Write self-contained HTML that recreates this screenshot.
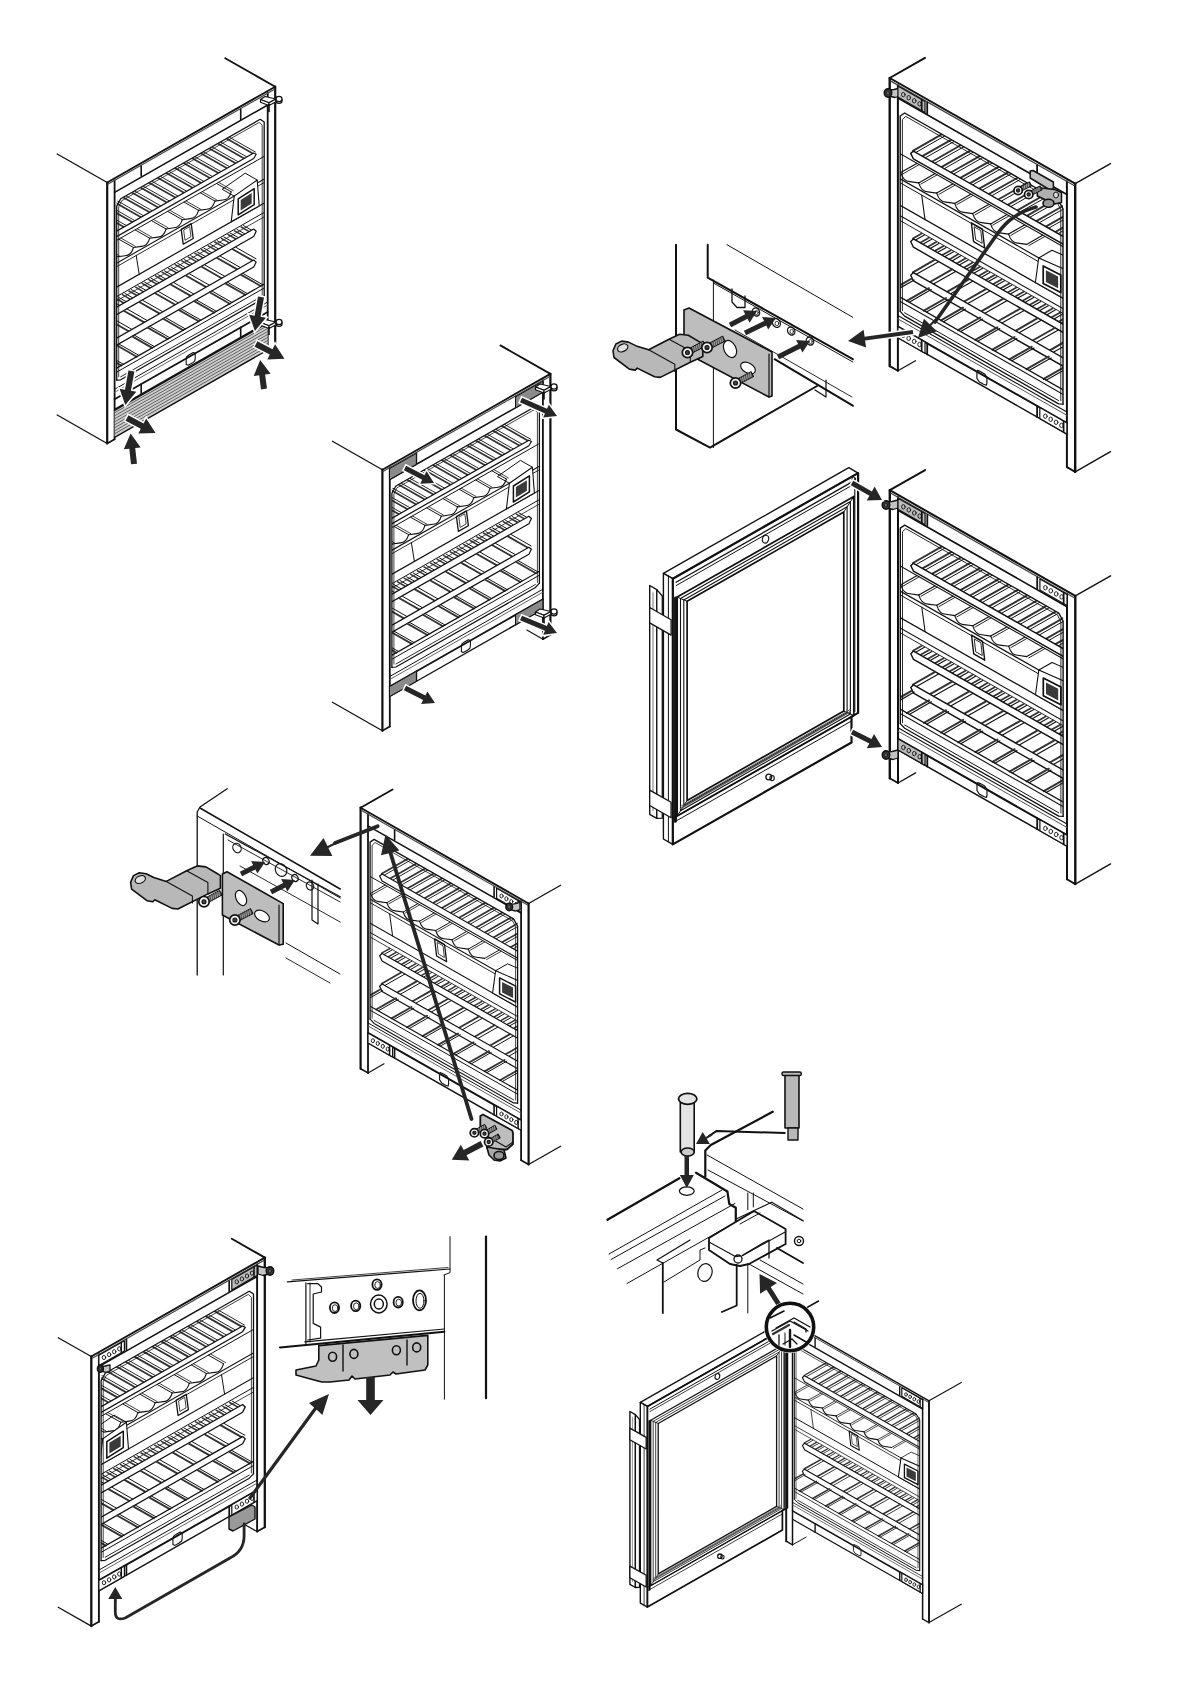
<!DOCTYPE html>
<html><head><meta charset="utf-8"><style>
html,body{margin:0;padding:0;background:#fff;}
svg{display:block;}
</style></head><body>
<svg width="1191" height="1684" viewBox="0 0 1191 1684" stroke-linecap="round" stroke-linejoin="round">
<rect width="1191" height="1684" fill="#fff"/>
<path d="M107.2,182.5 L57.2,154" stroke="#111" stroke-width="1.3" fill="none"/>
<path d="M107.2,443.5 L57.2,415" stroke="#111" stroke-width="1.3" fill="none"/>
<path d="M275.2,86.7 L225.2,58.2" stroke="#111" stroke-width="1.8" fill="none"/>
<path d="M107.2,182.5 L107.2,443.5" stroke="#111" stroke-width="2.2" fill="none"/>
<path d="M114.6,180.3 L114.6,439.3" stroke="#111" stroke-width="1.8" fill="none"/>
<path d="M107.2,443.5 L114.6,439.3" stroke="#111" stroke-width="1.6" fill="none"/>
<path d="M275.2,86.7 L275.2,347.7" stroke="#111" stroke-width="2.2" fill="none"/>
<path d="M267.7,93 L267.7,352" stroke="#111" stroke-width="1.8" fill="none"/>
<path d="M275.2,347.7 L267.7,352" stroke="#111" stroke-width="1.6" fill="none"/>
<path d="M107.2,182.5 L275.2,86.7" stroke="#111" stroke-width="1.8" fill="none"/>
<path d="M108.2,184.1 L274.2,89.5" stroke="#444" stroke-width="1.2" fill="none"/>
<path d="M114.6,192.3 L267.7,105" stroke="#111" stroke-width="1.5" fill="none"/>
<path d="M141.2,166.1 L141.2,176.1" stroke="#111" stroke-width="1.6" fill="none"/>
<path d="M240.7,109.4 L240.7,119.4" stroke="#111" stroke-width="1.6" fill="none"/>
<path d="M114.6,389.3 L267.7,302" stroke="#111" stroke-width="1" fill="none"/>
<path d="M114.6,392.3 L267.7,305" stroke="#555" stroke-width="0.9" fill="none"/>
<path d="M114.6,399.3 L267.7,312" stroke="#111" stroke-width="1.8" fill="none"/>
<path d="M141.2,384.1 L141.2,394.1" stroke="#111" stroke-width="1.6" fill="none"/>
<path d="M240.7,327.4 L240.7,337.4" stroke="#111" stroke-width="1.6" fill="none"/>
<path d="M114.6,409.3 L267.7,322" stroke="#111" stroke-width="1.4" fill="none"/>
<path d="M186.2,359.5 L186.7,356.7 L189.2,354.8 L193.2,352.5 L195.2,353.3 L195.2,358.3 L194.7,361.1 L192.2,363.1 L188.2,365.3 L186.2,364.5 L186.2,359.5" stroke="#111" stroke-width="1.1" fill="none"/>
<clipPath id="c1"><path d="M116.7,201.1 L264.2,117 L264.2,298 L116.7,382.1 Z"/></clipPath><g clip-path="url(#c1)">
<path d="M115.2,231.9 L87.2,216" stroke="#333" stroke-width="1.7" fill="none"/>
<path d="M117.8,230.5 L89.8,214.5" stroke="#111" stroke-width="0.9" fill="none"/>
<path d="M123.8,227 L95.8,211.1" stroke="#333" stroke-width="1.7" fill="none"/>
<path d="M126.4,225.6 L98.4,209.6" stroke="#111" stroke-width="0.9" fill="none"/>
<path d="M132.4,222.1 L104.4,206.2" stroke="#333" stroke-width="1.7" fill="none"/>
<path d="M135,220.7 L107,204.7" stroke="#111" stroke-width="0.9" fill="none"/>
<path d="M141,217.2 L113,201.3" stroke="#333" stroke-width="1.7" fill="none"/>
<path d="M143.6,215.8 L115.6,199.8" stroke="#111" stroke-width="0.9" fill="none"/>
<path d="M149.6,212.3 L121.6,196.4" stroke="#333" stroke-width="1.7" fill="none"/>
<path d="M152.2,210.8 L124.2,194.9" stroke="#111" stroke-width="0.9" fill="none"/>
<path d="M158.2,207.4 L130.2,191.5" stroke="#333" stroke-width="1.7" fill="none"/>
<path d="M160.8,205.9 L132.8,190" stroke="#111" stroke-width="0.9" fill="none"/>
<path d="M166.8,202.5 L138.8,186.6" stroke="#333" stroke-width="1.7" fill="none"/>
<path d="M169.4,201 L141.4,185.1" stroke="#111" stroke-width="0.9" fill="none"/>
<path d="M175.4,197.6 L147.4,181.7" stroke="#333" stroke-width="1.7" fill="none"/>
<path d="M178,196.1 L150,180.2" stroke="#111" stroke-width="0.9" fill="none"/>
<path d="M184,192.7 L156,176.8" stroke="#333" stroke-width="1.7" fill="none"/>
<path d="M186.6,191.2 L158.6,175.3" stroke="#111" stroke-width="0.9" fill="none"/>
<path d="M192.6,187.8 L164.6,171.9" stroke="#333" stroke-width="1.7" fill="none"/>
<path d="M195.2,186.3 L167.2,170.4" stroke="#111" stroke-width="0.9" fill="none"/>
<path d="M201.2,182.9 L173.2,167" stroke="#333" stroke-width="1.7" fill="none"/>
<path d="M203.8,181.4 L175.8,165.5" stroke="#111" stroke-width="0.9" fill="none"/>
<path d="M209.8,178 L181.8,162.1" stroke="#333" stroke-width="1.7" fill="none"/>
<path d="M212.4,176.5 L184.4,160.6" stroke="#111" stroke-width="0.9" fill="none"/>
<path d="M218.4,173.1 L190.4,157.2" stroke="#333" stroke-width="1.7" fill="none"/>
<path d="M221,171.6 L193,155.7" stroke="#111" stroke-width="0.9" fill="none"/>
<path d="M227,168.2 L199,152.3" stroke="#333" stroke-width="1.7" fill="none"/>
<path d="M229.6,166.7 L201.6,150.8" stroke="#111" stroke-width="0.9" fill="none"/>
<path d="M235.6,163.3 L207.6,147.4" stroke="#333" stroke-width="1.7" fill="none"/>
<path d="M238.2,161.8 L210.2,145.9" stroke="#111" stroke-width="0.9" fill="none"/>
<path d="M244.2,158.4 L216.2,142.5" stroke="#333" stroke-width="1.7" fill="none"/>
<path d="M246.8,156.9 L218.8,141" stroke="#111" stroke-width="0.9" fill="none"/>
<path d="M252.8,153.5 L224.8,137.5" stroke="#333" stroke-width="1.7" fill="none"/>
<path d="M255.4,152 L227.4,136.1" stroke="#111" stroke-width="0.9" fill="none"/>
<path d="M102.2,239.3 L253.7,153 L256.2,154.3 L253.7,158.5 L102.2,244.8" stroke="#111" stroke-width="1.2" fill="#fff"/>
<path d="M102.2,248.3 L280.2,146.9 L280.2,195.9 L102.2,297.4 Z" fill="#fff" stroke="none" stroke-width="0"/>
<path d="M102.2,248.6 L280.2,147.2" stroke="#111" stroke-width="1" fill="none"/>
<path d="M117.2,256.8 L102.7,248.5" stroke="#111" stroke-width="1" fill="none"/>
<path d="M119.2,255.7 L104.7,247.4" stroke="#111" stroke-width="0.8" fill="none"/>
<path d="M133.5,247.5 L119,239.3" stroke="#111" stroke-width="1" fill="none"/>
<path d="M135.5,246.4 L121,238.1" stroke="#111" stroke-width="0.8" fill="none"/>
<path d="M149.8,238.2 L135.3,230" stroke="#111" stroke-width="1" fill="none"/>
<path d="M151.8,237.1 L137.3,228.8" stroke="#111" stroke-width="0.8" fill="none"/>
<path d="M166.1,229 L151.6,220.7" stroke="#111" stroke-width="1" fill="none"/>
<path d="M168.1,227.8 L153.6,219.5" stroke="#111" stroke-width="0.8" fill="none"/>
<path d="M182.3,219.7 L167.8,211.4" stroke="#111" stroke-width="1" fill="none"/>
<path d="M184.3,218.5 L169.8,210.3" stroke="#111" stroke-width="0.8" fill="none"/>
<path d="M198.6,210.4 L184.1,202.1" stroke="#111" stroke-width="1" fill="none"/>
<path d="M200.6,209.2 L186.1,201" stroke="#111" stroke-width="0.8" fill="none"/>
<path d="M214.9,201.1 L200.4,192.8" stroke="#111" stroke-width="1" fill="none"/>
<path d="M216.9,200 L202.4,191.7" stroke="#111" stroke-width="0.8" fill="none"/>
<path d="M231.2,191.8 L216.7,183.6" stroke="#111" stroke-width="1" fill="none"/>
<path d="M233.2,190.7 L218.7,182.4" stroke="#111" stroke-width="0.8" fill="none"/>
<path d="M117.2,256.8 L125.2,255.7 Q131,255.7 133.5,247.5" stroke="#111" stroke-width="1.1" fill="none"/>
<path d="M133.5,247.5 L141.5,246.4 Q147.3,246.4 149.8,238.2" stroke="#111" stroke-width="1.1" fill="none"/>
<path d="M149.8,238.2 L157.8,237.1 Q163.6,237.1 166.1,229" stroke="#111" stroke-width="1.1" fill="none"/>
<path d="M166.1,229 L174,227.8 Q179.9,227.8 182.3,219.7" stroke="#111" stroke-width="1.1" fill="none"/>
<path d="M182.3,219.7 L190.3,218.6 Q196.2,218.6 198.6,210.4" stroke="#111" stroke-width="1.1" fill="none"/>
<path d="M198.6,210.4 L206.6,209.3 Q212.5,209.3 214.9,201.1" stroke="#111" stroke-width="1.1" fill="none"/>
<path d="M214.9,201.1 L222.9,200 Q228.8,200 231.2,191.8" stroke="#111" stroke-width="1.1" fill="none"/>
<path d="M102.2,271.4 L280.2,169.9" stroke="#111" stroke-width="1.1" fill="none"/>
<path d="M102.2,274.9 L280.2,173.4" stroke="#111" stroke-width="0.9" fill="none"/>
<path d="M102.2,295.4 L280.2,193.9" stroke="#111" stroke-width="1.2" fill="none"/>
<path d="M231.2,221.8 L234.2,196.1 L257.2,180 L259.2,205.9 Z" fill="#fff" stroke="#111" stroke-width="1.1"/>
<path d="M234.2,196.1 L222.2,189.3 L245.2,173.2 L257.2,180" stroke="#111" stroke-width="1" fill="none"/>
<path d="M238.2,214.8 L238.2,198.8 L254.2,188.7 L254.2,204.7 Z" stroke="#111" stroke-width="1.5" fill="none"/>
<path d="M240.7,210.4 L240.7,199.9 L251.7,193.1 L251.7,203.6 Z" fill="#3a3a3a" stroke="none" stroke-width="0"/>
<path d="M181.2,229.3 L183.2,244.2 L193.2,238.5 L191.2,223.6 Z" stroke="#111" stroke-width="1.3" fill="none"/>
<path d="M183.7,230.4 L185,240.2 L191,236.7 L189.7,227 Z" stroke="#111" stroke-width="0.8" fill="none"/>
<path d="M136.2,255.5 L139.2,274.3" stroke="#111" stroke-width="1" fill="none"/>
<path d="M102.2,304.8 L280.2,203.3" stroke="#111" stroke-width="1" fill="none"/>
<path d="M102.2,309.1 L280.2,207.7" stroke="#111" stroke-width="0.8" fill="none"/>
<path d="M117.2,306.8 L109.2,302.2" stroke="#333" stroke-width="1.5" fill="none"/>
<path d="M119.6,305.4 L111.6,300.9" stroke="#111" stroke-width="1" fill="none"/>
<path d="M123.8,303 L115.8,298.5" stroke="#333" stroke-width="1.5" fill="none"/>
<path d="M126.2,301.7 L118.2,297.1" stroke="#111" stroke-width="1" fill="none"/>
<path d="M130.4,299.3 L122.4,294.7" stroke="#333" stroke-width="1.5" fill="none"/>
<path d="M132.8,297.9 L124.8,293.3" stroke="#111" stroke-width="1" fill="none"/>
<path d="M137,295.5 L129,291" stroke="#333" stroke-width="1.5" fill="none"/>
<path d="M139.4,294.1 L131.4,289.6" stroke="#111" stroke-width="1" fill="none"/>
<path d="M143.6,291.8 L135.6,287.2" stroke="#333" stroke-width="1.5" fill="none"/>
<path d="M146,290.4 L138,285.8" stroke="#111" stroke-width="1" fill="none"/>
<path d="M150.2,288 L142.2,283.4" stroke="#333" stroke-width="1.5" fill="none"/>
<path d="M152.6,286.6 L144.6,282.1" stroke="#111" stroke-width="1" fill="none"/>
<path d="M156.8,284.2 L148.8,279.7" stroke="#333" stroke-width="1.5" fill="none"/>
<path d="M159.2,282.9 L151.2,278.3" stroke="#111" stroke-width="1" fill="none"/>
<path d="M163.4,280.5 L155.4,275.9" stroke="#333" stroke-width="1.5" fill="none"/>
<path d="M165.8,279.1 L157.8,274.5" stroke="#111" stroke-width="1" fill="none"/>
<path d="M170,276.7 L162,272.1" stroke="#333" stroke-width="1.5" fill="none"/>
<path d="M172.4,275.3 L164.4,270.8" stroke="#111" stroke-width="1" fill="none"/>
<path d="M176.6,272.9 L168.6,268.4" stroke="#333" stroke-width="1.5" fill="none"/>
<path d="M179,271.6 L171,267" stroke="#111" stroke-width="1" fill="none"/>
<path d="M183.2,269.2 L175.2,264.6" stroke="#333" stroke-width="1.5" fill="none"/>
<path d="M185.6,267.8 L177.6,263.3" stroke="#111" stroke-width="1" fill="none"/>
<path d="M189.8,265.4 L181.8,260.9" stroke="#333" stroke-width="1.5" fill="none"/>
<path d="M192.2,264.1 L184.2,259.5" stroke="#111" stroke-width="1" fill="none"/>
<path d="M196.4,261.7 L188.4,257.1" stroke="#333" stroke-width="1.5" fill="none"/>
<path d="M198.8,260.3 L190.8,255.7" stroke="#111" stroke-width="1" fill="none"/>
<path d="M203,257.9 L195,253.3" stroke="#333" stroke-width="1.5" fill="none"/>
<path d="M205.4,256.5 L197.4,252" stroke="#111" stroke-width="1" fill="none"/>
<path d="M209.6,254.1 L201.6,249.6" stroke="#333" stroke-width="1.5" fill="none"/>
<path d="M212,252.8 L204,248.2" stroke="#111" stroke-width="1" fill="none"/>
<path d="M216.2,250.4 L208.2,245.8" stroke="#333" stroke-width="1.5" fill="none"/>
<path d="M218.6,249 L210.6,244.4" stroke="#111" stroke-width="1" fill="none"/>
<path d="M222.8,246.6 L214.8,242" stroke="#333" stroke-width="1.5" fill="none"/>
<path d="M225.2,245.2 L217.2,240.7" stroke="#111" stroke-width="1" fill="none"/>
<path d="M229.4,242.8 L221.4,238.3" stroke="#333" stroke-width="1.5" fill="none"/>
<path d="M231.8,241.5 L223.8,236.9" stroke="#111" stroke-width="1" fill="none"/>
<path d="M236,239.1 L228,234.5" stroke="#333" stroke-width="1.5" fill="none"/>
<path d="M238.4,237.7 L230.4,233.2" stroke="#111" stroke-width="1" fill="none"/>
<path d="M242.6,235.3 L234.6,230.8" stroke="#333" stroke-width="1.5" fill="none"/>
<path d="M245,234 L237,229.4" stroke="#111" stroke-width="1" fill="none"/>
<path d="M249.2,231.6 L241.2,227" stroke="#333" stroke-width="1.5" fill="none"/>
<path d="M251.6,230.2 L243.6,225.6" stroke="#111" stroke-width="1" fill="none"/>
<path d="M102.2,315.4 L253.7,229 L256.2,231.3 L253.7,236.5 L102.2,322.9" stroke="#111" stroke-width="1.2" fill="#fff"/>
<path d="M113.2,340.1 L93.2,328.7" stroke="#333" stroke-width="1.8" fill="none"/>
<path d="M116.4,338.3 L96.4,326.9" stroke="#111" stroke-width="1" fill="none"/>
<path d="M128.7,331.2 L108.7,319.8" stroke="#333" stroke-width="1.8" fill="none"/>
<path d="M131.9,329.4 L111.9,318" stroke="#111" stroke-width="1" fill="none"/>
<path d="M144.2,322.4 L124.2,311" stroke="#333" stroke-width="1.8" fill="none"/>
<path d="M147.4,320.6 L127.4,309.2" stroke="#111" stroke-width="1" fill="none"/>
<path d="M159.7,313.6 L139.7,302.2" stroke="#333" stroke-width="1.8" fill="none"/>
<path d="M162.9,311.8 L142.9,300.4" stroke="#111" stroke-width="1" fill="none"/>
<path d="M175.2,304.7 L155.2,293.3" stroke="#333" stroke-width="1.8" fill="none"/>
<path d="M178.4,302.9 L158.4,291.5" stroke="#111" stroke-width="1" fill="none"/>
<path d="M190.7,295.9 L170.7,284.5" stroke="#333" stroke-width="1.8" fill="none"/>
<path d="M193.9,294.1 L173.9,282.7" stroke="#111" stroke-width="1" fill="none"/>
<path d="M206.2,287.1 L186.2,275.7" stroke="#333" stroke-width="1.8" fill="none"/>
<path d="M209.4,285.2 L189.4,273.8" stroke="#111" stroke-width="1" fill="none"/>
<path d="M221.7,278.2 L201.7,266.8" stroke="#333" stroke-width="1.8" fill="none"/>
<path d="M224.9,276.4 L204.9,265" stroke="#111" stroke-width="1" fill="none"/>
<path d="M237.2,269.4 L217.2,258" stroke="#333" stroke-width="1.8" fill="none"/>
<path d="M240.4,267.6 L220.4,256.2" stroke="#111" stroke-width="1" fill="none"/>
<path d="M252.7,260.6 L232.7,249.2" stroke="#333" stroke-width="1.8" fill="none"/>
<path d="M255.9,258.7 L235.9,247.3" stroke="#111" stroke-width="1" fill="none"/>
<path d="M102.2,346.4 L253.7,260 L256.2,262.1 L253.7,267 L102.2,353.4" stroke="#111" stroke-width="1.2" fill="#fff"/>
<path d="M121.2,365.5 L101.2,354.1" stroke="#333" stroke-width="1.8" fill="none"/>
<path d="M123.4,364.3 L103.4,352.9" stroke="#111" stroke-width="1" fill="none"/>
<path d="M136.7,356.7 L116.7,345.3" stroke="#333" stroke-width="1.8" fill="none"/>
<path d="M138.9,355.4 L118.9,344" stroke="#111" stroke-width="1" fill="none"/>
<path d="M152.2,347.9 L132.2,336.4" stroke="#333" stroke-width="1.8" fill="none"/>
<path d="M154.4,346.6 L134.4,335.2" stroke="#111" stroke-width="1" fill="none"/>
<path d="M167.7,339 L147.7,327.6" stroke="#333" stroke-width="1.8" fill="none"/>
<path d="M169.9,337.8 L149.9,326.4" stroke="#111" stroke-width="1" fill="none"/>
<path d="M183.2,330.2 L163.2,318.8" stroke="#333" stroke-width="1.8" fill="none"/>
<path d="M185.4,328.9 L165.4,317.5" stroke="#111" stroke-width="1" fill="none"/>
<path d="M198.7,321.3 L178.7,309.9" stroke="#333" stroke-width="1.8" fill="none"/>
<path d="M200.9,320.1 L180.9,308.7" stroke="#111" stroke-width="1" fill="none"/>
<path d="M214.2,312.5 L194.2,301.1" stroke="#333" stroke-width="1.8" fill="none"/>
<path d="M216.4,311.3 L196.4,299.9" stroke="#111" stroke-width="1" fill="none"/>
<path d="M229.7,303.7 L209.7,292.3" stroke="#333" stroke-width="1.8" fill="none"/>
<path d="M231.9,302.4 L211.9,291" stroke="#111" stroke-width="1" fill="none"/>
<path d="M245.2,294.8 L225.2,283.4" stroke="#333" stroke-width="1.8" fill="none"/>
<path d="M247.4,293.6 L227.4,282.2" stroke="#111" stroke-width="1" fill="none"/>
<path d="M260.7,286 L240.7,274.6" stroke="#333" stroke-width="1.8" fill="none"/>
<path d="M262.9,284.8 L242.9,273.4" stroke="#111" stroke-width="1" fill="none"/>
<path d="M102.2,376.4 L280.2,274.9" stroke="#111" stroke-width="1.2" fill="none"/>
<path d="M102.2,380.4 L280.2,278.9" stroke="#111" stroke-width="1" fill="none"/>
</g>
<path d="M116.7,380.1 L116.7,206.1 L120.7,198.8 L260.2,119.3 L264.2,122 L264.2,296" stroke="#111" stroke-width="1.3" fill="none"/>
<path d="M118.7,376.9 L118.7,206.9 L121.7,200.7 L259.2,122.4 L262.2,125.2 L262.2,295.1" stroke="#111" stroke-width="0.8" fill="none"/>
<path d="M116.7,380.1 L120.7,379.8 L260.2,300.3 L264.2,296" stroke="#111" stroke-width="1.2" fill="none"/>
<path d="M120.7,376.8 L260.2,297.3" stroke="#111" stroke-width="0.9" fill="none"/>
<path d="M114.6,410.3 L267.7,323 L267.7,350 L114.6,437.3 Z" fill="#cfcfcf" stroke="none" stroke-width="0"/>
<path d="M114.6,412.8 L267.7,325.5" stroke="#444" stroke-width="0.8" fill="none"/>
<path d="M114.6,415.8 L267.7,328.5" stroke="#444" stroke-width="0.8" fill="none"/>
<path d="M114.6,418.8 L267.7,331.5" stroke="#444" stroke-width="0.8" fill="none"/>
<path d="M114.6,421.8 L267.7,334.5" stroke="#444" stroke-width="0.8" fill="none"/>
<path d="M114.6,424.8 L267.7,337.5" stroke="#444" stroke-width="0.8" fill="none"/>
<path d="M114.6,427.8 L267.7,340.5" stroke="#444" stroke-width="0.8" fill="none"/>
<path d="M114.6,430.8 L267.7,343.5" stroke="#444" stroke-width="0.8" fill="none"/>
<path d="M114.6,433.8 L267.7,346.5" stroke="#444" stroke-width="0.8" fill="none"/>
<path d="M114.6,410.3 L267.7,323" stroke="#111" stroke-width="1.4" fill="none"/>
<path d="M114.6,437.3 L267.7,350" stroke="#111" stroke-width="1.4" fill="none"/>
<path d="M260.5,99.5 L265,96.5 L276,99 L269,102.8 Z" fill="#fff" stroke="#111" stroke-width="1.2"/>
<path d="M260.5,99.5 L269,102.8 L269,105.5 L260.5,102.3 Z" fill="#fff" stroke="#111" stroke-width="1.2"/>
<path d="M269,102.8 L276,99 L276,101.7 L269,105.5 Z" fill="#fff" stroke="#111" stroke-width="1.2"/>
<ellipse cx="279" cy="100.8" rx="3" ry="2.6" fill="#fff" stroke="#111" stroke-width="1.3" transform="rotate(0 279 100.8)"/>
<ellipse cx="279" cy="99" rx="3" ry="2.6" fill="#fff" stroke="#111" stroke-width="1.3" transform="rotate(0 279 99)"/>
<path d="M269,105.5 L269,111.5" stroke="#111" stroke-width="1.6" fill="none"/>
<path d="M260.5,322.5 L265,319.5 L276,322 L269,325.8 Z" fill="#fff" stroke="#111" stroke-width="1.2"/>
<path d="M260.5,322.5 L269,325.8 L269,328.5 L260.5,325.3 Z" fill="#fff" stroke="#111" stroke-width="1.2"/>
<path d="M269,325.8 L276,322 L276,324.7 L269,328.5 Z" fill="#fff" stroke="#111" stroke-width="1.2"/>
<ellipse cx="279" cy="323.8" rx="3" ry="2.6" fill="#fff" stroke="#111" stroke-width="1.3" transform="rotate(0 279 323.8)"/>
<ellipse cx="279" cy="322" rx="3" ry="2.6" fill="#fff" stroke="#111" stroke-width="1.3" transform="rotate(0 279 322)"/>
<path d="M269,328.5 L269,334.5" stroke="#111" stroke-width="1.6" fill="none"/>
<path d="M258,296.5 L254.6,315.7 L249.2,314.7 L254.9,331 L265.9,317.7 L260.5,316.8 L264,297.5 Z" fill="#fff" stroke="#fff" stroke-width="3" stroke-linejoin="miter"/>
<path d="M258,296.5 L254.6,315.7 L249.2,314.7 L254.9,331 L265.9,317.7 L260.5,316.8 L264,297.5 Z" fill="#262626" stroke="none" stroke-width="0"/>
<path d="M128.4,370.5 L125,389.7 L119.6,388.7 L125.3,405 L136.3,391.7 L130.9,390.8 L134.4,371.5 Z" fill="#fff" stroke="#fff" stroke-width="3" stroke-linejoin="miter"/>
<path d="M128.4,370.5 L125,389.7 L119.6,388.7 L125.3,405 L136.3,391.7 L130.9,390.8 L134.4,371.5 Z" fill="#262626" stroke="none" stroke-width="0"/>
<path d="M254.6,346.7 L269.8,354.5 L267.3,359.4 L284.5,358.7 L275.1,344.3 L272.5,349.2 L257.4,341.3 Z" fill="#fff" stroke="#fff" stroke-width="3" stroke-linejoin="miter"/>
<path d="M254.6,346.7 L269.8,354.5 L267.3,359.4 L284.5,358.7 L275.1,344.3 L272.5,349.2 L257.4,341.3 Z" fill="#262626" stroke="none" stroke-width="0"/>
<path d="M125.6,420.7 L140.8,428.7 L138.3,433.5 L155.5,433 L146.2,418.5 L143.6,423.4 L128.4,415.3 Z" fill="#fff" stroke="#fff" stroke-width="3" stroke-linejoin="miter"/>
<path d="M125.6,420.7 L140.8,428.7 L138.3,433.5 L155.5,433 L146.2,418.5 L143.6,423.4 L128.4,415.3 Z" fill="#262626" stroke="none" stroke-width="0"/>
<path d="M267,388.6 L265.1,374.5 L270.6,373.8 L260.2,360 L253.7,376 L259.2,375.3 L261,389.4 Z" fill="#fff" stroke="#fff" stroke-width="3" stroke-linejoin="miter"/>
<path d="M267,388.6 L265.1,374.5 L270.6,373.8 L260.2,360 L253.7,376 L259.2,375.3 L261,389.4 Z" fill="#262626" stroke="none" stroke-width="0"/>
<path d="M137,463.7 L135.2,448.1 L140.7,447.5 L130.6,433.5 L123.8,449.3 L129.3,448.7 L131,464.3 Z" fill="#fff" stroke="#fff" stroke-width="3" stroke-linejoin="miter"/>
<path d="M137,463.7 L135.2,448.1 L140.7,447.5 L130.6,433.5 L123.8,449.3 L129.3,448.7 L131,464.3 Z" fill="#262626" stroke="none" stroke-width="0"/>
<path d="M382.4,469.7 L332.4,441.2" stroke="#111" stroke-width="1.3" fill="none"/>
<path d="M382.4,730.7 L332.4,702.2" stroke="#111" stroke-width="1.3" fill="none"/>
<path d="M550.4,373.9 L500.4,345.4" stroke="#111" stroke-width="1.8" fill="none"/>
<path d="M382.4,469.7 L382.4,730.7" stroke="#111" stroke-width="2.2" fill="none"/>
<path d="M389.8,467.5 L389.8,726.5" stroke="#111" stroke-width="1.8" fill="none"/>
<path d="M382.4,730.7 L389.8,726.5" stroke="#111" stroke-width="1.6" fill="none"/>
<path d="M550.4,373.9 L550.4,634.9" stroke="#111" stroke-width="2.2" fill="none"/>
<path d="M542.9,380.2 L542.9,639.2" stroke="#111" stroke-width="1.8" fill="none"/>
<path d="M550.4,634.9 L542.9,639.2" stroke="#111" stroke-width="1.6" fill="none"/>
<path d="M382.4,469.7 L550.4,373.9" stroke="#111" stroke-width="1.8" fill="none"/>
<path d="M383.4,471.3 L549.4,376.7" stroke="#444" stroke-width="1.2" fill="none"/>
<path d="M389.8,479.5 L542.9,392.2" stroke="#111" stroke-width="1.5" fill="none"/>
<path d="M416.4,453.3 L416.4,463.3" stroke="#111" stroke-width="1.6" fill="none"/>
<path d="M515.9,396.6 L515.9,406.6" stroke="#111" stroke-width="1.6" fill="none"/>
<path d="M389.8,676.5 L542.9,589.2" stroke="#111" stroke-width="1" fill="none"/>
<path d="M389.8,679.5 L542.9,592.2" stroke="#555" stroke-width="0.9" fill="none"/>
<path d="M389.8,686.5 L542.9,599.2" stroke="#111" stroke-width="1.8" fill="none"/>
<path d="M416.4,671.3 L416.4,681.3" stroke="#111" stroke-width="1.6" fill="none"/>
<path d="M515.9,614.6 L515.9,624.6" stroke="#111" stroke-width="1.6" fill="none"/>
<path d="M389.8,696.5 L542.9,609.2" stroke="#111" stroke-width="1.4" fill="none"/>
<path d="M542.9,639.2 L526.9,630.1" stroke="#111" stroke-width="1.2" fill="none"/>
<path d="M461.4,646.7 L461.9,643.9 L464.4,642 L468.4,639.7 L470.4,640.5 L470.4,645.5 L469.9,648.3 L467.4,650.2 L463.4,652.5 L461.4,651.7 L461.4,646.7" stroke="#111" stroke-width="1.1" fill="none"/>
<clipPath id="c2"><path d="M391.9,488.3 L539.4,404.2 L539.4,585.2 L391.9,669.3 Z"/></clipPath><g clip-path="url(#c2)">
<path d="M390.4,519.1 L362.4,503.2" stroke="#333" stroke-width="1.7" fill="none"/>
<path d="M393,517.7 L365,501.7" stroke="#111" stroke-width="0.9" fill="none"/>
<path d="M399,514.2 L371,498.3" stroke="#333" stroke-width="1.7" fill="none"/>
<path d="M401.6,512.8 L373.6,496.8" stroke="#111" stroke-width="0.9" fill="none"/>
<path d="M407.6,509.3 L379.6,493.4" stroke="#333" stroke-width="1.7" fill="none"/>
<path d="M410.2,507.9 L382.2,491.9" stroke="#111" stroke-width="0.9" fill="none"/>
<path d="M416.2,504.4 L388.2,488.5" stroke="#333" stroke-width="1.7" fill="none"/>
<path d="M418.8,503 L390.8,487" stroke="#111" stroke-width="0.9" fill="none"/>
<path d="M424.8,499.5 L396.8,483.6" stroke="#333" stroke-width="1.7" fill="none"/>
<path d="M427.4,498.1 L399.4,482.1" stroke="#111" stroke-width="0.9" fill="none"/>
<path d="M433.4,494.6 L405.4,478.7" stroke="#333" stroke-width="1.7" fill="none"/>
<path d="M436,493.1 L408,477.2" stroke="#111" stroke-width="0.9" fill="none"/>
<path d="M442,489.7 L414,473.8" stroke="#333" stroke-width="1.7" fill="none"/>
<path d="M444.6,488.2 L416.6,472.3" stroke="#111" stroke-width="0.9" fill="none"/>
<path d="M450.6,484.8 L422.6,468.9" stroke="#333" stroke-width="1.7" fill="none"/>
<path d="M453.2,483.3 L425.2,467.4" stroke="#111" stroke-width="0.9" fill="none"/>
<path d="M459.2,479.9 L431.2,464" stroke="#333" stroke-width="1.7" fill="none"/>
<path d="M461.8,478.4 L433.8,462.5" stroke="#111" stroke-width="0.9" fill="none"/>
<path d="M467.8,475 L439.8,459.1" stroke="#333" stroke-width="1.7" fill="none"/>
<path d="M470.4,473.5 L442.4,457.6" stroke="#111" stroke-width="0.9" fill="none"/>
<path d="M476.4,470.1 L448.4,454.2" stroke="#333" stroke-width="1.7" fill="none"/>
<path d="M479,468.6 L451,452.7" stroke="#111" stroke-width="0.9" fill="none"/>
<path d="M485,465.2 L457,449.3" stroke="#333" stroke-width="1.7" fill="none"/>
<path d="M487.6,463.7 L459.6,447.8" stroke="#111" stroke-width="0.9" fill="none"/>
<path d="M493.6,460.3 L465.6,444.4" stroke="#333" stroke-width="1.7" fill="none"/>
<path d="M496.2,458.8 L468.2,442.9" stroke="#111" stroke-width="0.9" fill="none"/>
<path d="M502.2,455.4 L474.2,439.5" stroke="#333" stroke-width="1.7" fill="none"/>
<path d="M504.8,453.9 L476.8,438" stroke="#111" stroke-width="0.9" fill="none"/>
<path d="M510.8,450.5 L482.8,434.6" stroke="#333" stroke-width="1.7" fill="none"/>
<path d="M513.4,449 L485.4,433.1" stroke="#111" stroke-width="0.9" fill="none"/>
<path d="M519.4,445.6 L491.4,429.7" stroke="#333" stroke-width="1.7" fill="none"/>
<path d="M522,444.1 L494,428.2" stroke="#111" stroke-width="0.9" fill="none"/>
<path d="M528,440.7 L500,424.7" stroke="#333" stroke-width="1.7" fill="none"/>
<path d="M530.6,439.2 L502.6,423.3" stroke="#111" stroke-width="0.9" fill="none"/>
<path d="M377.4,526.5 L528.9,440.2 L531.4,441.5 L528.9,445.7 L377.4,532" stroke="#111" stroke-width="1.2" fill="#fff"/>
<path d="M377.4,535.5 L555.4,434.1 L555.4,483.1 L377.4,584.5 Z" fill="#fff" stroke="none" stroke-width="0"/>
<path d="M377.4,535.9 L555.4,434.4" stroke="#111" stroke-width="1" fill="none"/>
<path d="M392.4,544 L377.9,535.7" stroke="#111" stroke-width="1" fill="none"/>
<path d="M394.4,542.9 L379.9,534.6" stroke="#111" stroke-width="0.8" fill="none"/>
<path d="M408.7,534.7 L394.2,526.5" stroke="#111" stroke-width="1" fill="none"/>
<path d="M410.7,533.6 L396.2,525.3" stroke="#111" stroke-width="0.8" fill="none"/>
<path d="M425,525.4 L410.5,517.2" stroke="#111" stroke-width="1" fill="none"/>
<path d="M427,524.3 L412.5,516" stroke="#111" stroke-width="0.8" fill="none"/>
<path d="M441.3,516.2 L426.8,507.9" stroke="#111" stroke-width="1" fill="none"/>
<path d="M443.3,515 L428.8,506.7" stroke="#111" stroke-width="0.8" fill="none"/>
<path d="M457.5,506.9 L443,498.6" stroke="#111" stroke-width="1" fill="none"/>
<path d="M459.5,505.7 L445,497.5" stroke="#111" stroke-width="0.8" fill="none"/>
<path d="M473.8,497.6 L459.3,489.3" stroke="#111" stroke-width="1" fill="none"/>
<path d="M475.8,496.4 L461.3,488.2" stroke="#111" stroke-width="0.8" fill="none"/>
<path d="M490.1,488.3 L475.6,480" stroke="#111" stroke-width="1" fill="none"/>
<path d="M492.1,487.2 L477.6,478.9" stroke="#111" stroke-width="0.8" fill="none"/>
<path d="M506.4,479 L491.9,470.8" stroke="#111" stroke-width="1" fill="none"/>
<path d="M508.4,477.9 L493.9,469.6" stroke="#111" stroke-width="0.8" fill="none"/>
<path d="M392.4,544 L400.4,542.9 Q406.2,542.9 408.7,534.7" stroke="#111" stroke-width="1.1" fill="none"/>
<path d="M408.7,534.7 L416.7,533.6 Q422.5,533.6 425,525.4" stroke="#111" stroke-width="1.1" fill="none"/>
<path d="M425,525.4 L433,524.3 Q438.8,524.3 441.3,516.2" stroke="#111" stroke-width="1.1" fill="none"/>
<path d="M441.3,516.2 L449.2,515 Q455.1,515 457.5,506.9" stroke="#111" stroke-width="1.1" fill="none"/>
<path d="M457.5,506.9 L465.5,505.8 Q471.4,505.8 473.8,497.6" stroke="#111" stroke-width="1.1" fill="none"/>
<path d="M473.8,497.6 L481.8,496.5 Q487.7,496.5 490.1,488.3" stroke="#111" stroke-width="1.1" fill="none"/>
<path d="M490.1,488.3 L498.1,487.2 Q504,487.2 506.4,479" stroke="#111" stroke-width="1.1" fill="none"/>
<path d="M377.4,558.5 L555.4,457.1" stroke="#111" stroke-width="1.1" fill="none"/>
<path d="M377.4,562 L555.4,460.6" stroke="#111" stroke-width="0.9" fill="none"/>
<path d="M377.4,582.5 L555.4,481.1" stroke="#111" stroke-width="1.2" fill="none"/>
<path d="M506.4,509 L509.4,483.3 L532.4,467.2 L534.4,493.1 Z" fill="#fff" stroke="#111" stroke-width="1.1"/>
<path d="M509.4,483.3 L497.4,476.5 L520.4,460.4 L532.4,467.2" stroke="#111" stroke-width="1" fill="none"/>
<path d="M513.4,502 L513.4,486 L529.4,475.9 L529.4,491.9 Z" stroke="#111" stroke-width="1.5" fill="none"/>
<path d="M515.9,497.6 L515.9,487.1 L526.9,480.3 L526.9,490.8 Z" fill="#3a3a3a" stroke="none" stroke-width="0"/>
<path d="M456.4,516.5 L458.4,531.4 L468.4,525.7 L466.4,510.8 Z" stroke="#111" stroke-width="1.3" fill="none"/>
<path d="M458.9,517.6 L460.2,527.4 L466.2,523.9 L464.9,514.2 Z" stroke="#111" stroke-width="0.8" fill="none"/>
<path d="M411.4,542.7 L414.4,561.5" stroke="#111" stroke-width="1" fill="none"/>
<path d="M377.4,592 L555.4,490.5" stroke="#111" stroke-width="1" fill="none"/>
<path d="M377.4,596.4 L555.4,494.9" stroke="#111" stroke-width="0.8" fill="none"/>
<path d="M392.4,594 L384.4,589.4" stroke="#333" stroke-width="1.5" fill="none"/>
<path d="M394.8,592.6 L386.8,588.1" stroke="#111" stroke-width="1" fill="none"/>
<path d="M399,590.2 L391,585.7" stroke="#333" stroke-width="1.5" fill="none"/>
<path d="M401.4,588.9 L393.4,584.3" stroke="#111" stroke-width="1" fill="none"/>
<path d="M405.6,586.5 L397.6,581.9" stroke="#333" stroke-width="1.5" fill="none"/>
<path d="M408,585.1 L400,580.5" stroke="#111" stroke-width="1" fill="none"/>
<path d="M412.2,582.7 L404.2,578.2" stroke="#333" stroke-width="1.5" fill="none"/>
<path d="M414.6,581.3 L406.6,576.8" stroke="#111" stroke-width="1" fill="none"/>
<path d="M418.8,579 L410.8,574.4" stroke="#333" stroke-width="1.5" fill="none"/>
<path d="M421.2,577.6 L413.2,573" stroke="#111" stroke-width="1" fill="none"/>
<path d="M425.4,575.2 L417.4,570.6" stroke="#333" stroke-width="1.5" fill="none"/>
<path d="M427.8,573.8 L419.8,569.3" stroke="#111" stroke-width="1" fill="none"/>
<path d="M432,571.4 L424,566.9" stroke="#333" stroke-width="1.5" fill="none"/>
<path d="M434.4,570.1 L426.4,565.5" stroke="#111" stroke-width="1" fill="none"/>
<path d="M438.6,567.7 L430.6,563.1" stroke="#333" stroke-width="1.5" fill="none"/>
<path d="M441,566.3 L433,561.7" stroke="#111" stroke-width="1" fill="none"/>
<path d="M445.2,563.9 L437.2,559.3" stroke="#333" stroke-width="1.5" fill="none"/>
<path d="M447.6,562.5 L439.6,558" stroke="#111" stroke-width="1" fill="none"/>
<path d="M451.8,560.1 L443.8,555.6" stroke="#333" stroke-width="1.5" fill="none"/>
<path d="M454.2,558.8 L446.2,554.2" stroke="#111" stroke-width="1" fill="none"/>
<path d="M458.4,556.4 L450.4,551.8" stroke="#333" stroke-width="1.5" fill="none"/>
<path d="M460.8,555 L452.8,550.5" stroke="#111" stroke-width="1" fill="none"/>
<path d="M465,552.6 L457,548.1" stroke="#333" stroke-width="1.5" fill="none"/>
<path d="M467.4,551.2 L459.4,546.7" stroke="#111" stroke-width="1" fill="none"/>
<path d="M471.6,548.9 L463.6,544.3" stroke="#333" stroke-width="1.5" fill="none"/>
<path d="M474,547.5 L466,542.9" stroke="#111" stroke-width="1" fill="none"/>
<path d="M478.2,545.1 L470.2,540.5" stroke="#333" stroke-width="1.5" fill="none"/>
<path d="M480.6,543.7 L472.6,539.2" stroke="#111" stroke-width="1" fill="none"/>
<path d="M484.8,541.3 L476.8,536.8" stroke="#333" stroke-width="1.5" fill="none"/>
<path d="M487.2,540 L479.2,535.4" stroke="#111" stroke-width="1" fill="none"/>
<path d="M491.4,537.6 L483.4,533" stroke="#333" stroke-width="1.5" fill="none"/>
<path d="M493.8,536.2 L485.8,531.6" stroke="#111" stroke-width="1" fill="none"/>
<path d="M498,533.8 L490,529.2" stroke="#333" stroke-width="1.5" fill="none"/>
<path d="M500.4,532.4 L492.4,527.9" stroke="#111" stroke-width="1" fill="none"/>
<path d="M504.6,530 L496.6,525.5" stroke="#333" stroke-width="1.5" fill="none"/>
<path d="M507,528.7 L499,524.1" stroke="#111" stroke-width="1" fill="none"/>
<path d="M511.2,526.3 L503.2,521.7" stroke="#333" stroke-width="1.5" fill="none"/>
<path d="M513.6,524.9 L505.6,520.4" stroke="#111" stroke-width="1" fill="none"/>
<path d="M517.8,522.5 L509.8,518" stroke="#333" stroke-width="1.5" fill="none"/>
<path d="M520.2,521.2 L512.2,516.6" stroke="#111" stroke-width="1" fill="none"/>
<path d="M524.4,518.8 L516.4,514.2" stroke="#333" stroke-width="1.5" fill="none"/>
<path d="M526.8,517.4 L518.8,512.8" stroke="#111" stroke-width="1" fill="none"/>
<path d="M377.4,602.5 L528.9,516.2 L531.4,518.5 L528.9,523.7 L377.4,610" stroke="#111" stroke-width="1.2" fill="#fff"/>
<path d="M388.4,627.3 L368.4,615.9" stroke="#333" stroke-width="1.8" fill="none"/>
<path d="M391.6,625.5 L371.6,614.1" stroke="#111" stroke-width="1" fill="none"/>
<path d="M403.9,618.4 L383.9,607" stroke="#333" stroke-width="1.8" fill="none"/>
<path d="M407.1,616.6 L387.1,605.2" stroke="#111" stroke-width="1" fill="none"/>
<path d="M419.4,609.6 L399.4,598.2" stroke="#333" stroke-width="1.8" fill="none"/>
<path d="M422.6,607.8 L402.6,596.4" stroke="#111" stroke-width="1" fill="none"/>
<path d="M434.9,600.8 L414.9,589.4" stroke="#333" stroke-width="1.8" fill="none"/>
<path d="M438.1,599 L418.1,587.6" stroke="#111" stroke-width="1" fill="none"/>
<path d="M450.4,591.9 L430.4,580.5" stroke="#333" stroke-width="1.8" fill="none"/>
<path d="M453.6,590.1 L433.6,578.7" stroke="#111" stroke-width="1" fill="none"/>
<path d="M465.9,583.1 L445.9,571.7" stroke="#333" stroke-width="1.8" fill="none"/>
<path d="M469.1,581.3 L449.1,569.9" stroke="#111" stroke-width="1" fill="none"/>
<path d="M481.4,574.3 L461.4,562.9" stroke="#333" stroke-width="1.8" fill="none"/>
<path d="M484.6,572.4 L464.6,561" stroke="#111" stroke-width="1" fill="none"/>
<path d="M496.9,565.4 L476.9,554" stroke="#333" stroke-width="1.8" fill="none"/>
<path d="M500.1,563.6 L480.1,552.2" stroke="#111" stroke-width="1" fill="none"/>
<path d="M512.4,556.6 L492.4,545.2" stroke="#333" stroke-width="1.8" fill="none"/>
<path d="M515.6,554.8 L495.6,543.4" stroke="#111" stroke-width="1" fill="none"/>
<path d="M527.9,547.8 L507.9,536.4" stroke="#333" stroke-width="1.8" fill="none"/>
<path d="M531.1,545.9 L511.1,534.5" stroke="#111" stroke-width="1" fill="none"/>
<path d="M377.4,633.5 L528.9,547.2 L531.4,549.3 L528.9,554.2 L377.4,640.5" stroke="#111" stroke-width="1.2" fill="#fff"/>
<path d="M396.4,652.7 L376.4,641.3" stroke="#333" stroke-width="1.8" fill="none"/>
<path d="M398.6,651.5 L378.6,640.1" stroke="#111" stroke-width="1" fill="none"/>
<path d="M411.9,643.9 L391.9,632.5" stroke="#333" stroke-width="1.8" fill="none"/>
<path d="M414.1,642.6 L394.1,631.2" stroke="#111" stroke-width="1" fill="none"/>
<path d="M427.4,635 L407.4,623.6" stroke="#333" stroke-width="1.8" fill="none"/>
<path d="M429.6,633.8 L409.6,622.4" stroke="#111" stroke-width="1" fill="none"/>
<path d="M442.9,626.2 L422.9,614.8" stroke="#333" stroke-width="1.8" fill="none"/>
<path d="M445.1,625 L425.1,613.6" stroke="#111" stroke-width="1" fill="none"/>
<path d="M458.4,617.4 L438.4,606" stroke="#333" stroke-width="1.8" fill="none"/>
<path d="M460.6,616.1 L440.6,604.7" stroke="#111" stroke-width="1" fill="none"/>
<path d="M473.9,608.5 L453.9,597.1" stroke="#333" stroke-width="1.8" fill="none"/>
<path d="M476.1,607.3 L456.1,595.9" stroke="#111" stroke-width="1" fill="none"/>
<path d="M489.4,599.7 L469.4,588.3" stroke="#333" stroke-width="1.8" fill="none"/>
<path d="M491.6,598.5 L471.6,587.1" stroke="#111" stroke-width="1" fill="none"/>
<path d="M504.9,590.9 L484.9,579.5" stroke="#333" stroke-width="1.8" fill="none"/>
<path d="M507.1,589.6 L487.1,578.2" stroke="#111" stroke-width="1" fill="none"/>
<path d="M520.4,582 L500.4,570.6" stroke="#333" stroke-width="1.8" fill="none"/>
<path d="M522.6,580.8 L502.6,569.4" stroke="#111" stroke-width="1" fill="none"/>
<path d="M535.9,573.2 L515.9,561.8" stroke="#333" stroke-width="1.8" fill="none"/>
<path d="M538.1,572 L518.1,560.6" stroke="#111" stroke-width="1" fill="none"/>
<path d="M377.4,663.5 L555.4,562.1" stroke="#111" stroke-width="1.2" fill="none"/>
<path d="M377.4,667.5 L555.4,566.1" stroke="#111" stroke-width="1" fill="none"/>
</g>
<path d="M391.9,667.3 L391.9,493.3 L395.9,486 L535.4,406.5 L539.4,409.2 L539.4,583.2" stroke="#111" stroke-width="1.3" fill="none"/>
<path d="M393.9,664.1 L393.9,494.1 L396.9,487.9 L534.4,409.6 L537.4,412.4 L537.4,582.4" stroke="#111" stroke-width="0.8" fill="none"/>
<path d="M391.9,667.3 L395.9,667 L535.4,587.5 L539.4,583.2" stroke="#111" stroke-width="1.2" fill="none"/>
<path d="M395.9,664 L535.4,584.5" stroke="#111" stroke-width="0.9" fill="none"/>
<path d="M389.8,468.5 L416.4,453.3 L416.4,464.3 L389.8,479.5 Z" fill="#8a8a8a" stroke="#111" stroke-width="1"/>
<path d="M515.9,396.6 L542.9,381.2 L542.9,392.2 L515.9,407.6 Z" fill="#8a8a8a" stroke="#111" stroke-width="1"/>
<path d="M389.8,686.5 L416.4,671.3 L416.4,681.3 L389.8,696.5 Z" fill="#8a8a8a" stroke="#111" stroke-width="1"/>
<path d="M515.9,614.6 L542.9,599.2 L542.9,609.2 L515.9,624.6 Z" fill="#8a8a8a" stroke="#111" stroke-width="1"/>
<path d="M535.5,387 L540,384 L551,386.5 L544,390.3 Z" fill="#fff" stroke="#111" stroke-width="1.2"/>
<path d="M535.5,387 L544,390.3 L544,393 L535.5,389.8 Z" fill="#fff" stroke="#111" stroke-width="1.2"/>
<path d="M544,390.3 L551,386.5 L551,389.2 L544,393 Z" fill="#fff" stroke="#111" stroke-width="1.2"/>
<ellipse cx="554" cy="388.3" rx="3" ry="2.6" fill="#fff" stroke="#111" stroke-width="1.3" transform="rotate(0 554 388.3)"/>
<ellipse cx="554" cy="386.5" rx="3" ry="2.6" fill="#fff" stroke="#111" stroke-width="1.3" transform="rotate(0 554 386.5)"/>
<path d="M544,393 L544,399" stroke="#111" stroke-width="1.6" fill="none"/>
<path d="M535.5,612 L540,609 L551,611.5 L544,615.3 Z" fill="#fff" stroke="#111" stroke-width="1.2"/>
<path d="M535.5,612 L544,615.3 L544,618 L535.5,614.8 Z" fill="#fff" stroke="#111" stroke-width="1.2"/>
<path d="M544,615.3 L551,611.5 L551,614.2 L544,618 Z" fill="#fff" stroke="#111" stroke-width="1.2"/>
<ellipse cx="554" cy="613.3" rx="3" ry="2.6" fill="#fff" stroke="#111" stroke-width="1.3" transform="rotate(0 554 613.3)"/>
<ellipse cx="554" cy="611.5" rx="3" ry="2.6" fill="#fff" stroke="#111" stroke-width="1.3" transform="rotate(0 554 611.5)"/>
<path d="M544,618 L544,624" stroke="#111" stroke-width="1.6" fill="none"/>
<path d="M403.9,470.2 L422.2,479.7 L420.1,483.7 L434,483 L426.6,471.3 L424.5,475.3 L406.1,465.8 Z" fill="#fff" stroke="#fff" stroke-width="3" stroke-linejoin="miter"/>
<path d="M403.9,470.2 L422.2,479.7 L420.1,483.7 L434,483 L426.6,471.3 L424.5,475.3 L406.1,465.8 Z" fill="#262626" stroke="none" stroke-width="0"/>
<path d="M520,402.3 L545,413.4 L543.2,417.5 L557,416 L548.9,404.7 L547,408.8 L522,397.7 Z" fill="#fff" stroke="#fff" stroke-width="3" stroke-linejoin="miter"/>
<path d="M520,402.3 L545,413.4 L543.2,417.5 L557,416 L548.9,404.7 L547,408.8 L522,397.7 Z" fill="#262626" stroke="none" stroke-width="0"/>
<path d="M403.9,690.2 L423.1,699.9 L421.1,703.9 L435,703 L427.4,691.4 L425.4,695.4 L406.1,685.8 Z" fill="#fff" stroke="#fff" stroke-width="3" stroke-linejoin="miter"/>
<path d="M403.9,690.2 L423.1,699.9 L421.1,703.9 L435,703 L427.4,691.4 L425.4,695.4 L406.1,685.8 Z" fill="#262626" stroke="none" stroke-width="0"/>
<path d="M520,620.3 L545,630.7 L543.2,634.8 L557,633 L548.6,621.9 L546.9,626.1 L522,615.7 Z" fill="#fff" stroke="#fff" stroke-width="3" stroke-linejoin="miter"/>
<path d="M520,620.3 L545,630.7 L543.2,634.8 L557,633 L548.6,621.9 L546.9,626.1 L522,615.7 Z" fill="#262626" stroke="none" stroke-width="0"/>
<path d="M1075.2,183.7 L1110.5,163.6" stroke="#111" stroke-width="1.4" fill="none"/>
<path d="M1075.2,471.9 L1110.5,451.7" stroke="#111" stroke-width="1.4" fill="none"/>
<path d="M889.7,78 L925,57.9" stroke="#111" stroke-width="2" fill="none"/>
<path d="M889.7,78 L889.7,366.1" stroke="#111" stroke-width="2.4" fill="none"/>
<path d="M897.9,84.9 L897.9,370.8" stroke="#111" stroke-width="2" fill="none"/>
<path d="M889.7,366.1 L897.9,370.8" stroke="#111" stroke-width="1.8" fill="none"/>
<path d="M1075.2,183.7 L1075.2,471.9" stroke="#111" stroke-width="2.4" fill="none"/>
<path d="M1066.9,181.2 L1066.9,467.1" stroke="#111" stroke-width="2" fill="none"/>
<path d="M1075.2,471.9 L1066.9,467.1" stroke="#111" stroke-width="1.8" fill="none"/>
<path d="M889.7,78 L1075.2,183.7" stroke="#111" stroke-width="2" fill="none"/>
<path d="M890.8,81.1 L1074.1,185.5" stroke="#444" stroke-width="1.3" fill="none"/>
<path d="M897.9,98.1 L1066.9,194.5" stroke="#111" stroke-width="1.7" fill="none"/>
<path d="M927.2,102.7 L927.2,113.7" stroke="#111" stroke-width="1.8" fill="none"/>
<path d="M1037.1,165.3 L1037.1,176.4" stroke="#111" stroke-width="1.8" fill="none"/>
<path d="M897.9,315.6 L1066.9,411.9" stroke="#111" stroke-width="1.1" fill="none"/>
<path d="M897.9,318.9 L1066.9,415.3" stroke="#555" stroke-width="1" fill="none"/>
<path d="M897.9,326.6 L1066.9,423" stroke="#111" stroke-width="2" fill="none"/>
<path d="M927.2,343.4 L927.2,354.4" stroke="#111" stroke-width="1.8" fill="none"/>
<path d="M1037.1,406 L1037.1,417" stroke="#111" stroke-width="1.8" fill="none"/>
<path d="M897.9,337.7 L1066.9,434" stroke="#111" stroke-width="1.5" fill="none"/>
<path d="M897.9,370.8 L915.5,360.7" stroke="#111" stroke-width="1.3" fill="none"/>
<path d="M976.9,372.8 L977.5,370.4 L980.2,371.4 L984.6,373.9 L986.9,377.4 L986.9,382.9 L986.3,385.3 L983.5,384.3 L979.1,381.8 L976.9,378.3 L976.9,372.8" stroke="#111" stroke-width="1.2" fill="none"/>
<clipPath id="c3"><path d="M900.2,110.5 L1063,203.3 L1063,406.4 L900.2,313.6 Z"/></clipPath><g clip-path="url(#c3)">
<path d="M912.9,150.8 L943.8,133.2" stroke="#333" stroke-width="1.9" fill="none"/>
<path d="M915.8,152.5 L946.7,134.8" stroke="#111" stroke-width="1" fill="none"/>
<path d="M922.4,156.2 L953.3,138.6" stroke="#333" stroke-width="1.9" fill="none"/>
<path d="M925.2,157.9 L956.2,140.3" stroke="#111" stroke-width="1" fill="none"/>
<path d="M931.9,161.7 L962.8,144" stroke="#333" stroke-width="1.9" fill="none"/>
<path d="M934.7,163.3 L965.7,145.7" stroke="#111" stroke-width="1" fill="none"/>
<path d="M941.4,167.1 L972.3,149.4" stroke="#333" stroke-width="1.9" fill="none"/>
<path d="M944.2,168.7 L975.1,151.1" stroke="#111" stroke-width="1" fill="none"/>
<path d="M950.9,172.5 L981.8,154.9" stroke="#333" stroke-width="1.9" fill="none"/>
<path d="M953.7,174.1 L984.6,156.5" stroke="#111" stroke-width="1" fill="none"/>
<path d="M960.4,177.9 L991.3,160.3" stroke="#333" stroke-width="1.9" fill="none"/>
<path d="M963.2,179.5 L994.1,161.9" stroke="#111" stroke-width="1" fill="none"/>
<path d="M969.9,183.3 L1000.8,165.7" stroke="#333" stroke-width="1.9" fill="none"/>
<path d="M972.7,184.9 L1003.6,167.3" stroke="#111" stroke-width="1" fill="none"/>
<path d="M979.3,188.7 L1010.3,171.1" stroke="#333" stroke-width="1.9" fill="none"/>
<path d="M982.2,190.3 L1013.1,172.7" stroke="#111" stroke-width="1" fill="none"/>
<path d="M988.8,194.1 L1019.8,176.5" stroke="#333" stroke-width="1.9" fill="none"/>
<path d="M991.7,195.8 L1022.6,178.1" stroke="#111" stroke-width="1" fill="none"/>
<path d="M998.3,199.5 L1029.2,181.9" stroke="#333" stroke-width="1.9" fill="none"/>
<path d="M1001.2,201.2 L1032.1,183.6" stroke="#111" stroke-width="1" fill="none"/>
<path d="M1007.8,204.9 L1038.7,187.3" stroke="#333" stroke-width="1.9" fill="none"/>
<path d="M1010.7,206.6 L1041.6,189" stroke="#111" stroke-width="1" fill="none"/>
<path d="M1017.3,210.4 L1048.2,192.7" stroke="#333" stroke-width="1.9" fill="none"/>
<path d="M1020.2,212 L1051.1,194.4" stroke="#111" stroke-width="1" fill="none"/>
<path d="M1026.8,215.8 L1057.7,198.2" stroke="#333" stroke-width="1.9" fill="none"/>
<path d="M1029.7,217.4 L1060.6,199.8" stroke="#111" stroke-width="1" fill="none"/>
<path d="M1036.3,221.2 L1067.2,203.6" stroke="#333" stroke-width="1.9" fill="none"/>
<path d="M1039.2,222.8 L1070.1,205.2" stroke="#111" stroke-width="1" fill="none"/>
<path d="M1045.8,226.6 L1076.7,209" stroke="#333" stroke-width="1.9" fill="none"/>
<path d="M1048.7,228.2 L1079.6,210.6" stroke="#111" stroke-width="1" fill="none"/>
<path d="M1055.3,232 L1086.2,214.4" stroke="#333" stroke-width="1.9" fill="none"/>
<path d="M1058.2,233.6 L1089.1,216" stroke="#111" stroke-width="1" fill="none"/>
<path d="M1064.8,237.4 L1095.7,219.8" stroke="#333" stroke-width="1.9" fill="none"/>
<path d="M1067.7,239.1 L1098.6,221.4" stroke="#111" stroke-width="1" fill="none"/>
<path d="M1080.7,246.5 L913.4,151.1 L910.7,153.4 L913.4,158.9 L1080.7,254.2" stroke="#111" stroke-width="1.4" fill="#fff"/>
<path d="M884.2,144.4 L1080.7,256.4 L1080.7,310.5 L884.2,198.5 Z" fill="#fff" stroke="none" stroke-width="0"/>
<path d="M884.2,144.7 L1080.7,256.7" stroke="#111" stroke-width="1.1" fill="none"/>
<path d="M900.7,172.6 L916.7,163.5" stroke="#111" stroke-width="1.1" fill="none"/>
<path d="M902.9,173.9 L919,164.7" stroke="#111" stroke-width="0.9" fill="none"/>
<path d="M918.7,182.9 L934.7,173.7" stroke="#111" stroke-width="1.1" fill="none"/>
<path d="M920.9,184.1 L936.9,175" stroke="#111" stroke-width="0.9" fill="none"/>
<path d="M936.7,193.1 L952.7,184" stroke="#111" stroke-width="1.1" fill="none"/>
<path d="M938.9,194.4 L954.9,185.2" stroke="#111" stroke-width="0.9" fill="none"/>
<path d="M954.7,203.4 L970.7,194.2" stroke="#111" stroke-width="1.1" fill="none"/>
<path d="M956.9,204.6 L972.9,195.5" stroke="#111" stroke-width="0.9" fill="none"/>
<path d="M972.7,213.6 L988.7,204.5" stroke="#111" stroke-width="1.1" fill="none"/>
<path d="M974.9,214.9 L990.9,205.7" stroke="#111" stroke-width="0.9" fill="none"/>
<path d="M990.6,223.9 L1006.6,214.7" stroke="#111" stroke-width="1.1" fill="none"/>
<path d="M992.8,225.1 L1008.9,216" stroke="#111" stroke-width="0.9" fill="none"/>
<path d="M1008.6,234.1 L1024.6,225" stroke="#111" stroke-width="1.1" fill="none"/>
<path d="M1010.8,235.4 L1026.8,226.2" stroke="#111" stroke-width="0.9" fill="none"/>
<path d="M1026.6,244.4 L1042.6,235.2" stroke="#111" stroke-width="1.1" fill="none"/>
<path d="M1028.8,245.6 L1044.8,236.5" stroke="#111" stroke-width="0.9" fill="none"/>
<path d="M918.7,182.9 L909.9,181.6 Q903.4,181.6 900.7,172.6" stroke="#111" stroke-width="1.1" fill="none"/>
<path d="M936.7,193.1 L927.9,191.9 Q921.4,191.9 918.7,182.9" stroke="#111" stroke-width="1.1" fill="none"/>
<path d="M954.7,203.4 L945.9,202.1 Q939.4,202.1 936.7,193.1" stroke="#111" stroke-width="1.1" fill="none"/>
<path d="M972.7,213.6 L963.8,212.4 Q957.4,212.4 954.7,203.4" stroke="#111" stroke-width="1.1" fill="none"/>
<path d="M990.6,223.9 L981.8,222.6 Q975.4,222.6 972.7,213.6" stroke="#111" stroke-width="1.1" fill="none"/>
<path d="M1008.6,234.1 L999.8,232.9 Q993.3,232.9 990.6,223.9" stroke="#111" stroke-width="1.1" fill="none"/>
<path d="M1026.6,244.4 L1017.8,243.1 Q1011.3,243.1 1008.6,234.1" stroke="#111" stroke-width="1.1" fill="none"/>
<path d="M884.2,169.8 L1080.7,281.8" stroke="#111" stroke-width="1.2" fill="none"/>
<path d="M884.2,173.7 L1080.7,285.7" stroke="#111" stroke-width="1" fill="none"/>
<path d="M884.2,196.3 L1080.7,308.3" stroke="#111" stroke-width="1.3" fill="none"/>
<path d="M1035.4,282.5 L1038.7,257.9 L1064.1,269.1 L1066.3,300.1 Z" fill="#fff" stroke="#111" stroke-width="1.1"/>
<path d="M1038.7,257.9 L1052,250.3 L1077.4,261.5 L1064.1,269.1" stroke="#111" stroke-width="1.1" fill="none"/>
<path d="M1043.2,283.6 L1043.2,265.9 L1060.8,274.9 L1060.8,292.6 Z" stroke="#111" stroke-width="1.7" fill="none"/>
<path d="M1045.9,281.9 L1045.9,270.3 L1058.1,276.6 L1058.1,288.2 Z" fill="#3a3a3a" stroke="none" stroke-width="0"/>
<path d="M971.4,222.8 L973.6,241.7 L984.6,248 L982.4,229.1 Z" stroke="#111" stroke-width="1.4" fill="none"/>
<path d="M974.2,227.2 L975.6,239.6 L982.2,243.3 L980.8,230.9 Z" stroke="#111" stroke-width="0.9" fill="none"/>
<path d="M921.7,195.1 L925,219.6" stroke="#111" stroke-width="1.1" fill="none"/>
<path d="M884.2,206.7 L1080.7,318.7" stroke="#111" stroke-width="1.1" fill="none"/>
<path d="M884.2,211.5 L1080.7,323.5" stroke="#111" stroke-width="0.9" fill="none"/>
<path d="M912.9,238.6 L921.7,233.6" stroke="#333" stroke-width="1.7" fill="none"/>
<path d="M915.5,240.1 L924.4,235.1" stroke="#111" stroke-width="1.1" fill="none"/>
<path d="M920.2,242.8 L929,237.7" stroke="#333" stroke-width="1.7" fill="none"/>
<path d="M922.8,244.3 L931.7,239.2" stroke="#111" stroke-width="1.1" fill="none"/>
<path d="M927.5,246.9 L936.3,241.9" stroke="#333" stroke-width="1.7" fill="none"/>
<path d="M930.1,248.4 L938.9,243.4" stroke="#111" stroke-width="1.1" fill="none"/>
<path d="M934.7,251.1 L943.6,246" stroke="#333" stroke-width="1.7" fill="none"/>
<path d="M937.4,252.6 L946.2,247.5" stroke="#111" stroke-width="1.1" fill="none"/>
<path d="M942,255.2 L950.9,250.2" stroke="#333" stroke-width="1.7" fill="none"/>
<path d="M944.7,256.7 L953.5,251.7" stroke="#111" stroke-width="1.1" fill="none"/>
<path d="M949.3,259.4 L958.1,254.3" stroke="#333" stroke-width="1.7" fill="none"/>
<path d="M952,260.9 L960.8,255.8" stroke="#111" stroke-width="1.1" fill="none"/>
<path d="M956.6,263.5 L965.4,258.5" stroke="#333" stroke-width="1.7" fill="none"/>
<path d="M959.3,265 L968.1,260" stroke="#111" stroke-width="1.1" fill="none"/>
<path d="M963.9,267.7 L972.7,262.6" stroke="#333" stroke-width="1.7" fill="none"/>
<path d="M966.5,269.2 L975.4,264.1" stroke="#111" stroke-width="1.1" fill="none"/>
<path d="M971.2,271.8 L980,266.8" stroke="#333" stroke-width="1.7" fill="none"/>
<path d="M973.8,273.3 L982.7,268.3" stroke="#111" stroke-width="1.1" fill="none"/>
<path d="M978.5,276 L987.3,270.9" stroke="#333" stroke-width="1.7" fill="none"/>
<path d="M981.1,277.5 L989.9,272.5" stroke="#111" stroke-width="1.1" fill="none"/>
<path d="M985.7,280.1 L994.6,275.1" stroke="#333" stroke-width="1.7" fill="none"/>
<path d="M988.4,281.6 L997.2,276.6" stroke="#111" stroke-width="1.1" fill="none"/>
<path d="M993,284.3 L1001.9,279.3" stroke="#333" stroke-width="1.7" fill="none"/>
<path d="M995.7,285.8 L1004.5,280.8" stroke="#111" stroke-width="1.1" fill="none"/>
<path d="M1000.3,288.4 L1009.2,283.4" stroke="#333" stroke-width="1.7" fill="none"/>
<path d="M1003,289.9 L1011.8,284.9" stroke="#111" stroke-width="1.1" fill="none"/>
<path d="M1007.6,292.6 L1016.4,287.6" stroke="#333" stroke-width="1.7" fill="none"/>
<path d="M1010.3,294.1 L1019.1,289.1" stroke="#111" stroke-width="1.1" fill="none"/>
<path d="M1014.9,296.7 L1023.7,291.7" stroke="#333" stroke-width="1.7" fill="none"/>
<path d="M1017.5,298.3 L1026.4,293.2" stroke="#111" stroke-width="1.1" fill="none"/>
<path d="M1022.2,300.9 L1031,295.9" stroke="#333" stroke-width="1.7" fill="none"/>
<path d="M1024.8,302.4 L1033.7,297.4" stroke="#111" stroke-width="1.1" fill="none"/>
<path d="M1029.5,305.1 L1038.3,300" stroke="#333" stroke-width="1.7" fill="none"/>
<path d="M1032.1,306.6 L1040.9,301.5" stroke="#111" stroke-width="1.1" fill="none"/>
<path d="M1036.8,309.2 L1045.6,304.2" stroke="#333" stroke-width="1.7" fill="none"/>
<path d="M1039.4,310.7 L1048.2,305.7" stroke="#111" stroke-width="1.1" fill="none"/>
<path d="M1044,313.4 L1052.9,308.3" stroke="#333" stroke-width="1.7" fill="none"/>
<path d="M1046.7,314.9 L1055.5,309.8" stroke="#111" stroke-width="1.1" fill="none"/>
<path d="M1051.3,317.5 L1060.2,312.5" stroke="#333" stroke-width="1.7" fill="none"/>
<path d="M1054,319 L1062.8,314" stroke="#111" stroke-width="1.1" fill="none"/>
<path d="M1058.6,321.7 L1067.4,316.6" stroke="#333" stroke-width="1.7" fill="none"/>
<path d="M1061.3,323.2 L1070.1,318.1" stroke="#111" stroke-width="1.1" fill="none"/>
<path d="M1080.7,334.2 L913.4,238.9 L910.7,241.5 L913.4,247.2 L1080.7,342.5" stroke="#111" stroke-width="1.4" fill="#fff"/>
<path d="M912.9,272.3 L935,259.7" stroke="#333" stroke-width="2" fill="none"/>
<path d="M916.4,274.3 L938.5,261.7" stroke="#111" stroke-width="1.1" fill="none"/>
<path d="M930,282 L952.1,269.4" stroke="#333" stroke-width="2" fill="none"/>
<path d="M933.5,284 L955.6,271.5" stroke="#111" stroke-width="1.1" fill="none"/>
<path d="M947.1,291.8 L969.2,279.2" stroke="#333" stroke-width="2" fill="none"/>
<path d="M950.6,293.8 L972.7,281.2" stroke="#111" stroke-width="1.1" fill="none"/>
<path d="M964.2,301.5 L986.3,288.9" stroke="#333" stroke-width="2" fill="none"/>
<path d="M967.8,303.5 L989.8,291" stroke="#111" stroke-width="1.1" fill="none"/>
<path d="M981.3,311.3 L1003.4,298.7" stroke="#333" stroke-width="2" fill="none"/>
<path d="M984.9,313.3 L1006.9,300.7" stroke="#111" stroke-width="1.1" fill="none"/>
<path d="M998.4,321 L1020.5,308.5" stroke="#333" stroke-width="2" fill="none"/>
<path d="M1002,323.1 L1024.1,310.5" stroke="#111" stroke-width="1.1" fill="none"/>
<path d="M1015.6,330.8 L1037.6,318.2" stroke="#333" stroke-width="2" fill="none"/>
<path d="M1019.1,332.8 L1041.2,320.2" stroke="#111" stroke-width="1.1" fill="none"/>
<path d="M1032.7,340.5 L1054.7,328" stroke="#333" stroke-width="2" fill="none"/>
<path d="M1036.2,342.6 L1058.3,330" stroke="#111" stroke-width="1.1" fill="none"/>
<path d="M1049.8,350.3 L1071.9,337.7" stroke="#333" stroke-width="2" fill="none"/>
<path d="M1053.3,352.3 L1075.4,339.7" stroke="#111" stroke-width="1.1" fill="none"/>
<path d="M1066.9,360.1 L1089,347.5" stroke="#333" stroke-width="2" fill="none"/>
<path d="M1070.4,362.1 L1092.5,349.5" stroke="#111" stroke-width="1.1" fill="none"/>
<path d="M1080.7,367.9 L913.4,272.6 L910.7,275.2 L913.4,280.9 L1080.7,376.2" stroke="#111" stroke-width="1.4" fill="#fff"/>
<path d="M889.7,291.1 L911.8,278.5" stroke="#333" stroke-width="2" fill="none"/>
<path d="M892.1,292.5 L914.2,279.9" stroke="#111" stroke-width="1.1" fill="none"/>
<path d="M906.8,300.8 L928.9,288.2" stroke="#333" stroke-width="2" fill="none"/>
<path d="M909.2,302.2 L931.3,289.6" stroke="#111" stroke-width="1.1" fill="none"/>
<path d="M923.9,310.6 L946,298" stroke="#333" stroke-width="2" fill="none"/>
<path d="M926.4,312 L948.4,299.4" stroke="#111" stroke-width="1.1" fill="none"/>
<path d="M941,320.3 L963.1,307.7" stroke="#333" stroke-width="2" fill="none"/>
<path d="M943.5,321.7 L965.5,309.1" stroke="#111" stroke-width="1.1" fill="none"/>
<path d="M958.1,330.1 L980.2,317.5" stroke="#333" stroke-width="2" fill="none"/>
<path d="M960.6,331.5 L982.7,318.9" stroke="#111" stroke-width="1.1" fill="none"/>
<path d="M975.3,339.8 L997.3,327.3" stroke="#333" stroke-width="2" fill="none"/>
<path d="M977.7,341.2 L999.8,328.6" stroke="#111" stroke-width="1.1" fill="none"/>
<path d="M992.4,349.6 L1014.5,337" stroke="#333" stroke-width="2" fill="none"/>
<path d="M994.8,351 L1016.9,338.4" stroke="#111" stroke-width="1.1" fill="none"/>
<path d="M1009.5,359.3 L1031.6,346.8" stroke="#333" stroke-width="2" fill="none"/>
<path d="M1011.9,360.7 L1034,348.1" stroke="#111" stroke-width="1.1" fill="none"/>
<path d="M1026.6,369.1 L1048.7,356.5" stroke="#333" stroke-width="2" fill="none"/>
<path d="M1029,370.5 L1051.1,357.9" stroke="#111" stroke-width="1.1" fill="none"/>
<path d="M1043.7,378.9 L1065.8,366.3" stroke="#333" stroke-width="2" fill="none"/>
<path d="M1046.1,380.2 L1068.2,367.7" stroke="#111" stroke-width="1.1" fill="none"/>
<path d="M884.2,287.9 L1080.7,399.9" stroke="#111" stroke-width="1.3" fill="none"/>
<path d="M884.2,292.3 L1080.7,404.4" stroke="#111" stroke-width="1.1" fill="none"/>
</g>
<path d="M900.2,311.4 L900.2,116 L904.6,113 L1058.6,200.8 L1063,208.8 L1063,404.2" stroke="#111" stroke-width="1.4" fill="none"/>
<path d="M902.4,310.5 L902.4,119.5 L905.7,116.4 L1057.5,202.9 L1060.8,209.8 L1060.8,400.8" stroke="#111" stroke-width="0.9" fill="none"/>
<path d="M900.2,311.4 L904.6,316.1 L1058.6,403.9 L1063,404.2" stroke="#111" stroke-width="1.3" fill="none"/>
<path d="M904.6,312.8 L1058.6,400.6" stroke="#111" stroke-width="1" fill="none"/>
<path d="M900,88 L894,89.5 L889,90 L889,96 L895,97.5 L900,96 Z" fill="#c4c4c4" stroke="#111" stroke-width="1.3"/>
<ellipse cx="888" cy="93" rx="3.8" ry="4.2" fill="#333" stroke="#111" stroke-width="1.4" transform="rotate(0 888 93)"/>
<ellipse cx="888" cy="93" rx="1.4" ry="1.4" fill="#999" stroke="#111" stroke-width="0.8" transform="rotate(0 888 93)"/>
<path d="M897.9,86 L925,101.4 L925,112.5 L897.9,97 Z" fill="#bbb" stroke="#111" stroke-width="1.2"/>
<ellipse cx="903.3" cy="94.6" rx="1.8" ry="2.2" fill="none" stroke="#111" stroke-width="0.9" transform="rotate(0 903.3 94.6)"/>
<ellipse cx="908.7" cy="97.7" rx="1.8" ry="2.2" fill="none" stroke="#111" stroke-width="0.9" transform="rotate(0 908.7 97.7)"/>
<ellipse cx="914.2" cy="100.8" rx="1.8" ry="2.2" fill="none" stroke="#111" stroke-width="0.9" transform="rotate(0 914.2 100.8)"/>
<ellipse cx="919.6" cy="103.9" rx="1.8" ry="2.2" fill="none" stroke="#111" stroke-width="0.9" transform="rotate(0 919.6 103.9)"/>
<path d="M921.7,99.6 L921.7,110.6" stroke="#111" stroke-width="1.7" fill="none"/>
<path d="M897.9,326.6 L925,342.1 L925,353.2 L897.9,337.7 Z" fill="#fff" stroke="#111" stroke-width="1.2"/>
<ellipse cx="903.3" cy="335.3" rx="1.8" ry="2.2" fill="none" stroke="#111" stroke-width="0.9" transform="rotate(0 903.3 335.3)"/>
<ellipse cx="908.7" cy="338.4" rx="1.8" ry="2.2" fill="none" stroke="#111" stroke-width="0.9" transform="rotate(0 908.7 338.4)"/>
<ellipse cx="914.2" cy="341.4" rx="1.8" ry="2.2" fill="none" stroke="#111" stroke-width="0.9" transform="rotate(0 914.2 341.4)"/>
<ellipse cx="919.6" cy="344.5" rx="1.8" ry="2.2" fill="none" stroke="#111" stroke-width="0.9" transform="rotate(0 919.6 344.5)"/>
<path d="M921.7,340.2 L921.7,351.3" stroke="#111" stroke-width="1.7" fill="none"/>
<path d="M1039.8,407.6 L1066.9,423 L1066.9,434 L1039.8,418.6 Z" fill="#fff" stroke="#111" stroke-width="1.2"/>
<ellipse cx="1045.3" cy="416.2" rx="1.8" ry="2.2" fill="none" stroke="#111" stroke-width="0.9" transform="rotate(0 1045.3 416.2)"/>
<ellipse cx="1050.7" cy="419.3" rx="1.8" ry="2.2" fill="none" stroke="#111" stroke-width="0.9" transform="rotate(0 1050.7 419.3)"/>
<ellipse cx="1056.1" cy="422.3" rx="1.8" ry="2.2" fill="none" stroke="#111" stroke-width="0.9" transform="rotate(0 1056.1 422.3)"/>
<ellipse cx="1061.5" cy="425.4" rx="1.8" ry="2.2" fill="none" stroke="#111" stroke-width="0.9" transform="rotate(0 1061.5 425.4)"/>
<path d="M1063.6,421.1 L1063.6,432.1" stroke="#111" stroke-width="1.7" fill="none"/>
<path d="M1030.2,171 L1033,170.5 L1053.4,182 L1053.4,189 L1050,190 L1030.2,178 Z" fill="#c0c0c0" stroke="#111" stroke-width="1.5"/>
<path d="M1037.3,187.4 L1054.4,189.4 L1061.5,192.5 L1061.5,202.5 L1054.4,204 L1037.3,196 Z" fill="#b0b0b0" stroke="#111" stroke-width="1.5"/>
<ellipse cx="1048.5" cy="203.3" rx="5.5" ry="4" fill="#999" stroke="#111" stroke-width="1.6" transform="rotate(0 1048.5 203.3)"/>
<ellipse cx="1056" cy="195" rx="2.5" ry="3" fill="#ddd" stroke="#111" stroke-width="1" transform="rotate(0 1056 195)"/>
<path d="M1019.1,192.3 L1031.4,185.8 L1029.5,182.1 L1017.1,188.7 Z" fill="#555" stroke="#111" stroke-width="1.1"/>
<path d="M1022.8,189.9 L1022.4,186.3" stroke="#bbb" stroke-width="0.7" fill="none"/>
<path d="M1024.7,188.9 L1024.4,185.3" stroke="#bbb" stroke-width="0.7" fill="none"/>
<path d="M1026.7,187.8 L1026.3,184.2" stroke="#bbb" stroke-width="0.7" fill="none"/>
<path d="M1028.6,186.8 L1028.3,183.2" stroke="#bbb" stroke-width="0.7" fill="none"/>
<circle cx="1018.1" cy="190.5" r="4.2" fill="#f2f2f2" stroke="#111" stroke-width="1.7"/>
<circle cx="1018.1" cy="190.5" r="1.6" fill="#444" stroke="#111" stroke-width="1.1"/>
<path d="M1029.7,196.3 L1042,189.8 L1040.1,186.1 L1027.7,192.7 Z" fill="#555" stroke="#111" stroke-width="1.1"/>
<path d="M1033.4,193.9 L1033,190.3" stroke="#bbb" stroke-width="0.7" fill="none"/>
<path d="M1035.3,192.9 L1035,189.3" stroke="#bbb" stroke-width="0.7" fill="none"/>
<path d="M1037.3,191.8 L1036.9,188.2" stroke="#bbb" stroke-width="0.7" fill="none"/>
<path d="M1039.2,190.8 L1038.9,187.2" stroke="#bbb" stroke-width="0.7" fill="none"/>
<circle cx="1028.7" cy="194.5" r="4.2" fill="#f2f2f2" stroke="#111" stroke-width="1.7"/>
<circle cx="1028.7" cy="194.5" r="1.6" fill="#444" stroke="#111" stroke-width="1.1"/>
<path d="M912.7,330.1 L864.6,336.8 L863.6,329.8 L848,341 L866.1,347.6 L865.1,340.6 L913.3,333.9 Z" fill="#fff" stroke="#fff" stroke-width="3" stroke-linejoin="miter"/>
<path d="M912.7,330.1 L864.6,336.8 L863.6,329.8 L848,341 L866.1,347.6 L865.1,340.6 L913.3,333.9 Z" fill="#262626" stroke="none" stroke-width="0"/>
<path d="M1075.3,595.9 L1110.6,575.8" stroke="#111" stroke-width="1.4" fill="none"/>
<path d="M1075.3,884.1 L1110.6,863.9" stroke="#111" stroke-width="1.4" fill="none"/>
<path d="M889.8,490.2 L925.1,470.1" stroke="#111" stroke-width="2" fill="none"/>
<path d="M889.8,490.2 L889.8,778.3" stroke="#111" stroke-width="2.4" fill="none"/>
<path d="M898,497.1 L898,783" stroke="#111" stroke-width="2" fill="none"/>
<path d="M889.8,778.3 L898,783" stroke="#111" stroke-width="1.8" fill="none"/>
<path d="M1075.3,595.9 L1075.3,884.1" stroke="#111" stroke-width="2.4" fill="none"/>
<path d="M1067,593.4 L1067,879.3" stroke="#111" stroke-width="2" fill="none"/>
<path d="M1075.3,884.1 L1067,879.3" stroke="#111" stroke-width="1.8" fill="none"/>
<path d="M889.8,490.2 L1075.3,595.9" stroke="#111" stroke-width="2" fill="none"/>
<path d="M890.9,493.3 L1074.2,597.7" stroke="#444" stroke-width="1.3" fill="none"/>
<path d="M898,510.3 L1067,606.7" stroke="#111" stroke-width="1.7" fill="none"/>
<path d="M927.3,514.9 L927.3,525.9" stroke="#111" stroke-width="1.8" fill="none"/>
<path d="M1037.2,577.5 L1037.2,588.6" stroke="#111" stroke-width="1.8" fill="none"/>
<path d="M898,727.8 L1067,824.1" stroke="#111" stroke-width="1.1" fill="none"/>
<path d="M898,731.1 L1067,827.5" stroke="#555" stroke-width="1" fill="none"/>
<path d="M898,738.8 L1067,835.2" stroke="#111" stroke-width="2" fill="none"/>
<path d="M927.3,755.6 L927.3,766.6" stroke="#111" stroke-width="1.8" fill="none"/>
<path d="M1037.2,818.2 L1037.2,829.2" stroke="#111" stroke-width="1.8" fill="none"/>
<path d="M898,749.9 L1067,846.2" stroke="#111" stroke-width="1.5" fill="none"/>
<path d="M898,783 L915.6,772.9" stroke="#111" stroke-width="1.3" fill="none"/>
<path d="M977,785 L977.6,782.6 L980.3,783.6 L984.7,786.1 L987,789.6 L987,795.1 L986.4,797.5 L983.6,796.5 L979.2,794 L977,790.5 L977,785" stroke="#111" stroke-width="1.2" fill="none"/>
<clipPath id="c4"><path d="M900.3,522.7 L1063.1,615.5 L1063.1,818.6 L900.3,725.8 Z"/></clipPath><g clip-path="url(#c4)">
<path d="M913,563 L943.9,545.4" stroke="#333" stroke-width="1.9" fill="none"/>
<path d="M915.9,564.7 L946.8,547" stroke="#111" stroke-width="1" fill="none"/>
<path d="M922.5,568.4 L953.4,550.8" stroke="#333" stroke-width="1.9" fill="none"/>
<path d="M925.3,570.1 L956.3,552.5" stroke="#111" stroke-width="1" fill="none"/>
<path d="M932,573.9 L962.9,556.2" stroke="#333" stroke-width="1.9" fill="none"/>
<path d="M934.8,575.5 L965.8,557.9" stroke="#111" stroke-width="1" fill="none"/>
<path d="M941.5,579.3 L972.4,561.6" stroke="#333" stroke-width="1.9" fill="none"/>
<path d="M944.3,580.9 L975.2,563.3" stroke="#111" stroke-width="1" fill="none"/>
<path d="M951,584.7 L981.9,567.1" stroke="#333" stroke-width="1.9" fill="none"/>
<path d="M953.8,586.3 L984.7,568.7" stroke="#111" stroke-width="1" fill="none"/>
<path d="M960.5,590.1 L991.4,572.5" stroke="#333" stroke-width="1.9" fill="none"/>
<path d="M963.3,591.7 L994.2,574.1" stroke="#111" stroke-width="1" fill="none"/>
<path d="M970,595.5 L1000.9,577.9" stroke="#333" stroke-width="1.9" fill="none"/>
<path d="M972.8,597.1 L1003.7,579.5" stroke="#111" stroke-width="1" fill="none"/>
<path d="M979.4,600.9 L1010.4,583.3" stroke="#333" stroke-width="1.9" fill="none"/>
<path d="M982.3,602.5 L1013.2,584.9" stroke="#111" stroke-width="1" fill="none"/>
<path d="M988.9,606.3 L1019.9,588.7" stroke="#333" stroke-width="1.9" fill="none"/>
<path d="M991.8,608 L1022.7,590.3" stroke="#111" stroke-width="1" fill="none"/>
<path d="M998.4,611.7 L1029.3,594.1" stroke="#333" stroke-width="1.9" fill="none"/>
<path d="M1001.3,613.4 L1032.2,595.8" stroke="#111" stroke-width="1" fill="none"/>
<path d="M1007.9,617.1 L1038.8,599.5" stroke="#333" stroke-width="1.9" fill="none"/>
<path d="M1010.8,618.8 L1041.7,601.2" stroke="#111" stroke-width="1" fill="none"/>
<path d="M1017.4,622.6 L1048.3,604.9" stroke="#333" stroke-width="1.9" fill="none"/>
<path d="M1020.3,624.2 L1051.2,606.6" stroke="#111" stroke-width="1" fill="none"/>
<path d="M1026.9,628 L1057.8,610.4" stroke="#333" stroke-width="1.9" fill="none"/>
<path d="M1029.8,629.6 L1060.7,612" stroke="#111" stroke-width="1" fill="none"/>
<path d="M1036.4,633.4 L1067.3,615.8" stroke="#333" stroke-width="1.9" fill="none"/>
<path d="M1039.3,635 L1070.2,617.4" stroke="#111" stroke-width="1" fill="none"/>
<path d="M1045.9,638.8 L1076.8,621.2" stroke="#333" stroke-width="1.9" fill="none"/>
<path d="M1048.8,640.4 L1079.7,622.8" stroke="#111" stroke-width="1" fill="none"/>
<path d="M1055.4,644.2 L1086.3,626.6" stroke="#333" stroke-width="1.9" fill="none"/>
<path d="M1058.3,645.8 L1089.2,628.2" stroke="#111" stroke-width="1" fill="none"/>
<path d="M1064.9,649.6 L1095.8,632" stroke="#333" stroke-width="1.9" fill="none"/>
<path d="M1067.8,651.3 L1098.7,633.6" stroke="#111" stroke-width="1" fill="none"/>
<path d="M1080.8,658.7 L913.5,563.3 L910.8,565.6 L913.5,571.1 L1080.8,666.4" stroke="#111" stroke-width="1.4" fill="#fff"/>
<path d="M884.3,556.6 L1080.8,668.6 L1080.8,722.7 L884.3,610.7 Z" fill="#fff" stroke="none" stroke-width="0"/>
<path d="M884.3,556.9 L1080.8,668.9" stroke="#111" stroke-width="1.1" fill="none"/>
<path d="M900.8,584.8 L916.8,575.7" stroke="#111" stroke-width="1.1" fill="none"/>
<path d="M903,586.1 L919.1,576.9" stroke="#111" stroke-width="0.9" fill="none"/>
<path d="M918.8,595.1 L934.8,585.9" stroke="#111" stroke-width="1.1" fill="none"/>
<path d="M921,596.3 L937,587.2" stroke="#111" stroke-width="0.9" fill="none"/>
<path d="M936.8,605.3 L952.8,596.2" stroke="#111" stroke-width="1.1" fill="none"/>
<path d="M939,606.6 L955,597.4" stroke="#111" stroke-width="0.9" fill="none"/>
<path d="M954.8,615.6 L970.8,606.4" stroke="#111" stroke-width="1.1" fill="none"/>
<path d="M957,616.8 L973,607.7" stroke="#111" stroke-width="0.9" fill="none"/>
<path d="M972.8,625.8 L988.8,616.7" stroke="#111" stroke-width="1.1" fill="none"/>
<path d="M975,627.1 L991,617.9" stroke="#111" stroke-width="0.9" fill="none"/>
<path d="M990.7,636.1 L1006.7,626.9" stroke="#111" stroke-width="1.1" fill="none"/>
<path d="M992.9,637.3 L1009,628.2" stroke="#111" stroke-width="0.9" fill="none"/>
<path d="M1008.7,646.3 L1024.7,637.2" stroke="#111" stroke-width="1.1" fill="none"/>
<path d="M1010.9,647.6 L1026.9,638.4" stroke="#111" stroke-width="0.9" fill="none"/>
<path d="M1026.7,656.6 L1042.7,647.4" stroke="#111" stroke-width="1.1" fill="none"/>
<path d="M1028.9,657.8 L1044.9,648.7" stroke="#111" stroke-width="0.9" fill="none"/>
<path d="M918.8,595.1 L910,593.8 Q903.5,593.8 900.8,584.8" stroke="#111" stroke-width="1.1" fill="none"/>
<path d="M936.8,605.3 L928,604.1 Q921.5,604.1 918.8,595.1" stroke="#111" stroke-width="1.1" fill="none"/>
<path d="M954.8,615.6 L946,614.3 Q939.5,614.3 936.8,605.3" stroke="#111" stroke-width="1.1" fill="none"/>
<path d="M972.8,625.8 L963.9,624.6 Q957.5,624.6 954.8,615.6" stroke="#111" stroke-width="1.1" fill="none"/>
<path d="M990.7,636.1 L981.9,634.8 Q975.5,634.8 972.8,625.8" stroke="#111" stroke-width="1.1" fill="none"/>
<path d="M1008.7,646.3 L999.9,645.1 Q993.4,645.1 990.7,636.1" stroke="#111" stroke-width="1.1" fill="none"/>
<path d="M1026.7,656.6 L1017.9,655.3 Q1011.4,655.3 1008.7,646.3" stroke="#111" stroke-width="1.1" fill="none"/>
<path d="M884.3,582 L1080.8,694" stroke="#111" stroke-width="1.2" fill="none"/>
<path d="M884.3,585.9 L1080.8,697.9" stroke="#111" stroke-width="1" fill="none"/>
<path d="M884.3,608.5 L1080.8,720.5" stroke="#111" stroke-width="1.3" fill="none"/>
<path d="M1035.5,694.7 L1038.8,670.1 L1064.2,681.3 L1066.4,712.3 Z" fill="#fff" stroke="#111" stroke-width="1.1"/>
<path d="M1038.8,670.1 L1052.1,662.5 L1077.5,673.7 L1064.2,681.3" stroke="#111" stroke-width="1.1" fill="none"/>
<path d="M1043.3,695.8 L1043.3,678.1 L1060.9,687.1 L1060.9,704.8 Z" stroke="#111" stroke-width="1.7" fill="none"/>
<path d="M1046,694.1 L1046,682.5 L1058.2,688.8 L1058.2,700.4 Z" fill="#3a3a3a" stroke="none" stroke-width="0"/>
<path d="M971.5,635 L973.7,653.9 L984.7,660.2 L982.5,641.3 Z" stroke="#111" stroke-width="1.4" fill="none"/>
<path d="M974.3,639.4 L975.7,651.8 L982.3,655.5 L980.9,643.1 Z" stroke="#111" stroke-width="0.9" fill="none"/>
<path d="M921.8,607.3 L925.1,631.8" stroke="#111" stroke-width="1.1" fill="none"/>
<path d="M884.3,618.9 L1080.8,730.9" stroke="#111" stroke-width="1.1" fill="none"/>
<path d="M884.3,623.7 L1080.8,735.7" stroke="#111" stroke-width="0.9" fill="none"/>
<path d="M913,650.8 L921.8,645.8" stroke="#333" stroke-width="1.7" fill="none"/>
<path d="M915.6,652.3 L924.5,647.3" stroke="#111" stroke-width="1.1" fill="none"/>
<path d="M920.3,655 L929.1,649.9" stroke="#333" stroke-width="1.7" fill="none"/>
<path d="M922.9,656.5 L931.8,651.4" stroke="#111" stroke-width="1.1" fill="none"/>
<path d="M927.6,659.1 L936.4,654.1" stroke="#333" stroke-width="1.7" fill="none"/>
<path d="M930.2,660.6 L939,655.6" stroke="#111" stroke-width="1.1" fill="none"/>
<path d="M934.8,663.3 L943.7,658.2" stroke="#333" stroke-width="1.7" fill="none"/>
<path d="M937.5,664.8 L946.3,659.7" stroke="#111" stroke-width="1.1" fill="none"/>
<path d="M942.1,667.4 L951,662.4" stroke="#333" stroke-width="1.7" fill="none"/>
<path d="M944.8,668.9 L953.6,663.9" stroke="#111" stroke-width="1.1" fill="none"/>
<path d="M949.4,671.6 L958.2,666.5" stroke="#333" stroke-width="1.7" fill="none"/>
<path d="M952.1,673.1 L960.9,668" stroke="#111" stroke-width="1.1" fill="none"/>
<path d="M956.7,675.7 L965.5,670.7" stroke="#333" stroke-width="1.7" fill="none"/>
<path d="M959.4,677.2 L968.2,672.2" stroke="#111" stroke-width="1.1" fill="none"/>
<path d="M964,679.9 L972.8,674.8" stroke="#333" stroke-width="1.7" fill="none"/>
<path d="M966.6,681.4 L975.5,676.3" stroke="#111" stroke-width="1.1" fill="none"/>
<path d="M971.3,684 L980.1,679" stroke="#333" stroke-width="1.7" fill="none"/>
<path d="M973.9,685.5 L982.8,680.5" stroke="#111" stroke-width="1.1" fill="none"/>
<path d="M978.6,688.2 L987.4,683.1" stroke="#333" stroke-width="1.7" fill="none"/>
<path d="M981.2,689.7 L990,684.7" stroke="#111" stroke-width="1.1" fill="none"/>
<path d="M985.8,692.3 L994.7,687.3" stroke="#333" stroke-width="1.7" fill="none"/>
<path d="M988.5,693.8 L997.3,688.8" stroke="#111" stroke-width="1.1" fill="none"/>
<path d="M993.1,696.5 L1002,691.5" stroke="#333" stroke-width="1.7" fill="none"/>
<path d="M995.8,698 L1004.6,693" stroke="#111" stroke-width="1.1" fill="none"/>
<path d="M1000.4,700.6 L1009.3,695.6" stroke="#333" stroke-width="1.7" fill="none"/>
<path d="M1003.1,702.1 L1011.9,697.1" stroke="#111" stroke-width="1.1" fill="none"/>
<path d="M1007.7,704.8 L1016.5,699.8" stroke="#333" stroke-width="1.7" fill="none"/>
<path d="M1010.4,706.3 L1019.2,701.3" stroke="#111" stroke-width="1.1" fill="none"/>
<path d="M1015,708.9 L1023.8,703.9" stroke="#333" stroke-width="1.7" fill="none"/>
<path d="M1017.6,710.5 L1026.5,705.4" stroke="#111" stroke-width="1.1" fill="none"/>
<path d="M1022.3,713.1 L1031.1,708.1" stroke="#333" stroke-width="1.7" fill="none"/>
<path d="M1024.9,714.6 L1033.8,709.6" stroke="#111" stroke-width="1.1" fill="none"/>
<path d="M1029.6,717.3 L1038.4,712.2" stroke="#333" stroke-width="1.7" fill="none"/>
<path d="M1032.2,718.8 L1041,713.7" stroke="#111" stroke-width="1.1" fill="none"/>
<path d="M1036.9,721.4 L1045.7,716.4" stroke="#333" stroke-width="1.7" fill="none"/>
<path d="M1039.5,722.9 L1048.3,717.9" stroke="#111" stroke-width="1.1" fill="none"/>
<path d="M1044.1,725.6 L1053,720.5" stroke="#333" stroke-width="1.7" fill="none"/>
<path d="M1046.8,727.1 L1055.6,722" stroke="#111" stroke-width="1.1" fill="none"/>
<path d="M1051.4,729.7 L1060.3,724.7" stroke="#333" stroke-width="1.7" fill="none"/>
<path d="M1054.1,731.2 L1062.9,726.2" stroke="#111" stroke-width="1.1" fill="none"/>
<path d="M1058.7,733.9 L1067.5,728.8" stroke="#333" stroke-width="1.7" fill="none"/>
<path d="M1061.4,735.4 L1070.2,730.3" stroke="#111" stroke-width="1.1" fill="none"/>
<path d="M1080.8,746.4 L913.5,651.1 L910.8,653.7 L913.5,659.4 L1080.8,754.7" stroke="#111" stroke-width="1.4" fill="#fff"/>
<path d="M913,684.5 L935.1,671.9" stroke="#333" stroke-width="2" fill="none"/>
<path d="M916.5,686.5 L938.6,673.9" stroke="#111" stroke-width="1.1" fill="none"/>
<path d="M930.1,694.2 L952.2,681.6" stroke="#333" stroke-width="2" fill="none"/>
<path d="M933.6,696.2 L955.7,683.7" stroke="#111" stroke-width="1.1" fill="none"/>
<path d="M947.2,704 L969.3,691.4" stroke="#333" stroke-width="2" fill="none"/>
<path d="M950.7,706 L972.8,693.4" stroke="#111" stroke-width="1.1" fill="none"/>
<path d="M964.3,713.7 L986.4,701.1" stroke="#333" stroke-width="2" fill="none"/>
<path d="M967.9,715.7 L989.9,703.2" stroke="#111" stroke-width="1.1" fill="none"/>
<path d="M981.4,723.5 L1003.5,710.9" stroke="#333" stroke-width="2" fill="none"/>
<path d="M985,725.5 L1007,712.9" stroke="#111" stroke-width="1.1" fill="none"/>
<path d="M998.5,733.2 L1020.6,720.7" stroke="#333" stroke-width="2" fill="none"/>
<path d="M1002.1,735.3 L1024.2,722.7" stroke="#111" stroke-width="1.1" fill="none"/>
<path d="M1015.7,743 L1037.7,730.4" stroke="#333" stroke-width="2" fill="none"/>
<path d="M1019.2,745 L1041.3,732.4" stroke="#111" stroke-width="1.1" fill="none"/>
<path d="M1032.8,752.7 L1054.8,740.2" stroke="#333" stroke-width="2" fill="none"/>
<path d="M1036.3,754.8 L1058.4,742.2" stroke="#111" stroke-width="1.1" fill="none"/>
<path d="M1049.9,762.5 L1072,749.9" stroke="#333" stroke-width="2" fill="none"/>
<path d="M1053.4,764.5 L1075.5,751.9" stroke="#111" stroke-width="1.1" fill="none"/>
<path d="M1067,772.3 L1089.1,759.7" stroke="#333" stroke-width="2" fill="none"/>
<path d="M1070.5,774.3 L1092.6,761.7" stroke="#111" stroke-width="1.1" fill="none"/>
<path d="M1080.8,780.1 L913.5,684.8 L910.8,687.4 L913.5,693.1 L1080.8,788.4" stroke="#111" stroke-width="1.4" fill="#fff"/>
<path d="M889.8,703.3 L911.9,690.7" stroke="#333" stroke-width="2" fill="none"/>
<path d="M892.2,704.7 L914.3,692.1" stroke="#111" stroke-width="1.1" fill="none"/>
<path d="M906.9,713 L929,700.4" stroke="#333" stroke-width="2" fill="none"/>
<path d="M909.3,714.4 L931.4,701.8" stroke="#111" stroke-width="1.1" fill="none"/>
<path d="M924,722.8 L946.1,710.2" stroke="#333" stroke-width="2" fill="none"/>
<path d="M926.5,724.2 L948.5,711.6" stroke="#111" stroke-width="1.1" fill="none"/>
<path d="M941.1,732.5 L963.2,719.9" stroke="#333" stroke-width="2" fill="none"/>
<path d="M943.6,733.9 L965.6,721.3" stroke="#111" stroke-width="1.1" fill="none"/>
<path d="M958.2,742.3 L980.3,729.7" stroke="#333" stroke-width="2" fill="none"/>
<path d="M960.7,743.7 L982.8,731.1" stroke="#111" stroke-width="1.1" fill="none"/>
<path d="M975.4,752 L997.4,739.5" stroke="#333" stroke-width="2" fill="none"/>
<path d="M977.8,753.4 L999.9,740.8" stroke="#111" stroke-width="1.1" fill="none"/>
<path d="M992.5,761.8 L1014.6,749.2" stroke="#333" stroke-width="2" fill="none"/>
<path d="M994.9,763.2 L1017,750.6" stroke="#111" stroke-width="1.1" fill="none"/>
<path d="M1009.6,771.5 L1031.7,759" stroke="#333" stroke-width="2" fill="none"/>
<path d="M1012,772.9 L1034.1,760.3" stroke="#111" stroke-width="1.1" fill="none"/>
<path d="M1026.7,781.3 L1048.8,768.7" stroke="#333" stroke-width="2" fill="none"/>
<path d="M1029.1,782.7 L1051.2,770.1" stroke="#111" stroke-width="1.1" fill="none"/>
<path d="M1043.8,791.1 L1065.9,778.5" stroke="#333" stroke-width="2" fill="none"/>
<path d="M1046.2,792.4 L1068.3,779.9" stroke="#111" stroke-width="1.1" fill="none"/>
<path d="M884.3,700.1 L1080.8,812.1" stroke="#111" stroke-width="1.3" fill="none"/>
<path d="M884.3,704.5 L1080.8,816.6" stroke="#111" stroke-width="1.1" fill="none"/>
</g>
<path d="M900.3,723.6 L900.3,528.2 L904.7,525.2 L1058.7,613 L1063.1,621 L1063.1,816.4" stroke="#111" stroke-width="1.4" fill="none"/>
<path d="M902.5,722.7 L902.5,531.7 L905.8,528.6 L1057.6,615.1 L1060.9,622 L1060.9,813" stroke="#111" stroke-width="0.9" fill="none"/>
<path d="M900.3,723.6 L904.7,728.3 L1058.7,816.1 L1063.1,816.4" stroke="#111" stroke-width="1.3" fill="none"/>
<path d="M904.7,725 L1058.7,812.8" stroke="#111" stroke-width="1" fill="none"/>
<path d="M898,500 L892,501.5 L887,502 L887,508 L893,509.5 L898,508 Z" fill="#c4c4c4" stroke="#111" stroke-width="1.3"/>
<ellipse cx="886" cy="505" rx="3.8" ry="4.2" fill="#333" stroke="#111" stroke-width="1.4" transform="rotate(0 886 505)"/>
<ellipse cx="886" cy="505" rx="1.4" ry="1.4" fill="#999" stroke="#111" stroke-width="0.8" transform="rotate(0 886 505)"/>
<path d="M898,750 L892,751.5 L887,752 L887,758 L893,759.5 L898,758 Z" fill="#c4c4c4" stroke="#111" stroke-width="1.3"/>
<ellipse cx="886" cy="755" rx="3.8" ry="4.2" fill="#333" stroke="#111" stroke-width="1.4" transform="rotate(0 886 755)"/>
<ellipse cx="886" cy="755" rx="1.4" ry="1.4" fill="#999" stroke="#111" stroke-width="0.8" transform="rotate(0 886 755)"/>
<path d="M898,498.2 L925.1,513.6 L925.1,524.7 L898,509.2 Z" fill="#bbb" stroke="#111" stroke-width="1.2"/>
<ellipse cx="903.4" cy="506.8" rx="1.8" ry="2.2" fill="none" stroke="#111" stroke-width="0.9" transform="rotate(0 903.4 506.8)"/>
<ellipse cx="908.8" cy="509.9" rx="1.8" ry="2.2" fill="none" stroke="#111" stroke-width="0.9" transform="rotate(0 908.8 509.9)"/>
<ellipse cx="914.3" cy="513" rx="1.8" ry="2.2" fill="none" stroke="#111" stroke-width="0.9" transform="rotate(0 914.3 513)"/>
<ellipse cx="919.7" cy="516.1" rx="1.8" ry="2.2" fill="none" stroke="#111" stroke-width="0.9" transform="rotate(0 919.7 516.1)"/>
<path d="M921.8,511.8 L921.8,522.8" stroke="#111" stroke-width="1.7" fill="none"/>
<path d="M898,738.8 L925.1,754.3 L925.1,765.4 L898,749.9 Z" fill="#bbb" stroke="#111" stroke-width="1.2"/>
<ellipse cx="903.4" cy="747.5" rx="1.8" ry="2.2" fill="none" stroke="#111" stroke-width="0.9" transform="rotate(0 903.4 747.5)"/>
<ellipse cx="908.8" cy="750.6" rx="1.8" ry="2.2" fill="none" stroke="#111" stroke-width="0.9" transform="rotate(0 908.8 750.6)"/>
<ellipse cx="914.3" cy="753.6" rx="1.8" ry="2.2" fill="none" stroke="#111" stroke-width="0.9" transform="rotate(0 914.3 753.6)"/>
<ellipse cx="919.7" cy="756.7" rx="1.8" ry="2.2" fill="none" stroke="#111" stroke-width="0.9" transform="rotate(0 919.7 756.7)"/>
<path d="M921.8,752.4 L921.8,763.5" stroke="#111" stroke-width="1.7" fill="none"/>
<path d="M1039.9,579.1 L1067,594.5 L1067,605.6 L1039.9,590.1 Z" fill="#fff" stroke="#111" stroke-width="1.2"/>
<ellipse cx="1045.4" cy="587.7" rx="1.8" ry="2.2" fill="none" stroke="#111" stroke-width="0.9" transform="rotate(0 1045.4 587.7)"/>
<ellipse cx="1050.8" cy="590.8" rx="1.8" ry="2.2" fill="none" stroke="#111" stroke-width="0.9" transform="rotate(0 1050.8 590.8)"/>
<ellipse cx="1056.2" cy="593.9" rx="1.8" ry="2.2" fill="none" stroke="#111" stroke-width="0.9" transform="rotate(0 1056.2 593.9)"/>
<ellipse cx="1061.6" cy="596.9" rx="1.8" ry="2.2" fill="none" stroke="#111" stroke-width="0.9" transform="rotate(0 1061.6 596.9)"/>
<path d="M1063.7,592.6 L1063.7,603.7" stroke="#111" stroke-width="1.7" fill="none"/>
<path d="M1039.9,819.8 L1067,835.2 L1067,846.2 L1039.9,830.8 Z" fill="#fff" stroke="#111" stroke-width="1.2"/>
<ellipse cx="1045.4" cy="828.4" rx="1.8" ry="2.2" fill="none" stroke="#111" stroke-width="0.9" transform="rotate(0 1045.4 828.4)"/>
<ellipse cx="1050.8" cy="831.5" rx="1.8" ry="2.2" fill="none" stroke="#111" stroke-width="0.9" transform="rotate(0 1050.8 831.5)"/>
<ellipse cx="1056.2" cy="834.5" rx="1.8" ry="2.2" fill="none" stroke="#111" stroke-width="0.9" transform="rotate(0 1056.2 834.5)"/>
<ellipse cx="1061.6" cy="837.6" rx="1.8" ry="2.2" fill="none" stroke="#111" stroke-width="0.9" transform="rotate(0 1061.6 837.6)"/>
<path d="M1063.7,833.3 L1063.7,844.3" stroke="#111" stroke-width="1.7" fill="none"/>
<path d="M528.6,903.5 L560.6,885.2" stroke="#111" stroke-width="1.3" fill="none"/>
<path d="M528.6,1164.5 L560.6,1146.2" stroke="#111" stroke-width="1.3" fill="none"/>
<path d="M360.6,807.7 L392.6,789.5" stroke="#111" stroke-width="1.8" fill="none"/>
<path d="M360.6,807.7 L360.6,1068.7" stroke="#111" stroke-width="2.2" fill="none"/>
<path d="M368,813.9 L368,1072.9" stroke="#111" stroke-width="1.8" fill="none"/>
<path d="M360.6,1068.7 L368,1072.9" stroke="#111" stroke-width="1.6" fill="none"/>
<path d="M528.6,903.5 L528.6,1164.5" stroke="#111" stroke-width="2.2" fill="none"/>
<path d="M521.1,901.2 L521.1,1160.2" stroke="#111" stroke-width="1.8" fill="none"/>
<path d="M528.6,1164.5 L521.1,1160.2" stroke="#111" stroke-width="1.6" fill="none"/>
<path d="M360.6,807.7 L528.6,903.5" stroke="#111" stroke-width="1.8" fill="none"/>
<path d="M361.6,810.5 L527.6,905.1" stroke="#444" stroke-width="1.2" fill="none"/>
<path d="M368,825.9 L521.1,913.2" stroke="#111" stroke-width="1.5" fill="none"/>
<path d="M394.6,830.1 L394.6,840.1" stroke="#111" stroke-width="1.6" fill="none"/>
<path d="M494.1,886.8 L494.1,896.8" stroke="#111" stroke-width="1.6" fill="none"/>
<path d="M368,1022.9 L521.1,1110.2" stroke="#111" stroke-width="1" fill="none"/>
<path d="M368,1025.9 L521.1,1113.2" stroke="#555" stroke-width="0.9" fill="none"/>
<path d="M368,1032.9 L521.1,1120.2" stroke="#111" stroke-width="1.8" fill="none"/>
<path d="M394.6,1048.1 L394.6,1058.1" stroke="#111" stroke-width="1.6" fill="none"/>
<path d="M494.1,1104.8 L494.1,1114.8" stroke="#111" stroke-width="1.6" fill="none"/>
<path d="M368,1042.9 L521.1,1130.2" stroke="#111" stroke-width="1.4" fill="none"/>
<path d="M368,1072.9 L384,1063.8" stroke="#111" stroke-width="1.2" fill="none"/>
<path d="M439.6,1074.7 L440.1,1072.5 L442.6,1073.4 L446.6,1075.7 L448.6,1078.9 L448.6,1083.9 L448.1,1086.1 L445.6,1085.2 L441.6,1082.9 L439.6,1079.7 L439.6,1074.7" stroke="#111" stroke-width="1.1" fill="none"/>
<clipPath id="c5"><path d="M370.1,837.1 L517.6,921.2 L517.6,1105.2 L370.1,1021.1 Z"/></clipPath><g clip-path="url(#c5)">
<path d="M381.6,873.7 L409.6,857.7" stroke="#333" stroke-width="1.7" fill="none"/>
<path d="M384.2,875.2 L412.2,859.2" stroke="#111" stroke-width="0.9" fill="none"/>
<path d="M390.2,878.6 L418.2,862.6" stroke="#333" stroke-width="1.7" fill="none"/>
<path d="M392.8,880.1 L420.8,864.1" stroke="#111" stroke-width="0.9" fill="none"/>
<path d="M398.8,883.5 L426.8,867.5" stroke="#333" stroke-width="1.7" fill="none"/>
<path d="M401.4,885 L429.4,869" stroke="#111" stroke-width="0.9" fill="none"/>
<path d="M407.4,888.4 L435.4,872.4" stroke="#333" stroke-width="1.7" fill="none"/>
<path d="M410,889.9 L438,873.9" stroke="#111" stroke-width="0.9" fill="none"/>
<path d="M416,893.3 L444,877.3" stroke="#333" stroke-width="1.7" fill="none"/>
<path d="M418.6,894.8 L446.6,878.8" stroke="#111" stroke-width="0.9" fill="none"/>
<path d="M424.6,898.2 L452.6,882.2" stroke="#333" stroke-width="1.7" fill="none"/>
<path d="M427.2,899.7 L455.2,883.7" stroke="#111" stroke-width="0.9" fill="none"/>
<path d="M433.2,903.1 L461.2,887.1" stroke="#333" stroke-width="1.7" fill="none"/>
<path d="M435.8,904.6 L463.8,888.6" stroke="#111" stroke-width="0.9" fill="none"/>
<path d="M441.8,908 L469.8,892" stroke="#333" stroke-width="1.7" fill="none"/>
<path d="M444.4,909.5 L472.4,893.5" stroke="#111" stroke-width="0.9" fill="none"/>
<path d="M450.4,912.9 L478.4,896.9" stroke="#333" stroke-width="1.7" fill="none"/>
<path d="M453,914.4 L481,898.4" stroke="#111" stroke-width="0.9" fill="none"/>
<path d="M459,917.8 L487,901.8" stroke="#333" stroke-width="1.7" fill="none"/>
<path d="M461.6,919.3 L489.6,903.3" stroke="#111" stroke-width="0.9" fill="none"/>
<path d="M467.6,922.7 L495.6,906.7" stroke="#333" stroke-width="1.7" fill="none"/>
<path d="M470.2,924.2 L498.2,908.2" stroke="#111" stroke-width="0.9" fill="none"/>
<path d="M476.2,927.6 L504.2,911.6" stroke="#333" stroke-width="1.7" fill="none"/>
<path d="M478.8,929.1 L506.8,913.1" stroke="#111" stroke-width="0.9" fill="none"/>
<path d="M484.8,932.5 L512.8,916.5" stroke="#333" stroke-width="1.7" fill="none"/>
<path d="M487.4,934 L515.4,918" stroke="#111" stroke-width="0.9" fill="none"/>
<path d="M493.4,937.4 L521.4,921.4" stroke="#333" stroke-width="1.7" fill="none"/>
<path d="M496,938.9 L524,922.9" stroke="#111" stroke-width="0.9" fill="none"/>
<path d="M502,942.3 L530,926.3" stroke="#333" stroke-width="1.7" fill="none"/>
<path d="M504.6,943.8 L532.6,927.8" stroke="#111" stroke-width="0.9" fill="none"/>
<path d="M510.6,947.2 L538.6,931.2" stroke="#333" stroke-width="1.7" fill="none"/>
<path d="M513.2,948.7 L541.2,932.7" stroke="#111" stroke-width="0.9" fill="none"/>
<path d="M519.2,952.1 L547.2,936.1" stroke="#333" stroke-width="1.7" fill="none"/>
<path d="M521.8,953.6 L549.8,937.6" stroke="#111" stroke-width="0.9" fill="none"/>
<path d="M533.6,960.3 L382.1,874 L379.6,876 L382.1,881 L533.6,967.3" stroke="#111" stroke-width="1.2" fill="#fff"/>
<path d="M355.6,867.9 L533.6,969.3 L533.6,1018.3 L355.6,916.9 Z" fill="#fff" stroke="none" stroke-width="0"/>
<path d="M355.6,868.2 L533.6,969.6" stroke="#111" stroke-width="1" fill="none"/>
<path d="M370.6,893.4 L385.1,885.1" stroke="#111" stroke-width="1" fill="none"/>
<path d="M372.6,894.5 L387.1,886.3" stroke="#111" stroke-width="0.8" fill="none"/>
<path d="M386.9,902.7 L401.4,894.4" stroke="#111" stroke-width="1" fill="none"/>
<path d="M388.9,903.8 L403.4,895.6" stroke="#111" stroke-width="0.8" fill="none"/>
<path d="M403.2,912 L417.7,903.7" stroke="#111" stroke-width="1" fill="none"/>
<path d="M405.2,913.1 L419.7,904.8" stroke="#111" stroke-width="0.8" fill="none"/>
<path d="M419.5,921.2 L434,913" stroke="#111" stroke-width="1" fill="none"/>
<path d="M421.5,922.4 L436,914.1" stroke="#111" stroke-width="0.8" fill="none"/>
<path d="M435.7,930.5 L450.2,922.3" stroke="#111" stroke-width="1" fill="none"/>
<path d="M437.7,931.7 L452.2,923.4" stroke="#111" stroke-width="0.8" fill="none"/>
<path d="M452,939.8 L466.5,931.5" stroke="#111" stroke-width="1" fill="none"/>
<path d="M454,941 L468.5,932.7" stroke="#111" stroke-width="0.8" fill="none"/>
<path d="M468.3,949.1 L482.8,940.8" stroke="#111" stroke-width="1" fill="none"/>
<path d="M470.3,950.2 L484.8,942" stroke="#111" stroke-width="0.8" fill="none"/>
<path d="M484.6,958.4 L499.1,950.1" stroke="#111" stroke-width="1" fill="none"/>
<path d="M486.6,959.5 L501.1,951.3" stroke="#111" stroke-width="0.8" fill="none"/>
<path d="M386.9,902.7 L378.9,901.6 Q373,901.6 370.6,893.4" stroke="#111" stroke-width="1.1" fill="none"/>
<path d="M403.2,912 L395.2,910.9 Q389.3,910.9 386.9,902.7" stroke="#111" stroke-width="1.1" fill="none"/>
<path d="M419.5,921.2 L411.5,920.1 Q405.6,920.1 403.2,912" stroke="#111" stroke-width="1.1" fill="none"/>
<path d="M435.7,930.5 L427.8,929.4 Q421.9,929.4 419.5,921.2" stroke="#111" stroke-width="1.1" fill="none"/>
<path d="M452,939.8 L444,938.7 Q438.2,938.7 435.7,930.5" stroke="#111" stroke-width="1.1" fill="none"/>
<path d="M468.3,949.1 L460.3,948 Q454.5,948 452,939.8" stroke="#111" stroke-width="1.1" fill="none"/>
<path d="M484.6,958.4 L476.6,957.3 Q470.8,957.3 468.3,949.1" stroke="#111" stroke-width="1.1" fill="none"/>
<path d="M355.6,890.9 L533.6,992.3" stroke="#111" stroke-width="1.1" fill="none"/>
<path d="M355.6,894.4 L533.6,995.8" stroke="#111" stroke-width="0.9" fill="none"/>
<path d="M355.6,914.9 L533.6,1016.3" stroke="#111" stroke-width="1.2" fill="none"/>
<path d="M492.6,992.9 L495.6,970.7 L518.6,980.8 L520.6,1008.9 Z" fill="#fff" stroke="#111" stroke-width="1.1"/>
<path d="M495.6,970.7 L507.6,963.8 L530.6,973.9 L518.6,980.8" stroke="#111" stroke-width="1" fill="none"/>
<path d="M499.6,993.9 L499.6,977.9 L515.6,986.1 L515.6,1002.1 Z" stroke="#111" stroke-width="1.5" fill="none"/>
<path d="M502.1,992.4 L502.1,981.9 L513.1,987.6 L513.1,998.1 Z" fill="#3a3a3a" stroke="none" stroke-width="0"/>
<path d="M434.6,938.9 L436.6,956 L446.6,961.7 L444.6,944.6 Z" stroke="#111" stroke-width="1.3" fill="none"/>
<path d="M437.1,942.8 L438.4,954 L444.4,957.5 L443.1,946.2 Z" stroke="#111" stroke-width="0.8" fill="none"/>
<path d="M389.6,913.7 L392.6,935.9" stroke="#111" stroke-width="1" fill="none"/>
<path d="M355.6,924.2 L533.6,1025.7" stroke="#111" stroke-width="1" fill="none"/>
<path d="M355.6,928.7 L533.6,1030.1" stroke="#111" stroke-width="0.8" fill="none"/>
<path d="M381.6,953.2 L389.6,948.6" stroke="#333" stroke-width="1.5" fill="none"/>
<path d="M384,954.5 L392,950" stroke="#111" stroke-width="1" fill="none"/>
<path d="M388.2,956.9 L396.2,952.4" stroke="#333" stroke-width="1.5" fill="none"/>
<path d="M390.6,958.3 L398.6,953.7" stroke="#111" stroke-width="1" fill="none"/>
<path d="M394.8,960.7 L402.8,956.1" stroke="#333" stroke-width="1.5" fill="none"/>
<path d="M397.2,962.1 L405.2,957.5" stroke="#111" stroke-width="1" fill="none"/>
<path d="M401.4,964.5 L409.4,959.9" stroke="#333" stroke-width="1.5" fill="none"/>
<path d="M403.8,965.8 L411.8,961.3" stroke="#111" stroke-width="1" fill="none"/>
<path d="M408,968.2 L416,963.7" stroke="#333" stroke-width="1.5" fill="none"/>
<path d="M410.4,969.6 L418.4,965" stroke="#111" stroke-width="1" fill="none"/>
<path d="M414.6,972 L422.6,967.4" stroke="#333" stroke-width="1.5" fill="none"/>
<path d="M417,973.3 L425,968.8" stroke="#111" stroke-width="1" fill="none"/>
<path d="M421.2,975.7 L429.2,971.2" stroke="#333" stroke-width="1.5" fill="none"/>
<path d="M423.6,977.1 L431.6,972.6" stroke="#111" stroke-width="1" fill="none"/>
<path d="M427.8,979.5 L435.8,974.9" stroke="#333" stroke-width="1.5" fill="none"/>
<path d="M430.2,980.9 L438.2,976.3" stroke="#111" stroke-width="1" fill="none"/>
<path d="M434.4,983.3 L442.4,978.7" stroke="#333" stroke-width="1.5" fill="none"/>
<path d="M436.8,984.6 L444.8,980.1" stroke="#111" stroke-width="1" fill="none"/>
<path d="M441,987 L449,982.5" stroke="#333" stroke-width="1.5" fill="none"/>
<path d="M443.4,988.4 L451.4,983.8" stroke="#111" stroke-width="1" fill="none"/>
<path d="M447.6,990.8 L455.6,986.2" stroke="#333" stroke-width="1.5" fill="none"/>
<path d="M450,992.2 L458,987.6" stroke="#111" stroke-width="1" fill="none"/>
<path d="M454.2,994.6 L462.2,990" stroke="#333" stroke-width="1.5" fill="none"/>
<path d="M456.6,995.9 L464.6,991.4" stroke="#111" stroke-width="1" fill="none"/>
<path d="M460.8,998.3 L468.8,993.8" stroke="#333" stroke-width="1.5" fill="none"/>
<path d="M463.2,999.7 L471.2,995.1" stroke="#111" stroke-width="1" fill="none"/>
<path d="M467.4,1002.1 L475.4,997.5" stroke="#333" stroke-width="1.5" fill="none"/>
<path d="M469.8,1003.4 L477.8,998.9" stroke="#111" stroke-width="1" fill="none"/>
<path d="M474,1005.8 L482,1001.3" stroke="#333" stroke-width="1.5" fill="none"/>
<path d="M476.4,1007.2 L484.4,1002.6" stroke="#111" stroke-width="1" fill="none"/>
<path d="M480.6,1009.6 L488.6,1005" stroke="#333" stroke-width="1.5" fill="none"/>
<path d="M483,1011 L491,1006.4" stroke="#111" stroke-width="1" fill="none"/>
<path d="M487.2,1013.4 L495.2,1008.8" stroke="#333" stroke-width="1.5" fill="none"/>
<path d="M489.6,1014.7 L497.6,1010.2" stroke="#111" stroke-width="1" fill="none"/>
<path d="M493.8,1017.1 L501.8,1012.6" stroke="#333" stroke-width="1.5" fill="none"/>
<path d="M496.2,1018.5 L504.2,1013.9" stroke="#111" stroke-width="1" fill="none"/>
<path d="M500.4,1020.9 L508.4,1016.3" stroke="#333" stroke-width="1.5" fill="none"/>
<path d="M502.8,1022.3 L510.8,1017.7" stroke="#111" stroke-width="1" fill="none"/>
<path d="M507,1024.6 L515,1020.1" stroke="#333" stroke-width="1.5" fill="none"/>
<path d="M509.4,1026 L517.4,1021.5" stroke="#111" stroke-width="1" fill="none"/>
<path d="M513.6,1028.4 L521.6,1023.9" stroke="#333" stroke-width="1.5" fill="none"/>
<path d="M516,1029.8 L524,1025.2" stroke="#111" stroke-width="1" fill="none"/>
<path d="M533.6,1039.8 L382.1,953.5 L379.6,955.8 L382.1,961 L533.6,1047.3" stroke="#111" stroke-width="1.2" fill="#fff"/>
<path d="M381.6,983.7 L401.6,972.3" stroke="#333" stroke-width="1.8" fill="none"/>
<path d="M384.8,985.5 L404.8,974.1" stroke="#111" stroke-width="1" fill="none"/>
<path d="M397.1,992.5 L417.1,981.1" stroke="#333" stroke-width="1.8" fill="none"/>
<path d="M400.3,994.3 L420.3,982.9" stroke="#111" stroke-width="1" fill="none"/>
<path d="M412.6,1001.3 L432.6,989.9" stroke="#333" stroke-width="1.8" fill="none"/>
<path d="M415.8,1003.2 L435.8,991.8" stroke="#111" stroke-width="1" fill="none"/>
<path d="M428.1,1010.2 L448.1,998.8" stroke="#333" stroke-width="1.8" fill="none"/>
<path d="M431.3,1012 L451.3,1000.6" stroke="#111" stroke-width="1" fill="none"/>
<path d="M443.6,1019 L463.6,1007.6" stroke="#333" stroke-width="1.8" fill="none"/>
<path d="M446.8,1020.8 L466.8,1009.4" stroke="#111" stroke-width="1" fill="none"/>
<path d="M459.1,1027.8 L479.1,1016.4" stroke="#333" stroke-width="1.8" fill="none"/>
<path d="M462.3,1029.7 L482.3,1018.3" stroke="#111" stroke-width="1" fill="none"/>
<path d="M474.6,1036.7 L494.6,1025.3" stroke="#333" stroke-width="1.8" fill="none"/>
<path d="M477.8,1038.5 L497.8,1027.1" stroke="#111" stroke-width="1" fill="none"/>
<path d="M490.1,1045.5 L510.1,1034.1" stroke="#333" stroke-width="1.8" fill="none"/>
<path d="M493.3,1047.3 L513.3,1035.9" stroke="#111" stroke-width="1" fill="none"/>
<path d="M505.6,1054.3 L525.6,1043" stroke="#333" stroke-width="1.8" fill="none"/>
<path d="M508.8,1056.2 L528.8,1044.8" stroke="#111" stroke-width="1" fill="none"/>
<path d="M521.1,1063.2 L541.1,1051.8" stroke="#333" stroke-width="1.8" fill="none"/>
<path d="M524.3,1065 L544.3,1053.6" stroke="#111" stroke-width="1" fill="none"/>
<path d="M533.6,1070.3 L382.1,984 L379.6,986.3 L382.1,991.5 L533.6,1077.8" stroke="#111" stroke-width="1.2" fill="#fff"/>
<path d="M360.6,1000.7 L380.6,989.3" stroke="#333" stroke-width="1.8" fill="none"/>
<path d="M362.8,1002 L382.8,990.6" stroke="#111" stroke-width="1" fill="none"/>
<path d="M376.1,1009.5 L396.1,998.1" stroke="#333" stroke-width="1.8" fill="none"/>
<path d="M378.3,1010.8 L398.3,999.4" stroke="#111" stroke-width="1" fill="none"/>
<path d="M391.6,1018.4 L411.6,1007" stroke="#333" stroke-width="1.8" fill="none"/>
<path d="M393.8,1019.6 L413.8,1008.2" stroke="#111" stroke-width="1" fill="none"/>
<path d="M407.1,1027.2 L427.1,1015.8" stroke="#333" stroke-width="1.8" fill="none"/>
<path d="M409.3,1028.5 L429.3,1017.1" stroke="#111" stroke-width="1" fill="none"/>
<path d="M422.6,1036 L442.6,1024.6" stroke="#333" stroke-width="1.8" fill="none"/>
<path d="M424.8,1037.3 L444.8,1025.9" stroke="#111" stroke-width="1" fill="none"/>
<path d="M438.1,1044.9 L458.1,1033.5" stroke="#333" stroke-width="1.8" fill="none"/>
<path d="M440.3,1046.1 L460.3,1034.7" stroke="#111" stroke-width="1" fill="none"/>
<path d="M453.6,1053.7 L473.6,1042.3" stroke="#333" stroke-width="1.8" fill="none"/>
<path d="M455.8,1055 L475.8,1043.6" stroke="#111" stroke-width="1" fill="none"/>
<path d="M469.1,1062.5 L489.1,1051.1" stroke="#333" stroke-width="1.8" fill="none"/>
<path d="M471.3,1063.8 L491.3,1052.4" stroke="#111" stroke-width="1" fill="none"/>
<path d="M484.6,1071.4 L504.6,1060" stroke="#333" stroke-width="1.8" fill="none"/>
<path d="M486.8,1072.6 L506.8,1061.2" stroke="#111" stroke-width="1" fill="none"/>
<path d="M500.1,1080.2 L520.1,1068.8" stroke="#333" stroke-width="1.8" fill="none"/>
<path d="M502.3,1081.5 L522.3,1070.1" stroke="#111" stroke-width="1" fill="none"/>
<path d="M355.6,997.9 L533.6,1099.3" stroke="#111" stroke-width="1.2" fill="none"/>
<path d="M355.6,1001.9 L533.6,1103.3" stroke="#111" stroke-width="1" fill="none"/>
</g>
<path d="M370.1,1019.1 L370.1,842.1 L374.1,839.4 L513.6,918.9 L517.6,926.2 L517.6,1103.2" stroke="#111" stroke-width="1.3" fill="none"/>
<path d="M372.1,1018.3 L372.1,845.3 L375.1,842.5 L512.6,920.8 L515.6,927.1 L515.6,1100.1" stroke="#111" stroke-width="0.8" fill="none"/>
<path d="M370.1,1019.1 L374.1,1023.4 L513.6,1102.9 L517.6,1103.2" stroke="#111" stroke-width="1.2" fill="none"/>
<path d="M374.1,1020.4 L513.6,1099.9" stroke="#111" stroke-width="0.9" fill="none"/>
<path d="M368,1032.9 L392.6,1046.9 L392.6,1056.9 L368,1042.9 Z" fill="#fff" stroke="#111" stroke-width="1.2"/>
<ellipse cx="372.9" cy="1040.7" rx="1.6" ry="2" fill="none" stroke="#111" stroke-width="0.9" transform="rotate(0 372.9 1040.7)"/>
<ellipse cx="377.8" cy="1043.5" rx="1.6" ry="2" fill="none" stroke="#111" stroke-width="0.9" transform="rotate(0 377.8 1043.5)"/>
<ellipse cx="382.8" cy="1046.3" rx="1.6" ry="2" fill="none" stroke="#111" stroke-width="0.9" transform="rotate(0 382.8 1046.3)"/>
<ellipse cx="387.7" cy="1049.1" rx="1.6" ry="2" fill="none" stroke="#111" stroke-width="0.9" transform="rotate(0 387.7 1049.1)"/>
<path d="M389.6,1045.2 L389.6,1055.2" stroke="#111" stroke-width="1.5" fill="none"/>
<path d="M496.6,888.2 L521.1,902.2 L521.1,912.2 L496.6,898.2 Z" fill="#fff" stroke="#111" stroke-width="1.2"/>
<ellipse cx="501.5" cy="896" rx="1.6" ry="2" fill="none" stroke="#111" stroke-width="0.9" transform="rotate(0 501.5 896)"/>
<ellipse cx="506.4" cy="898.8" rx="1.6" ry="2" fill="none" stroke="#111" stroke-width="0.9" transform="rotate(0 506.4 898.8)"/>
<ellipse cx="511.3" cy="901.6" rx="1.6" ry="2" fill="none" stroke="#111" stroke-width="0.9" transform="rotate(0 511.3 901.6)"/>
<ellipse cx="516.2" cy="904.4" rx="1.6" ry="2" fill="none" stroke="#111" stroke-width="0.9" transform="rotate(0 516.2 904.4)"/>
<path d="M518.1,900.5 L518.1,910.5" stroke="#111" stroke-width="1.5" fill="none"/>
<path d="M496.6,1106.2 L521.1,1120.2 L521.1,1130.2 L496.6,1116.2 Z" fill="#fff" stroke="#111" stroke-width="1.2"/>
<ellipse cx="501.5" cy="1114" rx="1.6" ry="2" fill="none" stroke="#111" stroke-width="0.9" transform="rotate(0 501.5 1114)"/>
<ellipse cx="506.4" cy="1116.8" rx="1.6" ry="2" fill="none" stroke="#111" stroke-width="0.9" transform="rotate(0 506.4 1116.8)"/>
<ellipse cx="511.3" cy="1119.6" rx="1.6" ry="2" fill="none" stroke="#111" stroke-width="0.9" transform="rotate(0 511.3 1119.6)"/>
<ellipse cx="516.2" cy="1122.4" rx="1.6" ry="2" fill="none" stroke="#111" stroke-width="0.9" transform="rotate(0 516.2 1122.4)"/>
<path d="M518.1,1118.5 L518.1,1128.5" stroke="#111" stroke-width="1.5" fill="none"/>
<path d="M520,902.4 L514.6,903.8 L510.1,904.2 L510.1,909.6 L515.5,911 L520,909.6 Z" fill="#c4c4c4" stroke="#111" stroke-width="1.3"/>
<ellipse cx="509.2" cy="906.9" rx="3.4" ry="3.8" fill="#333" stroke="#111" stroke-width="1.4" transform="rotate(0 509.2 906.9)"/>
<ellipse cx="509.2" cy="906.9" rx="1.3" ry="1.3" fill="#999" stroke="#111" stroke-width="0.8" transform="rotate(0 509.2 906.9)"/>
<path d="M480.3,1116 L483,1114.5 L512.2,1130.5 L513,1133 L513,1144 L507,1149.5 L488,1149.5 L486.8,1147 L486.8,1137 L480.3,1127 Z" fill="#bdbdbd" stroke="#111" stroke-width="1.8"/>
<path d="M487,1136 L506,1147 L513,1142" stroke="#111" stroke-width="1.1" fill="none"/>
<path d="M486.8,1147 L504,1150 L506,1158 L500,1161 L494,1160 L489,1155 Z" fill="#aaa" stroke="#111" stroke-width="1.6"/>
<ellipse cx="499" cy="1155.5" rx="5" ry="4" fill="#999" stroke="#111" stroke-width="1.6" transform="rotate(0 499 1155.5)"/>
<path d="M475.4,1134.6 L486.7,1128.1 L484.6,1124.5 L473.4,1131 Z" fill="#555" stroke="#111" stroke-width="1.1"/>
<path d="M479,1132 L478.6,1128.5" stroke="#bbb" stroke-width="0.7" fill="none"/>
<path d="M480.9,1130.9 L480.5,1127.4" stroke="#bbb" stroke-width="0.7" fill="none"/>
<path d="M482.9,1129.8 L482.4,1126.3" stroke="#bbb" stroke-width="0.7" fill="none"/>
<path d="M484.8,1128.7 L484.3,1125.2" stroke="#bbb" stroke-width="0.7" fill="none"/>
<circle cx="474.4" cy="1132.8" r="4.2" fill="#f2f2f2" stroke="#111" stroke-width="1.7"/>
<circle cx="474.4" cy="1132.8" r="1.6" fill="#444" stroke="#111" stroke-width="1.1"/>
<path d="M485.5,1135.5 L496.8,1129 L494.7,1125.4 L483.5,1131.9 Z" fill="#555" stroke="#111" stroke-width="1.1"/>
<path d="M489.1,1132.9 L488.7,1129.4" stroke="#bbb" stroke-width="0.7" fill="none"/>
<path d="M491,1131.8 L490.6,1128.3" stroke="#bbb" stroke-width="0.7" fill="none"/>
<path d="M493,1130.7 L492.5,1127.2" stroke="#bbb" stroke-width="0.7" fill="none"/>
<path d="M494.9,1129.6 L494.4,1126.1" stroke="#bbb" stroke-width="0.7" fill="none"/>
<circle cx="484.5" cy="1133.7" r="4.2" fill="#f2f2f2" stroke="#111" stroke-width="1.7"/>
<circle cx="484.5" cy="1133.7" r="1.6" fill="#444" stroke="#111" stroke-width="1.1"/>
<path d="M489.7,1143.8 L500.1,1137.8 L498.1,1134.2 L487.7,1140.2 Z" fill="#555" stroke="#111" stroke-width="1.1"/>
<path d="M493.3,1141.2 L492.9,1137.7" stroke="#bbb" stroke-width="0.7" fill="none"/>
<path d="M495.2,1140.1 L494.8,1136.6" stroke="#bbb" stroke-width="0.7" fill="none"/>
<path d="M497.2,1139 L496.7,1135.5" stroke="#bbb" stroke-width="0.7" fill="none"/>
<circle cx="488.7" cy="1142" r="4.2" fill="#f2f2f2" stroke="#111" stroke-width="1.7"/>
<circle cx="488.7" cy="1142" r="1.6" fill="#444" stroke="#111" stroke-width="1.1"/>
<path d="M480.6,1141 L463.7,1150 L460.8,1144.7 L451.8,1159.7 L469.3,1160.6 L466.5,1155.3 L483.4,1146.4 Z" fill="#fff" stroke="#fff" stroke-width="3" stroke-linejoin="miter"/>
<path d="M480.6,1141 L463.7,1150 L460.8,1144.7 L451.8,1159.7 L469.3,1160.6 L466.5,1155.3 L483.4,1146.4 Z" fill="#262626" stroke="none" stroke-width="0"/>
<path d="M91.3,1356.5 L58.2,1337.7" stroke="#111" stroke-width="1.3" fill="none"/>
<path d="M91.3,1626.1 L58.2,1607.3" stroke="#111" stroke-width="1.3" fill="none"/>
<path d="M264.8,1257.6 L231.8,1238.7" stroke="#111" stroke-width="1.9" fill="none"/>
<path d="M91.3,1356.5 L91.3,1626.1" stroke="#111" stroke-width="2.3" fill="none"/>
<path d="M98.9,1354.2 L98.9,1621.8" stroke="#111" stroke-width="1.9" fill="none"/>
<path d="M91.3,1626.1 L98.9,1621.8" stroke="#111" stroke-width="1.7" fill="none"/>
<path d="M264.8,1257.6 L264.8,1527.2" stroke="#111" stroke-width="2.3" fill="none"/>
<path d="M257.1,1264.1 L257.1,1531.6" stroke="#111" stroke-width="1.9" fill="none"/>
<path d="M264.8,1527.2 L257.1,1531.6" stroke="#111" stroke-width="1.7" fill="none"/>
<path d="M91.3,1356.5 L264.8,1257.6" stroke="#111" stroke-width="1.9" fill="none"/>
<path d="M92.3,1358.2 L263.8,1260.4" stroke="#444" stroke-width="1.2" fill="none"/>
<path d="M98.9,1366.6 L257.1,1276.5" stroke="#111" stroke-width="1.5" fill="none"/>
<path d="M126.4,1339.6 L126.4,1349.9" stroke="#111" stroke-width="1.7" fill="none"/>
<path d="M229.2,1281 L229.2,1291.3" stroke="#111" stroke-width="1.7" fill="none"/>
<path d="M98.9,1570.1 L257.1,1480" stroke="#111" stroke-width="1" fill="none"/>
<path d="M98.9,1573.2 L257.1,1483.1" stroke="#555" stroke-width="0.9" fill="none"/>
<path d="M98.9,1580.4 L257.1,1490.3" stroke="#111" stroke-width="1.9" fill="none"/>
<path d="M126.4,1564.8 L126.4,1575.1" stroke="#111" stroke-width="1.7" fill="none"/>
<path d="M229.2,1506.2 L229.2,1516.5" stroke="#111" stroke-width="1.7" fill="none"/>
<path d="M98.9,1590.8 L257.1,1500.6" stroke="#111" stroke-width="1.4" fill="none"/>
<path d="M257.1,1531.6 L240.6,1522.2" stroke="#111" stroke-width="1.2" fill="none"/>
<path d="M172.9,1539.3 L173.4,1536.4 L176,1534.4 L180.1,1532.1 L182.2,1533 L182.2,1538.1 L181.7,1541 L179.1,1543 L175,1545.4 L172.9,1544.5 L172.9,1539.3" stroke="#111" stroke-width="1.1" fill="none"/>
<clipPath id="c6"><path d="M101.1,1375.7 L253.5,1288.8 L253.5,1475.8 L101.1,1562.7 Z"/></clipPath><g clip-path="url(#c6)">
<path d="M99.6,1407.6 L70.6,1391.1" stroke="#333" stroke-width="1.8" fill="none"/>
<path d="M102.2,1406 L73.3,1389.6" stroke="#111" stroke-width="0.9" fill="none"/>
<path d="M108.4,1402.5 L79.5,1386" stroke="#333" stroke-width="1.8" fill="none"/>
<path d="M111.1,1401 L82.2,1384.5" stroke="#111" stroke-width="0.9" fill="none"/>
<path d="M117.3,1397.4 L88.4,1381" stroke="#333" stroke-width="1.8" fill="none"/>
<path d="M120,1395.9 L91.1,1379.4" stroke="#111" stroke-width="0.9" fill="none"/>
<path d="M126.2,1392.4 L97.3,1375.9" stroke="#333" stroke-width="1.8" fill="none"/>
<path d="M128.9,1390.8 L100,1374.4" stroke="#111" stroke-width="0.9" fill="none"/>
<path d="M135.1,1387.3 L106.2,1370.8" stroke="#333" stroke-width="1.8" fill="none"/>
<path d="M137.8,1385.8 L108.9,1369.3" stroke="#111" stroke-width="0.9" fill="none"/>
<path d="M144,1382.3 L115.1,1365.8" stroke="#333" stroke-width="1.8" fill="none"/>
<path d="M146.7,1380.7 L117.7,1364.2" stroke="#111" stroke-width="0.9" fill="none"/>
<path d="M152.9,1377.2 L123.9,1360.7" stroke="#333" stroke-width="1.8" fill="none"/>
<path d="M155.6,1375.7 L126.6,1359.2" stroke="#111" stroke-width="0.9" fill="none"/>
<path d="M161.8,1372.1 L132.8,1355.6" stroke="#333" stroke-width="1.8" fill="none"/>
<path d="M164.4,1370.6 L135.5,1354.1" stroke="#111" stroke-width="0.9" fill="none"/>
<path d="M170.6,1367.1 L141.7,1350.6" stroke="#333" stroke-width="1.8" fill="none"/>
<path d="M173.3,1365.5 L144.4,1349" stroke="#111" stroke-width="0.9" fill="none"/>
<path d="M179.5,1362 L150.6,1345.5" stroke="#333" stroke-width="1.8" fill="none"/>
<path d="M182.2,1360.5 L153.3,1344" stroke="#111" stroke-width="0.9" fill="none"/>
<path d="M188.4,1356.9 L159.5,1340.4" stroke="#333" stroke-width="1.8" fill="none"/>
<path d="M191.1,1355.4 L162.2,1338.9" stroke="#111" stroke-width="0.9" fill="none"/>
<path d="M197.3,1351.9 L168.4,1335.4" stroke="#333" stroke-width="1.8" fill="none"/>
<path d="M200,1350.3 L171,1333.9" stroke="#111" stroke-width="0.9" fill="none"/>
<path d="M206.2,1346.8 L177.2,1330.3" stroke="#333" stroke-width="1.8" fill="none"/>
<path d="M208.9,1345.3 L179.9,1328.8" stroke="#111" stroke-width="0.9" fill="none"/>
<path d="M215.1,1341.7 L186.1,1325.3" stroke="#333" stroke-width="1.8" fill="none"/>
<path d="M217.7,1340.2 L188.8,1323.7" stroke="#111" stroke-width="0.9" fill="none"/>
<path d="M223.9,1336.7 L195,1320.2" stroke="#333" stroke-width="1.8" fill="none"/>
<path d="M226.6,1335.1 L197.7,1318.7" stroke="#111" stroke-width="0.9" fill="none"/>
<path d="M232.8,1331.6 L203.9,1315.1" stroke="#333" stroke-width="1.8" fill="none"/>
<path d="M235.5,1330.1 L206.6,1313.6" stroke="#111" stroke-width="0.9" fill="none"/>
<path d="M241.7,1326.6 L212.8,1310.1" stroke="#333" stroke-width="1.8" fill="none"/>
<path d="M244.4,1325 L215.5,1308.5" stroke="#111" stroke-width="0.9" fill="none"/>
<path d="M86.1,1415.2 L242.6,1326 L245.2,1327.4 L242.6,1331.7 L86.1,1420.9" stroke="#111" stroke-width="1.3" fill="#fff"/>
<path d="M86.1,1424.5 L270,1319.7 L270,1370.3 L86.1,1475.1 Z" fill="#fff" stroke="none" stroke-width="0"/>
<path d="M86.1,1424.8 L270,1320" stroke="#111" stroke-width="1" fill="none"/>
<path d="M103.7,1432.1 L88.7,1423.5" stroke="#111" stroke-width="1" fill="none"/>
<path d="M105.8,1430.9 L90.8,1422.4" stroke="#111" stroke-width="0.8" fill="none"/>
<path d="M120.8,1422.3 L105.8,1413.8" stroke="#111" stroke-width="1" fill="none"/>
<path d="M122.9,1421.1 L107.9,1412.6" stroke="#111" stroke-width="0.8" fill="none"/>
<path d="M137.9,1412.6 L123,1404" stroke="#111" stroke-width="1" fill="none"/>
<path d="M140,1411.4 L125,1402.8" stroke="#111" stroke-width="0.8" fill="none"/>
<path d="M155.1,1402.8 L140.1,1394.3" stroke="#111" stroke-width="1" fill="none"/>
<path d="M157.1,1401.6 L142.1,1393.1" stroke="#111" stroke-width="0.8" fill="none"/>
<path d="M172.2,1393 L157.2,1384.5" stroke="#111" stroke-width="1" fill="none"/>
<path d="M174.2,1391.9 L159.3,1383.3" stroke="#111" stroke-width="0.8" fill="none"/>
<path d="M189.3,1383.3 L174.3,1374.7" stroke="#111" stroke-width="1" fill="none"/>
<path d="M191.4,1382.1 L176.4,1373.6" stroke="#111" stroke-width="0.8" fill="none"/>
<path d="M206.4,1373.5 L191.4,1365" stroke="#111" stroke-width="1" fill="none"/>
<path d="M208.5,1372.4 L193.5,1363.8" stroke="#111" stroke-width="0.8" fill="none"/>
<path d="M223.5,1363.8 L208.5,1355.2" stroke="#111" stroke-width="1" fill="none"/>
<path d="M225.6,1362.6 L210.6,1354.1" stroke="#111" stroke-width="0.8" fill="none"/>
<path d="M103.7,1432.1 L112.1,1430.9 Q118.2,1430.9 120.8,1422.3" stroke="#111" stroke-width="1.1" fill="none"/>
<path d="M120.8,1422.3 L129.2,1421.1 Q135.4,1421.1 137.9,1412.6" stroke="#111" stroke-width="1.1" fill="none"/>
<path d="M137.9,1412.6 L146.3,1411.4 Q152.5,1411.4 155.1,1402.8" stroke="#111" stroke-width="1.1" fill="none"/>
<path d="M155.1,1402.8 L163.4,1401.6 Q169.6,1401.6 172.2,1393" stroke="#111" stroke-width="1.1" fill="none"/>
<path d="M172.2,1393 L180.6,1391.9 Q186.7,1391.9 189.3,1383.3" stroke="#111" stroke-width="1.1" fill="none"/>
<path d="M189.3,1383.3 L197.7,1382.1 Q203.8,1382.1 206.4,1373.5" stroke="#111" stroke-width="1.1" fill="none"/>
<path d="M206.4,1373.5 L214.8,1372.4 Q221,1372.4 223.5,1363.8" stroke="#111" stroke-width="1.1" fill="none"/>
<path d="M86.1,1448.3 L270,1343.5" stroke="#111" stroke-width="1.1" fill="none"/>
<path d="M86.1,1451.9 L270,1347.1" stroke="#111" stroke-width="0.9" fill="none"/>
<path d="M86.1,1473.1 L270,1368.3" stroke="#111" stroke-width="1.2" fill="none"/>
<path d="M99.6,1465.4 L102.7,1438.9 L126.4,1422.2 L128.5,1448.9 Z" fill="#fff" stroke="#111" stroke-width="1.1"/>
<path d="M102.7,1438.9 L90.3,1431.8 L114,1415.2 L126.4,1422.2" stroke="#111" stroke-width="1" fill="none"/>
<path d="M106.8,1458.2 L106.8,1441.7 L123.3,1431.2 L123.3,1447.7 Z" stroke="#111" stroke-width="1.5" fill="none"/>
<path d="M109.4,1453.6 L109.4,1442.8 L120.7,1435.8 L120.7,1446.6 Z" fill="#3a3a3a" stroke="none" stroke-width="0"/>
<path d="M176,1400.2 L178.1,1415.5 L188.4,1409.6 L186.3,1394.3 Z" stroke="#111" stroke-width="1.3" fill="none"/>
<path d="M178.6,1401.3 L179.9,1411.3 L186.1,1407.8 L184.8,1397.7 Z" stroke="#111" stroke-width="0.8" fill="none"/>
<path d="M221.5,1374.8 L224.6,1394.2" stroke="#111" stroke-width="1" fill="none"/>
<path d="M86.1,1482.8 L270,1378" stroke="#111" stroke-width="1" fill="none"/>
<path d="M86.1,1487.3 L270,1382.5" stroke="#111" stroke-width="0.8" fill="none"/>
<path d="M101.6,1484.9 L93.4,1480.2" stroke="#333" stroke-width="1.5" fill="none"/>
<path d="M104.1,1483.5 L95.8,1478.8" stroke="#111" stroke-width="1" fill="none"/>
<path d="M108.4,1481 L100.2,1476.3" stroke="#333" stroke-width="1.5" fill="none"/>
<path d="M110.9,1479.6 L102.7,1474.9" stroke="#111" stroke-width="1" fill="none"/>
<path d="M115.3,1477.1 L107,1472.4" stroke="#333" stroke-width="1.5" fill="none"/>
<path d="M117.7,1475.7 L109.5,1471" stroke="#111" stroke-width="1" fill="none"/>
<path d="M122.1,1473.2 L113.8,1468.5" stroke="#333" stroke-width="1.5" fill="none"/>
<path d="M124.6,1471.8 L116.3,1467.1" stroke="#111" stroke-width="1" fill="none"/>
<path d="M128.9,1469.4 L120.6,1464.6" stroke="#333" stroke-width="1.5" fill="none"/>
<path d="M131.4,1467.9 L123.1,1463.2" stroke="#111" stroke-width="1" fill="none"/>
<path d="M135.7,1465.5 L127.5,1460.8" stroke="#333" stroke-width="1.5" fill="none"/>
<path d="M138.2,1464.1 L129.9,1459.3" stroke="#111" stroke-width="1" fill="none"/>
<path d="M142.5,1461.6 L134.3,1456.9" stroke="#333" stroke-width="1.5" fill="none"/>
<path d="M145,1460.2 L136.8,1455.5" stroke="#111" stroke-width="1" fill="none"/>
<path d="M149.4,1457.7 L141.1,1453" stroke="#333" stroke-width="1.5" fill="none"/>
<path d="M151.8,1456.3 L143.6,1451.6" stroke="#111" stroke-width="1" fill="none"/>
<path d="M156.2,1453.8 L147.9,1449.1" stroke="#333" stroke-width="1.5" fill="none"/>
<path d="M158.7,1452.4 L150.4,1447.7" stroke="#111" stroke-width="1" fill="none"/>
<path d="M163,1449.9 L154.7,1445.2" stroke="#333" stroke-width="1.5" fill="none"/>
<path d="M165.5,1448.5 L157.2,1443.8" stroke="#111" stroke-width="1" fill="none"/>
<path d="M169.8,1446 L161.5,1441.3" stroke="#333" stroke-width="1.5" fill="none"/>
<path d="M172.3,1444.6 L164,1439.9" stroke="#111" stroke-width="1" fill="none"/>
<path d="M176.6,1442.2 L168.4,1437.4" stroke="#333" stroke-width="1.5" fill="none"/>
<path d="M179.1,1440.7 L170.8,1436" stroke="#111" stroke-width="1" fill="none"/>
<path d="M183.4,1438.3 L175.2,1433.6" stroke="#333" stroke-width="1.5" fill="none"/>
<path d="M185.9,1436.9 L177.7,1432.1" stroke="#111" stroke-width="1" fill="none"/>
<path d="M190.3,1434.4 L182,1429.7" stroke="#333" stroke-width="1.5" fill="none"/>
<path d="M192.7,1433 L184.5,1428.3" stroke="#111" stroke-width="1" fill="none"/>
<path d="M197.1,1430.5 L188.8,1425.8" stroke="#333" stroke-width="1.5" fill="none"/>
<path d="M199.6,1429.1 L191.3,1424.4" stroke="#111" stroke-width="1" fill="none"/>
<path d="M203.9,1426.6 L195.6,1421.9" stroke="#333" stroke-width="1.5" fill="none"/>
<path d="M206.4,1425.2 L198.1,1420.5" stroke="#111" stroke-width="1" fill="none"/>
<path d="M210.7,1422.7 L202.5,1418" stroke="#333" stroke-width="1.5" fill="none"/>
<path d="M213.2,1421.3 L204.9,1416.6" stroke="#111" stroke-width="1" fill="none"/>
<path d="M217.5,1418.8 L209.3,1414.1" stroke="#333" stroke-width="1.5" fill="none"/>
<path d="M220,1417.4 L211.7,1412.7" stroke="#111" stroke-width="1" fill="none"/>
<path d="M224.4,1415 L216.1,1410.2" stroke="#333" stroke-width="1.5" fill="none"/>
<path d="M226.8,1413.5 L218.6,1408.8" stroke="#111" stroke-width="1" fill="none"/>
<path d="M231.2,1411.1 L222.9,1406.4" stroke="#333" stroke-width="1.5" fill="none"/>
<path d="M233.6,1409.7 L225.4,1404.9" stroke="#111" stroke-width="1" fill="none"/>
<path d="M238,1407.2 L229.7,1402.5" stroke="#333" stroke-width="1.5" fill="none"/>
<path d="M240.5,1405.8 L232.2,1401.1" stroke="#111" stroke-width="1" fill="none"/>
<path d="M86.1,1493.7 L242.6,1404.5 L245.2,1406.9 L242.6,1412.3 L86.1,1501.5" stroke="#111" stroke-width="1.3" fill="#fff"/>
<path d="M97.5,1519.3 L76.8,1507.5" stroke="#333" stroke-width="1.9" fill="none"/>
<path d="M100.8,1517.4 L80.1,1505.6" stroke="#111" stroke-width="1" fill="none"/>
<path d="M113.5,1510.2 L92.8,1498.4" stroke="#333" stroke-width="1.9" fill="none"/>
<path d="M116.8,1508.3 L96.2,1496.5" stroke="#111" stroke-width="1" fill="none"/>
<path d="M129.5,1501 L108.9,1489.3" stroke="#333" stroke-width="1.9" fill="none"/>
<path d="M132.8,1499.1 L112.2,1487.4" stroke="#111" stroke-width="1" fill="none"/>
<path d="M145.5,1491.9 L124.9,1480.1" stroke="#333" stroke-width="1.9" fill="none"/>
<path d="M148.8,1490 L128.2,1478.2" stroke="#111" stroke-width="1" fill="none"/>
<path d="M161.5,1482.8 L140.9,1471" stroke="#333" stroke-width="1.9" fill="none"/>
<path d="M164.8,1480.9 L144.2,1469.1" stroke="#111" stroke-width="1" fill="none"/>
<path d="M177.6,1473.6 L156.9,1461.9" stroke="#333" stroke-width="1.9" fill="none"/>
<path d="M180.9,1471.8 L160.2,1460" stroke="#111" stroke-width="1" fill="none"/>
<path d="M193.6,1464.5 L172.9,1452.7" stroke="#333" stroke-width="1.9" fill="none"/>
<path d="M196.9,1462.6 L176.2,1450.9" stroke="#111" stroke-width="1" fill="none"/>
<path d="M209.6,1455.4 L188.9,1443.6" stroke="#333" stroke-width="1.9" fill="none"/>
<path d="M212.9,1453.5 L192.2,1441.7" stroke="#111" stroke-width="1" fill="none"/>
<path d="M225.6,1446.3 L204.9,1434.5" stroke="#333" stroke-width="1.9" fill="none"/>
<path d="M228.9,1444.4 L208.2,1432.6" stroke="#111" stroke-width="1" fill="none"/>
<path d="M241.6,1437.1 L220.9,1425.4" stroke="#333" stroke-width="1.9" fill="none"/>
<path d="M244.9,1435.3 L224.2,1423.5" stroke="#111" stroke-width="1" fill="none"/>
<path d="M86.1,1525.8 L242.6,1436.6 L245.2,1438.7 L242.6,1443.8 L86.1,1533" stroke="#111" stroke-width="1.3" fill="#fff"/>
<path d="M105.8,1545.6 L85.1,1533.8" stroke="#333" stroke-width="1.9" fill="none"/>
<path d="M108,1544.3 L87.4,1532.5" stroke="#111" stroke-width="1" fill="none"/>
<path d="M121.8,1536.4 L101.1,1524.7" stroke="#333" stroke-width="1.9" fill="none"/>
<path d="M124,1535.1 L103.4,1523.4" stroke="#111" stroke-width="1" fill="none"/>
<path d="M137.8,1527.3 L117.1,1515.5" stroke="#333" stroke-width="1.9" fill="none"/>
<path d="M140.1,1526 L119.4,1514.2" stroke="#111" stroke-width="1" fill="none"/>
<path d="M153.8,1518.2 L133.1,1506.4" stroke="#333" stroke-width="1.9" fill="none"/>
<path d="M156.1,1516.9 L135.4,1505.1" stroke="#111" stroke-width="1" fill="none"/>
<path d="M169.8,1509.1 L149.1,1497.3" stroke="#333" stroke-width="1.9" fill="none"/>
<path d="M172.1,1507.8 L151.4,1496" stroke="#111" stroke-width="1" fill="none"/>
<path d="M185.8,1499.9 L165.2,1488.2" stroke="#333" stroke-width="1.9" fill="none"/>
<path d="M188.1,1498.6 L167.4,1486.9" stroke="#111" stroke-width="1" fill="none"/>
<path d="M201.8,1490.8 L181.2,1479" stroke="#333" stroke-width="1.9" fill="none"/>
<path d="M204.1,1489.5 L183.4,1477.7" stroke="#111" stroke-width="1" fill="none"/>
<path d="M217.8,1481.7 L197.2,1469.9" stroke="#333" stroke-width="1.9" fill="none"/>
<path d="M220.1,1480.4 L199.5,1468.6" stroke="#111" stroke-width="1" fill="none"/>
<path d="M233.9,1472.5 L213.2,1460.8" stroke="#333" stroke-width="1.9" fill="none"/>
<path d="M236.1,1471.3 L215.5,1459.5" stroke="#111" stroke-width="1" fill="none"/>
<path d="M249.9,1463.4 L229.2,1451.6" stroke="#333" stroke-width="1.9" fill="none"/>
<path d="M252.1,1462.1 L231.5,1450.3" stroke="#111" stroke-width="1" fill="none"/>
<path d="M86.1,1556.7 L270,1451.9" stroke="#111" stroke-width="1.2" fill="none"/>
<path d="M86.1,1560.9 L270,1456.1" stroke="#111" stroke-width="1" fill="none"/>
</g>
<path d="M101.1,1560.6 L101.1,1380.9 L105.2,1373.3 L249.3,1291.2 L253.5,1294 L253.5,1473.8" stroke="#111" stroke-width="1.3" fill="none"/>
<path d="M103.2,1557.4 L103.2,1381.8 L106.3,1375.3 L248.3,1294.4 L251.4,1297.3 L251.4,1472.9" stroke="#111" stroke-width="0.8" fill="none"/>
<path d="M101.1,1560.6 L105.2,1560.3 L249.3,1478.2 L253.5,1473.8" stroke="#111" stroke-width="1.2" fill="none"/>
<path d="M105.2,1557.2 L249.3,1475.1" stroke="#111" stroke-width="0.9" fill="none"/>
<path d="M98.9,1355.2 L124.4,1340.8 L124.4,1351.1 L98.9,1365.6 Z" fill="#fff" stroke="#111" stroke-width="1.2"/>
<ellipse cx="104" cy="1357.5" rx="1.7" ry="2.1" fill="none" stroke="#111" stroke-width="0.9" transform="rotate(0 104 1357.5)"/>
<ellipse cx="109.1" cy="1354.6" rx="1.7" ry="2.1" fill="none" stroke="#111" stroke-width="0.9" transform="rotate(0 109.1 1354.6)"/>
<ellipse cx="114.2" cy="1351.7" rx="1.7" ry="2.1" fill="none" stroke="#111" stroke-width="0.9" transform="rotate(0 114.2 1351.7)"/>
<ellipse cx="119.3" cy="1348.8" rx="1.7" ry="2.1" fill="none" stroke="#111" stroke-width="0.9" transform="rotate(0 119.3 1348.8)"/>
<path d="M121.3,1342.5 L121.3,1352.9" stroke="#111" stroke-width="1.5" fill="none"/>
<path d="M231.8,1279.5 L257.1,1265.1 L257.1,1275.4 L231.8,1289.9 Z" fill="#bbb" stroke="#111" stroke-width="1.2"/>
<ellipse cx="236.8" cy="1281.8" rx="1.7" ry="2.1" fill="none" stroke="#111" stroke-width="0.9" transform="rotate(0 236.8 1281.8)"/>
<ellipse cx="241.9" cy="1278.9" rx="1.7" ry="2.1" fill="none" stroke="#111" stroke-width="0.9" transform="rotate(0 241.9 1278.9)"/>
<ellipse cx="247" cy="1276" rx="1.7" ry="2.1" fill="none" stroke="#111" stroke-width="0.9" transform="rotate(0 247 1276)"/>
<ellipse cx="252" cy="1273.1" rx="1.7" ry="2.1" fill="none" stroke="#111" stroke-width="0.9" transform="rotate(0 252 1273.1)"/>
<path d="M254,1266.9 L254,1277.2" stroke="#111" stroke-width="1.5" fill="none"/>
<path d="M98.9,1580.4 L124.4,1566 L124.4,1576.3 L98.9,1590.8 Z" fill="#fff" stroke="#111" stroke-width="1.2"/>
<ellipse cx="104" cy="1582.7" rx="1.7" ry="2.1" fill="none" stroke="#111" stroke-width="0.9" transform="rotate(0 104 1582.7)"/>
<ellipse cx="109.1" cy="1579.8" rx="1.7" ry="2.1" fill="none" stroke="#111" stroke-width="0.9" transform="rotate(0 109.1 1579.8)"/>
<ellipse cx="114.2" cy="1576.9" rx="1.7" ry="2.1" fill="none" stroke="#111" stroke-width="0.9" transform="rotate(0 114.2 1576.9)"/>
<ellipse cx="119.3" cy="1574" rx="1.7" ry="2.1" fill="none" stroke="#111" stroke-width="0.9" transform="rotate(0 119.3 1574)"/>
<path d="M121.3,1567.7 L121.3,1578" stroke="#111" stroke-width="1.5" fill="none"/>
<path d="M231.8,1504.7 L257.1,1490.3 L257.1,1500.6 L231.8,1515 Z" fill="#fff" stroke="#111" stroke-width="1.2"/>
<ellipse cx="236.8" cy="1507" rx="1.7" ry="2.1" fill="none" stroke="#111" stroke-width="0.9" transform="rotate(0 236.8 1507)"/>
<ellipse cx="241.9" cy="1504.1" rx="1.7" ry="2.1" fill="none" stroke="#111" stroke-width="0.9" transform="rotate(0 241.9 1504.1)"/>
<ellipse cx="247" cy="1501.2" rx="1.7" ry="2.1" fill="none" stroke="#111" stroke-width="0.9" transform="rotate(0 247 1501.2)"/>
<ellipse cx="252" cy="1498.3" rx="1.7" ry="2.1" fill="none" stroke="#111" stroke-width="0.9" transform="rotate(0 252 1498.3)"/>
<path d="M254,1492.1 L254,1502.4" stroke="#111" stroke-width="1.5" fill="none"/>
<path d="M258,1266 L264,1267.5 L269,1268 L269,1274 L263,1275.5 L258,1274 Z" fill="#c4c4c4" stroke="#111" stroke-width="1.3"/>
<ellipse cx="270" cy="1271" rx="3.8" ry="4.2" fill="#333" stroke="#111" stroke-width="1.4" transform="rotate(0 270 1271)"/>
<ellipse cx="270" cy="1271" rx="1.4" ry="1.4" fill="#999" stroke="#111" stroke-width="0.8" transform="rotate(0 270 1271)"/>
<path d="M110,1364.8 L105.2,1366 L101.2,1366.4 L101.2,1371.2 L106,1372.4 L110,1371.2 Z" fill="#c4c4c4" stroke="#111" stroke-width="1.3"/>
<ellipse cx="100.4" cy="1368.8" rx="3" ry="3.4" fill="#333" stroke="#111" stroke-width="1.4" transform="rotate(0 100.4 1368.8)"/>
<ellipse cx="100.4" cy="1368.8" rx="1.1" ry="1.1" fill="#999" stroke="#111" stroke-width="0.8" transform="rotate(0 100.4 1368.8)"/>
<path d="M229,1517 L252,1505 L255,1507 L255,1519 L233,1531 L229,1529 Z" fill="#999" stroke="#111" stroke-width="1.4"/>
<path d="M929,1400.8 L961.3,1382.4" stroke="#111" stroke-width="1.1" fill="none"/>
<path d="M929,1622.6 L961.3,1604.2" stroke="#111" stroke-width="1.1" fill="none"/>
<path d="M786.2,1319.4 L818.5,1301" stroke="#111" stroke-width="1.5" fill="none"/>
<path d="M786.2,1319.4 L786.2,1541.2" stroke="#111" stroke-width="1.9" fill="none"/>
<path d="M792.5,1324.7 L792.5,1544.8" stroke="#111" stroke-width="1.5" fill="none"/>
<path d="M786.2,1541.2 L792.5,1544.8" stroke="#111" stroke-width="1.4" fill="none"/>
<path d="M929,1400.8 L929,1622.6" stroke="#111" stroke-width="1.9" fill="none"/>
<path d="M922.6,1398.9 L922.6,1619" stroke="#111" stroke-width="1.5" fill="none"/>
<path d="M929,1622.6 L922.6,1619" stroke="#111" stroke-width="1.4" fill="none"/>
<path d="M786.2,1319.4 L929,1400.8" stroke="#111" stroke-width="1.5" fill="none"/>
<path d="M787.1,1321.8 L928.2,1402.2" stroke="#444" stroke-width="1" fill="none"/>
<path d="M792.5,1334.9 L922.6,1409.1" stroke="#111" stroke-width="1.3" fill="none"/>
<path d="M815.1,1338.4 L815.1,1346.9" stroke="#111" stroke-width="1.4" fill="none"/>
<path d="M899.7,1386.6 L899.7,1395.1" stroke="#111" stroke-width="1.4" fill="none"/>
<path d="M792.5,1502.3 L922.6,1576.5" stroke="#111" stroke-width="0.8" fill="none"/>
<path d="M792.5,1504.9 L922.6,1579.1" stroke="#555" stroke-width="0.8" fill="none"/>
<path d="M792.5,1510.8 L922.6,1585" stroke="#111" stroke-width="1.5" fill="none"/>
<path d="M815.1,1523.7 L815.1,1532.2" stroke="#111" stroke-width="1.4" fill="none"/>
<path d="M899.7,1571.9 L899.7,1580.4" stroke="#111" stroke-width="1.4" fill="none"/>
<path d="M792.5,1519.3 L922.6,1593.5" stroke="#111" stroke-width="1.2" fill="none"/>
<path d="M792.5,1544.8 L806.1,1537.1" stroke="#111" stroke-width="1" fill="none"/>
<path d="M853.4,1546.4 L853.8,1544.5 L855.9,1545.3 L859.3,1547.2 L861,1549.9 L861,1554.1 L860.6,1556 L858.5,1555.2 L855.1,1553.3 L853.4,1550.6 L853.4,1546.4" stroke="#111" stroke-width="0.9" fill="none"/>
<clipPath id="c7"><path d="M794.3,1344.4 L919.7,1415.9 L919.7,1572.3 L794.3,1500.8 Z"/></clipPath><g clip-path="url(#c7)">
<path d="M804.1,1375.5 L827.9,1361.9" stroke="#333" stroke-width="1.4" fill="none"/>
<path d="M806.3,1376.7 L830.1,1363.2" stroke="#111" stroke-width="0.8" fill="none"/>
<path d="M811.4,1379.6 L835.2,1366.1" stroke="#333" stroke-width="1.4" fill="none"/>
<path d="M813.6,1380.9 L837.4,1367.3" stroke="#111" stroke-width="0.8" fill="none"/>
<path d="M818.7,1383.8 L842.5,1370.2" stroke="#333" stroke-width="1.4" fill="none"/>
<path d="M820.9,1385.1 L844.7,1371.5" stroke="#111" stroke-width="0.8" fill="none"/>
<path d="M826,1388 L849.8,1374.4" stroke="#333" stroke-width="1.4" fill="none"/>
<path d="M828.2,1389.2 L852,1375.7" stroke="#111" stroke-width="0.8" fill="none"/>
<path d="M833.3,1392.1 L857.1,1378.6" stroke="#333" stroke-width="1.4" fill="none"/>
<path d="M835.5,1393.4 L859.3,1379.8" stroke="#111" stroke-width="0.8" fill="none"/>
<path d="M840.6,1396.3 L864.4,1382.7" stroke="#333" stroke-width="1.4" fill="none"/>
<path d="M842.8,1397.6 L866.6,1384" stroke="#111" stroke-width="0.8" fill="none"/>
<path d="M847.9,1400.5 L871.7,1386.9" stroke="#333" stroke-width="1.4" fill="none"/>
<path d="M850.1,1401.7 L873.9,1388.2" stroke="#111" stroke-width="0.8" fill="none"/>
<path d="M855.2,1404.6 L879,1391.1" stroke="#333" stroke-width="1.4" fill="none"/>
<path d="M857.4,1405.9 L881.2,1392.3" stroke="#111" stroke-width="0.8" fill="none"/>
<path d="M862.5,1408.8 L886.3,1395.2" stroke="#333" stroke-width="1.4" fill="none"/>
<path d="M864.7,1410.1 L888.5,1396.5" stroke="#111" stroke-width="0.8" fill="none"/>
<path d="M869.8,1413 L893.6,1399.4" stroke="#333" stroke-width="1.4" fill="none"/>
<path d="M872.1,1414.2 L895.9,1400.7" stroke="#111" stroke-width="0.8" fill="none"/>
<path d="M877.1,1417.1 L901,1403.6" stroke="#333" stroke-width="1.4" fill="none"/>
<path d="M879.4,1418.4 L903.2,1404.8" stroke="#111" stroke-width="0.8" fill="none"/>
<path d="M884.5,1421.3 L908.3,1407.7" stroke="#333" stroke-width="1.4" fill="none"/>
<path d="M886.7,1422.6 L910.5,1409" stroke="#111" stroke-width="0.8" fill="none"/>
<path d="M891.8,1425.5 L915.6,1411.9" stroke="#333" stroke-width="1.4" fill="none"/>
<path d="M894,1426.7 L917.8,1413.2" stroke="#111" stroke-width="0.8" fill="none"/>
<path d="M899.1,1429.6 L922.9,1416.1" stroke="#333" stroke-width="1.4" fill="none"/>
<path d="M901.3,1430.9 L925.1,1417.3" stroke="#111" stroke-width="0.8" fill="none"/>
<path d="M906.4,1433.8 L930.2,1420.2" stroke="#333" stroke-width="1.4" fill="none"/>
<path d="M908.6,1435.1 L932.4,1421.5" stroke="#111" stroke-width="0.8" fill="none"/>
<path d="M913.7,1438 L937.5,1424.4" stroke="#333" stroke-width="1.4" fill="none"/>
<path d="M915.9,1439.2 L939.7,1425.7" stroke="#111" stroke-width="0.8" fill="none"/>
<path d="M921,1442.1 L944.8,1428.6" stroke="#333" stroke-width="1.4" fill="none"/>
<path d="M923.2,1443.4 L947,1429.8" stroke="#111" stroke-width="0.8" fill="none"/>
<path d="M933.2,1449.1 L804.5,1375.7 L802.4,1377.5 L804.5,1381.7 L933.2,1455.1" stroke="#111" stroke-width="1.1" fill="#fff"/>
<path d="M782,1370.5 L933.2,1456.8 L933.2,1498.4 L782,1412.2 Z" fill="#fff" stroke="none" stroke-width="0"/>
<path d="M782,1370.8 L933.2,1457" stroke="#111" stroke-width="0.8" fill="none"/>
<path d="M794.7,1392.2 L807,1385.2" stroke="#111" stroke-width="0.8" fill="none"/>
<path d="M796.4,1393.2 L808.7,1386.2" stroke="#111" stroke-width="0.7" fill="none"/>
<path d="M808.5,1400.1 L820.9,1393.1" stroke="#111" stroke-width="0.8" fill="none"/>
<path d="M810.2,1401.1 L822.6,1394.1" stroke="#111" stroke-width="0.7" fill="none"/>
<path d="M822.4,1408 L834.7,1401" stroke="#111" stroke-width="0.8" fill="none"/>
<path d="M824.1,1409 L836.4,1402" stroke="#111" stroke-width="0.7" fill="none"/>
<path d="M836.2,1415.9 L848.6,1408.9" stroke="#111" stroke-width="0.8" fill="none"/>
<path d="M837.9,1416.9 L850.3,1409.9" stroke="#111" stroke-width="0.7" fill="none"/>
<path d="M850.1,1423.8 L862.4,1416.8" stroke="#111" stroke-width="0.8" fill="none"/>
<path d="M851.8,1424.8 L864.1,1417.8" stroke="#111" stroke-width="0.7" fill="none"/>
<path d="M863.9,1431.7 L876.2,1424.7" stroke="#111" stroke-width="0.8" fill="none"/>
<path d="M865.6,1432.7 L877.9,1425.6" stroke="#111" stroke-width="0.7" fill="none"/>
<path d="M877.8,1439.6 L890.1,1432.6" stroke="#111" stroke-width="0.8" fill="none"/>
<path d="M879.5,1440.6 L891.8,1433.5" stroke="#111" stroke-width="0.7" fill="none"/>
<path d="M891.6,1447.5 L903.9,1440.5" stroke="#111" stroke-width="0.8" fill="none"/>
<path d="M893.3,1448.4 L905.6,1441.4" stroke="#111" stroke-width="0.7" fill="none"/>
<path d="M808.5,1400.1 L801.8,1399.2 Q796.8,1399.2 794.7,1392.2" stroke="#111" stroke-width="1.1" fill="none"/>
<path d="M822.4,1408 L815.6,1407.1 Q810.6,1407.1 808.5,1400.1" stroke="#111" stroke-width="1.1" fill="none"/>
<path d="M836.2,1415.9 L829.4,1415 Q824.5,1415 822.4,1408" stroke="#111" stroke-width="1.1" fill="none"/>
<path d="M850.1,1423.8 L843.3,1422.9 Q838.3,1422.9 836.2,1415.9" stroke="#111" stroke-width="1.1" fill="none"/>
<path d="M863.9,1431.7 L857.1,1430.8 Q852.1,1430.8 850.1,1423.8" stroke="#111" stroke-width="1.1" fill="none"/>
<path d="M877.8,1439.6 L871,1438.6 Q866,1438.6 863.9,1431.7" stroke="#111" stroke-width="1.1" fill="none"/>
<path d="M891.6,1447.5 L884.8,1446.5 Q879.8,1446.5 877.8,1439.6" stroke="#111" stroke-width="1.1" fill="none"/>
<path d="M782,1390.1 L933.2,1476.3" stroke="#111" stroke-width="0.9" fill="none"/>
<path d="M782,1393.1 L933.2,1479.3" stroke="#111" stroke-width="0.8" fill="none"/>
<path d="M782,1410.5 L933.2,1496.7" stroke="#111" stroke-width="1" fill="none"/>
<path d="M898.4,1476.9 L901,1457.9 L920.5,1466.5 L922.2,1490.4 Z" fill="#fff" stroke="#111" stroke-width="1.1"/>
<path d="M901,1457.9 L911.2,1452.1 L930.7,1460.7 L920.5,1466.5" stroke="#111" stroke-width="0.8" fill="none"/>
<path d="M904.4,1477.7 L904.4,1464.1 L918,1471 L918,1484.6 Z" stroke="#111" stroke-width="1.3" fill="none"/>
<path d="M906.5,1476.4 L906.5,1467.4 L915.8,1472.3 L915.8,1481.3 Z" fill="#3a3a3a" stroke="none" stroke-width="0"/>
<path d="M849.1,1430.9 L850.8,1445.5 L859.3,1450.3 L857.6,1435.7 Z" stroke="#111" stroke-width="1.1" fill="none"/>
<path d="M851.2,1434.2 L852.3,1443.8 L857.4,1446.7 L856.3,1437.1 Z" stroke="#111" stroke-width="0.7" fill="none"/>
<path d="M810.9,1409.5 L813.4,1428.4" stroke="#111" stroke-width="0.8" fill="none"/>
<path d="M782,1418.5 L933.2,1504.7" stroke="#111" stroke-width="0.8" fill="none"/>
<path d="M782,1422.2 L933.2,1508.4" stroke="#111" stroke-width="0.7" fill="none"/>
<path d="M804.1,1443 L810.9,1439.2" stroke="#333" stroke-width="1.3" fill="none"/>
<path d="M806.1,1444.2 L812.9,1440.3" stroke="#111" stroke-width="0.8" fill="none"/>
<path d="M809.7,1446.2 L816.5,1442.4" stroke="#333" stroke-width="1.3" fill="none"/>
<path d="M811.7,1447.4 L818.5,1443.5" stroke="#111" stroke-width="0.8" fill="none"/>
<path d="M815.3,1449.4 L822.1,1445.6" stroke="#333" stroke-width="1.3" fill="none"/>
<path d="M817.3,1450.6 L824.1,1446.7" stroke="#111" stroke-width="0.8" fill="none"/>
<path d="M820.9,1452.6 L827.7,1448.8" stroke="#333" stroke-width="1.3" fill="none"/>
<path d="M822.9,1453.8 L829.7,1449.9" stroke="#111" stroke-width="0.8" fill="none"/>
<path d="M826.5,1455.8 L833.3,1452" stroke="#333" stroke-width="1.3" fill="none"/>
<path d="M828.5,1457 L835.3,1453.1" stroke="#111" stroke-width="0.8" fill="none"/>
<path d="M832.1,1459 L838.9,1455.2" stroke="#333" stroke-width="1.3" fill="none"/>
<path d="M834.1,1460.2 L840.9,1456.3" stroke="#111" stroke-width="0.8" fill="none"/>
<path d="M837.7,1462.2 L844.5,1458.4" stroke="#333" stroke-width="1.3" fill="none"/>
<path d="M839.8,1463.4 L846.6,1459.5" stroke="#111" stroke-width="0.8" fill="none"/>
<path d="M843.3,1465.4 L850.1,1461.6" stroke="#333" stroke-width="1.3" fill="none"/>
<path d="M845.4,1466.6 L852.2,1462.7" stroke="#111" stroke-width="0.8" fill="none"/>
<path d="M848.9,1468.6 L855.7,1464.8" stroke="#333" stroke-width="1.3" fill="none"/>
<path d="M851,1469.8 L857.8,1465.9" stroke="#111" stroke-width="0.8" fill="none"/>
<path d="M854.5,1471.8 L861.3,1468" stroke="#333" stroke-width="1.3" fill="none"/>
<path d="M856.6,1473 L863.4,1469.1" stroke="#111" stroke-width="0.8" fill="none"/>
<path d="M860.2,1475 L867,1471.2" stroke="#333" stroke-width="1.3" fill="none"/>
<path d="M862.2,1476.2 L869,1472.3" stroke="#111" stroke-width="0.8" fill="none"/>
<path d="M865.8,1478.2 L872.6,1474.3" stroke="#333" stroke-width="1.3" fill="none"/>
<path d="M867.8,1479.4 L874.6,1475.5" stroke="#111" stroke-width="0.8" fill="none"/>
<path d="M871.4,1481.4 L878.2,1477.5" stroke="#333" stroke-width="1.3" fill="none"/>
<path d="M873.4,1482.6 L880.2,1478.7" stroke="#111" stroke-width="0.8" fill="none"/>
<path d="M877,1484.6 L883.8,1480.7" stroke="#333" stroke-width="1.3" fill="none"/>
<path d="M879,1485.8 L885.8,1481.9" stroke="#111" stroke-width="0.8" fill="none"/>
<path d="M882.6,1487.8 L889.4,1483.9" stroke="#333" stroke-width="1.3" fill="none"/>
<path d="M884.6,1489 L891.4,1485.1" stroke="#111" stroke-width="0.8" fill="none"/>
<path d="M888.2,1491 L895,1487.1" stroke="#333" stroke-width="1.3" fill="none"/>
<path d="M890.2,1492.2 L897,1488.3" stroke="#111" stroke-width="0.8" fill="none"/>
<path d="M893.8,1494.2 L900.6,1490.3" stroke="#333" stroke-width="1.3" fill="none"/>
<path d="M895.9,1495.4 L902.6,1491.5" stroke="#111" stroke-width="0.8" fill="none"/>
<path d="M899.4,1497.4 L906.2,1493.5" stroke="#333" stroke-width="1.3" fill="none"/>
<path d="M901.5,1498.6 L908.3,1494.7" stroke="#111" stroke-width="0.8" fill="none"/>
<path d="M905,1500.6 L911.8,1496.7" stroke="#333" stroke-width="1.3" fill="none"/>
<path d="M907.1,1501.8 L913.9,1497.9" stroke="#111" stroke-width="0.8" fill="none"/>
<path d="M910.6,1503.8 L917.4,1499.9" stroke="#333" stroke-width="1.3" fill="none"/>
<path d="M912.7,1505 L919.5,1501.1" stroke="#111" stroke-width="0.8" fill="none"/>
<path d="M916.2,1507 L923,1503.1" stroke="#333" stroke-width="1.3" fill="none"/>
<path d="M918.3,1508.2 L925.1,1504.3" stroke="#111" stroke-width="0.8" fill="none"/>
<path d="M933.2,1516.7 L804.5,1443.3 L802.4,1445.3 L804.5,1449.7 L933.2,1523.1" stroke="#111" stroke-width="1.1" fill="#fff"/>
<path d="M804.1,1469 L821.1,1459.3" stroke="#333" stroke-width="1.5" fill="none"/>
<path d="M806.8,1470.5 L823.8,1460.8" stroke="#111" stroke-width="0.8" fill="none"/>
<path d="M817.2,1476.5 L834.2,1466.8" stroke="#333" stroke-width="1.5" fill="none"/>
<path d="M819.9,1478 L836.9,1468.3" stroke="#111" stroke-width="0.8" fill="none"/>
<path d="M830.4,1484 L847.4,1474.3" stroke="#333" stroke-width="1.5" fill="none"/>
<path d="M833.1,1485.5 L850.1,1475.9" stroke="#111" stroke-width="0.8" fill="none"/>
<path d="M843.6,1491.5 L860.6,1481.8" stroke="#333" stroke-width="1.5" fill="none"/>
<path d="M846.3,1493.1 L863.3,1483.4" stroke="#111" stroke-width="0.8" fill="none"/>
<path d="M856.8,1499 L873.8,1489.3" stroke="#333" stroke-width="1.5" fill="none"/>
<path d="M859.5,1500.6 L876.5,1490.9" stroke="#111" stroke-width="0.8" fill="none"/>
<path d="M869.9,1506.5 L886.9,1496.8" stroke="#333" stroke-width="1.5" fill="none"/>
<path d="M872.6,1508.1 L889.6,1498.4" stroke="#111" stroke-width="0.8" fill="none"/>
<path d="M883.1,1514 L900.1,1504.3" stroke="#333" stroke-width="1.5" fill="none"/>
<path d="M885.8,1515.6 L902.8,1505.9" stroke="#111" stroke-width="0.8" fill="none"/>
<path d="M896.3,1521.5 L913.3,1511.9" stroke="#333" stroke-width="1.5" fill="none"/>
<path d="M899,1523.1 L916,1513.4" stroke="#111" stroke-width="0.8" fill="none"/>
<path d="M909.5,1529.1 L926.5,1519.4" stroke="#333" stroke-width="1.5" fill="none"/>
<path d="M912.2,1530.6 L929.2,1520.9" stroke="#111" stroke-width="0.8" fill="none"/>
<path d="M922.6,1536.6 L939.6,1526.9" stroke="#333" stroke-width="1.5" fill="none"/>
<path d="M925.3,1538.1 L942.3,1528.4" stroke="#111" stroke-width="0.8" fill="none"/>
<path d="M933.2,1542.6 L804.5,1469.2 L802.4,1471.2 L804.5,1475.6 L933.2,1549" stroke="#111" stroke-width="1.1" fill="#fff"/>
<path d="M786.2,1483.5 L803.2,1473.8" stroke="#333" stroke-width="1.5" fill="none"/>
<path d="M788.1,1484.5 L805.1,1474.8" stroke="#111" stroke-width="0.8" fill="none"/>
<path d="M799.4,1491 L816.4,1481.3" stroke="#333" stroke-width="1.5" fill="none"/>
<path d="M801.2,1492 L818.2,1482.3" stroke="#111" stroke-width="0.8" fill="none"/>
<path d="M812.6,1498.5 L829.6,1488.8" stroke="#333" stroke-width="1.5" fill="none"/>
<path d="M814.4,1499.5 L831.4,1489.8" stroke="#111" stroke-width="0.8" fill="none"/>
<path d="M825.7,1506 L842.7,1496.3" stroke="#333" stroke-width="1.5" fill="none"/>
<path d="M827.6,1507 L844.6,1497.4" stroke="#111" stroke-width="0.8" fill="none"/>
<path d="M838.9,1513.5 L855.9,1503.8" stroke="#333" stroke-width="1.5" fill="none"/>
<path d="M840.8,1514.6 L857.8,1504.9" stroke="#111" stroke-width="0.8" fill="none"/>
<path d="M852.1,1521 L869.1,1511.3" stroke="#333" stroke-width="1.5" fill="none"/>
<path d="M853.9,1522.1 L870.9,1512.4" stroke="#111" stroke-width="0.8" fill="none"/>
<path d="M865.2,1528.5 L882.2,1518.8" stroke="#333" stroke-width="1.5" fill="none"/>
<path d="M867.1,1529.6 L884.1,1519.9" stroke="#111" stroke-width="0.8" fill="none"/>
<path d="M878.4,1536 L895.4,1526.3" stroke="#333" stroke-width="1.5" fill="none"/>
<path d="M880.3,1537.1 L897.3,1527.4" stroke="#111" stroke-width="0.8" fill="none"/>
<path d="M891.6,1543.5 L908.6,1533.8" stroke="#333" stroke-width="1.5" fill="none"/>
<path d="M893.5,1544.6 L910.5,1534.9" stroke="#111" stroke-width="0.8" fill="none"/>
<path d="M904.8,1551 L921.8,1541.3" stroke="#333" stroke-width="1.5" fill="none"/>
<path d="M906.6,1552.1 L923.6,1542.4" stroke="#111" stroke-width="0.8" fill="none"/>
<path d="M782,1481 L933.2,1567.3" stroke="#111" stroke-width="1" fill="none"/>
<path d="M782,1484.4 L933.2,1570.7" stroke="#111" stroke-width="0.8" fill="none"/>
</g>
<path d="M794.3,1499.1 L794.3,1348.7 L797.7,1346.3 L916.2,1413.9 L919.7,1420.1 L919.7,1570.6" stroke="#111" stroke-width="1.1" fill="none"/>
<path d="M796,1498.4 L796,1351.3 L798.5,1349 L915.4,1415.6 L918,1420.8 L918,1567.9" stroke="#111" stroke-width="0.7" fill="none"/>
<path d="M794.3,1499.1 L797.7,1502.7 L916.2,1570.3 L919.7,1570.6" stroke="#111" stroke-width="1" fill="none"/>
<path d="M797.7,1500.2 L916.2,1567.8" stroke="#111" stroke-width="0.8" fill="none"/>
<path d="M901.8,1387.8 L922.6,1399.7 L922.6,1408.2 L901.8,1396.3 Z" fill="#fff" stroke="#111" stroke-width="1.2"/>
<ellipse cx="906" cy="1394.5" rx="1.4" ry="1.7" fill="none" stroke="#111" stroke-width="0.9" transform="rotate(0 906 1394.5)"/>
<ellipse cx="910.1" cy="1396.8" rx="1.4" ry="1.7" fill="none" stroke="#111" stroke-width="0.9" transform="rotate(0 910.1 1396.8)"/>
<ellipse cx="914.3" cy="1399.2" rx="1.4" ry="1.7" fill="none" stroke="#111" stroke-width="0.9" transform="rotate(0 914.3 1399.2)"/>
<ellipse cx="918.5" cy="1401.6" rx="1.4" ry="1.7" fill="none" stroke="#111" stroke-width="0.9" transform="rotate(0 918.5 1401.6)"/>
<path d="M920.1,1398.3 L920.1,1406.8" stroke="#111" stroke-width="1.3" fill="none"/>
<path d="M901.8,1573.1 L922.6,1585 L922.6,1593.5 L901.8,1581.6 Z" fill="#fff" stroke="#111" stroke-width="1.2"/>
<ellipse cx="906" cy="1579.8" rx="1.4" ry="1.7" fill="none" stroke="#111" stroke-width="0.9" transform="rotate(0 906 1579.8)"/>
<ellipse cx="910.1" cy="1582.1" rx="1.4" ry="1.7" fill="none" stroke="#111" stroke-width="0.9" transform="rotate(0 910.1 1582.1)"/>
<ellipse cx="914.3" cy="1584.5" rx="1.4" ry="1.7" fill="none" stroke="#111" stroke-width="0.9" transform="rotate(0 914.3 1584.5)"/>
<ellipse cx="918.5" cy="1586.9" rx="1.4" ry="1.7" fill="none" stroke="#111" stroke-width="0.9" transform="rotate(0 918.5 1586.9)"/>
<path d="M920.1,1583.6 L920.1,1592.1" stroke="#111" stroke-width="1.3" fill="none"/>
<path d="M676,244.7 L676,429.5 L710,447.6 L817,386" stroke="#111" stroke-width="2" fill="none"/>
<path d="M713.4,279.9 L713.4,447.6" stroke="#111" stroke-width="1" fill="none"/>
<path d="M707.7,244.7 L707.7,277.6 L852.8,359.2" stroke="#111" stroke-width="2" fill="none"/>
<path d="M727,244.7 L852.8,317.3" stroke="#111" stroke-width="1" fill="none"/>
<path d="M713.4,283 L852.8,362" stroke="#111" stroke-width="1" fill="none"/>
<path d="M774.6,359.2 L852.8,405.7" stroke="#111" stroke-width="2" fill="none"/>
<path d="M735,330 L852,397" stroke="#111" stroke-width="0.9" fill="none"/>
<path d="M815,390 L826,397 L826,380" stroke="#111" stroke-width="1.2" fill="none"/>
<path d="M732,289 L732,302 L737,307.5 L745,307.5 L745,296" stroke="#111" stroke-width="1.3" fill="none"/>
<ellipse cx="756" cy="312" rx="3.5" ry="4.2" fill="none" stroke="#111" stroke-width="1.3" transform="rotate(-30 756 312)"/>
<ellipse cx="756.5" cy="312.5" rx="1.8" ry="2.1" fill="none" stroke="#111" stroke-width="0.8" transform="rotate(0 756.5 312.5)"/>
<ellipse cx="776.4" cy="323" rx="3.8" ry="4.6" fill="none" stroke="#111" stroke-width="1.3" transform="rotate(-30 776.4 323)"/>
<ellipse cx="776.9" cy="323.5" rx="1.9" ry="2.3" fill="none" stroke="#111" stroke-width="0.8" transform="rotate(0 776.9 323.5)"/>
<ellipse cx="791.2" cy="331" rx="3.5" ry="4.2" fill="none" stroke="#111" stroke-width="1.3" transform="rotate(-30 791.2 331)"/>
<ellipse cx="791.7" cy="331.5" rx="1.8" ry="2.1" fill="none" stroke="#111" stroke-width="0.8" transform="rotate(0 791.7 331.5)"/>
<ellipse cx="810" cy="341" rx="3.5" ry="4.2" fill="none" stroke="#111" stroke-width="1.3" transform="rotate(-30 810 341)"/>
<ellipse cx="810.5" cy="341.5" rx="1.8" ry="2.1" fill="none" stroke="#111" stroke-width="0.8" transform="rotate(0 810.5 341.5)"/>
<path d="M684,310 L689,308 L772,352 L772,396 L769,397 L684,352 Z" fill="#bdbdbd" stroke="#111" stroke-width="1.6"/>
<path d="M769,354 L769,397" stroke="#111" stroke-width="1.2" fill="none"/>
<ellipse cx="730" cy="349" rx="6" ry="9" fill="#fff" stroke="#111" stroke-width="1.2" transform="rotate(-25 730 349)"/>
<ellipse cx="748" cy="368" rx="5" ry="8" fill="#fff" stroke="#111" stroke-width="1.2" transform="rotate(-60 748 368)"/>
<path d="M613,350.8 L615.9,344 L621.7,341.1 L628.5,342.1 L636.2,345.9 L648.7,349.8 L669,339.2 L679.6,334.3 L688.3,335.3 L699.9,342.1 L702.8,344 L702.8,356.6 L690.3,362.3 L660.3,377.4 L654.5,376.8 L637.2,368.1 L635.2,370.1 L629.4,369.1 L614,357.5 Z" fill="#b8b8b8" stroke="#111" stroke-width="1.6"/>
<ellipse cx="622.7" cy="347.9" rx="5.4" ry="3.6" fill="#e0e0e0" stroke="#111" stroke-width="1.2" transform="rotate(-25 622.7 347.9)"/>
<path d="M669,339.2 L690.3,350.8 L690.3,362.3" stroke="#111" stroke-width="1.1" fill="none"/>
<path d="M648.7,349.8 L674.8,364.3 L674.8,371.4" stroke="#111" stroke-width="1.1" fill="none"/>
<path d="M688.7,354.8 L705.5,345.9 L703.1,341.3 L686.3,350.2 Z" fill="#555" stroke="#111" stroke-width="1.1"/>
<path d="M693.3,351.8 L692.6,347.4" stroke="#bbb" stroke-width="0.7" fill="none"/>
<path d="M695.3,350.7 L694.6,346.4" stroke="#bbb" stroke-width="0.7" fill="none"/>
<path d="M697.2,349.7 L696.5,345.4" stroke="#bbb" stroke-width="0.7" fill="none"/>
<path d="M699.2,348.7 L698.4,344.3" stroke="#bbb" stroke-width="0.7" fill="none"/>
<path d="M701.1,347.6 L700.4,343.3" stroke="#bbb" stroke-width="0.7" fill="none"/>
<path d="M703,346.6 L702.3,342.3" stroke="#bbb" stroke-width="0.7" fill="none"/>
<circle cx="687.5" cy="352.5" r="5.2" fill="#f2f2f2" stroke="#111" stroke-width="1.7"/>
<circle cx="687.5" cy="352.5" r="2" fill="#444" stroke="#111" stroke-width="1.1"/>
<path d="M708.2,349.8 L725,340.9 L722.6,336.3 L705.8,345.2 Z" fill="#555" stroke="#111" stroke-width="1.1"/>
<path d="M712.8,346.8 L712.1,342.4" stroke="#bbb" stroke-width="0.7" fill="none"/>
<path d="M714.8,345.7 L714.1,341.4" stroke="#bbb" stroke-width="0.7" fill="none"/>
<path d="M716.7,344.7 L716,340.4" stroke="#bbb" stroke-width="0.7" fill="none"/>
<path d="M718.7,343.7 L717.9,339.3" stroke="#bbb" stroke-width="0.7" fill="none"/>
<path d="M720.6,342.6 L719.9,338.3" stroke="#bbb" stroke-width="0.7" fill="none"/>
<path d="M722.5,341.6 L721.8,337.3" stroke="#bbb" stroke-width="0.7" fill="none"/>
<circle cx="707" cy="347.5" r="5.2" fill="#f2f2f2" stroke="#111" stroke-width="1.7"/>
<circle cx="707" cy="347.5" r="2" fill="#444" stroke="#111" stroke-width="1.1"/>
<path d="M736.7,385.3 L753.5,376.4 L751.1,371.8 L734.3,380.7 Z" fill="#555" stroke="#111" stroke-width="1.1"/>
<path d="M741.3,382.3 L740.6,377.9" stroke="#bbb" stroke-width="0.7" fill="none"/>
<path d="M743.3,381.2 L742.6,376.9" stroke="#bbb" stroke-width="0.7" fill="none"/>
<path d="M745.2,380.2 L744.5,375.9" stroke="#bbb" stroke-width="0.7" fill="none"/>
<path d="M747.2,379.2 L746.4,374.8" stroke="#bbb" stroke-width="0.7" fill="none"/>
<path d="M749.1,378.1 L748.4,373.8" stroke="#bbb" stroke-width="0.7" fill="none"/>
<path d="M751,377.1 L750.3,372.8" stroke="#bbb" stroke-width="0.7" fill="none"/>
<circle cx="735.5" cy="383" r="5.2" fill="#f2f2f2" stroke="#111" stroke-width="1.7"/>
<circle cx="735.5" cy="383" r="2" fill="#444" stroke="#111" stroke-width="1.1"/>
<path d="M731.2,327.2 L747.5,318.7 L749.6,322.7 L757,311 L743.1,310.3 L745.2,314.3 L728.8,322.8 Z" fill="#262626" stroke="none" stroke-width="0"/>
<path d="M746.1,335.3 L766.3,325.5 L768.2,329.5 L776,318 L762.1,316.9 L764.1,321 L743.9,330.7 Z" fill="#262626" stroke="none" stroke-width="0"/>
<path d="M779.1,359.2 L800.4,348.6 L802.4,352.6 L810,341 L796.1,340.1 L798.1,344.1 L776.9,354.8 Z" fill="#262626" stroke="none" stroke-width="0"/>
<path d="M672.8,578.7 L663.4,573.4 L848.8,467.7 L858.1,473.1 Z" fill="#fff" stroke="#111" stroke-width="1.4"/>
<path d="M672.8,578.7 L663.4,573.4 L663.4,839 L672.8,844.4 Z" fill="#fff" stroke="#111" stroke-width="1.4"/>
<path d="M668.4,576.2 L668.4,841.8" stroke="#111" stroke-width="1" fill="none"/>
<path d="M672.8,578.7 L858.1,473.1 L858.1,712.9 L851.5,716.6 L851.5,742.5 L672.8,844.4 L672.8,578.7" stroke="#111" stroke-width="2.2" fill="none"/>
<path d="M676.1,582.3 L854.8,480.4" stroke="#111" stroke-width="1.3" fill="none"/>
<path d="M676.1,585.6 L854.8,483.7" stroke="#111" stroke-width="1" fill="none"/>
<path d="M675.5,598 L675.5,821.3" stroke="#111" stroke-width="2.9" fill="none"/>
<path d="M854.8,478.2 L854.8,711.4" stroke="#111" stroke-width="1.1" fill="none"/>
<path d="M677.2,597.1 L853.8,496.5 L853.8,715.4 L677.2,816 L677.2,597.1" stroke="#111" stroke-width="1.7" fill="none"/>
<path d="M680.5,598.5 L850.4,501.6 L850.4,713.9 L680.5,810.8 L680.5,598.5" stroke="#111" stroke-width="1.1" fill="none"/>
<path d="M683.8,599.9 L847.1,506.8 L847.1,712.5 L683.8,805.6 L683.8,599.9" stroke="#111" stroke-width="1.1" fill="none"/>
<path d="M687.1,601.3 L843.8,512 L843.8,711.1 L687.1,800.4 L687.1,601.3" stroke="#111" stroke-width="1.7" fill="none"/>
<path d="M677.2,597.1 L687.1,601.3" stroke="#111" stroke-width="1" fill="none"/>
<path d="M853.8,715.4 L843.8,711.1" stroke="#111" stroke-width="1" fill="none"/>
<path d="M853.8,496.5 L843.8,512" stroke="#111" stroke-width="1" fill="none"/>
<path d="M677.2,816 L687.1,800.4" stroke="#111" stroke-width="1" fill="none"/>
<path d="M680.5,808.6 L850.4,711.7" stroke="#555" stroke-width="1.4" fill="none"/>
<path d="M680.5,806.4 L850.4,709.5" stroke="#555" stroke-width="0.9" fill="none"/>
<path d="M672.8,818.5 L851.5,716.6" stroke="#111" stroke-width="1.3" fill="none"/>
<path d="M672.8,822.9 L851.5,721" stroke="#111" stroke-width="1" fill="none"/>
<ellipse cx="765.5" cy="539.1" rx="3.1" ry="4" fill="none" stroke="#111" stroke-width="1.1" transform="rotate(15 765.5 539.1)"/>
<ellipse cx="768.8" cy="777" rx="2.9" ry="2.9" fill="none" stroke="#111" stroke-width="1.3" transform="rotate(0 768.8 777)"/>
<ellipse cx="772.1" cy="778.1" rx="2.2" ry="2.6" fill="none" stroke="#111" stroke-width="1.1" transform="rotate(0 772.1 778.1)"/>
<ellipse cx="853.8" cy="478.9" rx="1.8" ry="1.8" fill="none" stroke="#111" stroke-width="0.9" transform="rotate(0 853.8 478.9)"/>
<path d="M656.8,589.6 L656.8,818.4 L649.7,814.3 L649.7,585.5 Z" fill="#fff" stroke="#111" stroke-width="1.4"/>
<path d="M662.3,596 L662.3,818.2 L656.8,818.4 L656.8,589.6 Z" fill="#fff" stroke="#111" stroke-width="1.3"/>
<path d="M653,592.9 L653,810.7" stroke="#777" stroke-width="1" fill="none"/>
<path d="M671.1,619.7 L649.7,607.5 L649.7,622.9 L671.1,635.1 Z" fill="#fff" stroke="#111" stroke-width="1.3"/>
<path d="M671.1,802.3 L649.7,790.1 L649.7,805.5 L671.1,817.7 Z" fill="#fff" stroke="#111" stroke-width="1.3"/>
<path d="M850.8,485.2 L869.5,495.8 L866.7,500.6 L882,500 L874.6,486.6 L871.9,491.4 L853.2,480.8 Z" fill="#fff" stroke="#fff" stroke-width="3" stroke-linejoin="miter"/>
<path d="M850.8,485.2 L869.5,495.8 L866.7,500.6 L882,500 L874.6,486.6 L871.9,491.4 L853.2,480.8 Z" fill="#262626" stroke="none" stroke-width="0"/>
<path d="M850.9,734.2 L869.3,743.4 L866.8,748.3 L882,747 L874,734 L871.5,739 L853.1,729.8 Z" fill="#fff" stroke="#fff" stroke-width="3" stroke-linejoin="miter"/>
<path d="M850.9,734.2 L869.3,743.4 L866.8,748.3 L882,747 L874,734 L871.5,739 L853.1,729.8 Z" fill="#262626" stroke="none" stroke-width="0"/>
<path d="M197.2,975 L197.2,812 L200,807 L227.2,788.7" stroke="#111" stroke-width="1.3" fill="none"/>
<path d="M200,808 L340.2,889" stroke="#111" stroke-width="1.5" fill="none"/>
<path d="M197.2,816 L340.2,898" stroke="#111" stroke-width="1" fill="none"/>
<path d="M223.3,834 L223.3,975" stroke="#111" stroke-width="1.2" fill="none"/>
<path d="M225.3,834 L340.2,896.8" stroke="#111" stroke-width="1.2" fill="none"/>
<path d="M228,840 L340.2,902" stroke="#111" stroke-width="0.9" fill="none"/>
<path d="M240,866 L340.2,922" stroke="#111" stroke-width="0.9" fill="none"/>
<path d="M286,943 L340,974" stroke="#111" stroke-width="1" fill="none"/>
<path d="M286,958 L330,983" stroke="#111" stroke-width="0.9" fill="none"/>
<path d="M312,880 L312,920 L318,924 L318,884" stroke="#111" stroke-width="1.2" fill="none"/>
<ellipse cx="237" cy="848" rx="4" ry="4.8" fill="none" stroke="#111" stroke-width="1.2" transform="rotate(-30 237 848)"/>
<ellipse cx="266" cy="861" rx="3" ry="3.6" fill="none" stroke="#111" stroke-width="1.2" transform="rotate(-30 266 861)"/>
<ellipse cx="281" cy="870" rx="5.5" ry="6.6" fill="none" stroke="#111" stroke-width="1.2" transform="rotate(-30 281 870)"/>
<ellipse cx="295" cy="878" rx="3" ry="3.6" fill="none" stroke="#111" stroke-width="1.2" transform="rotate(-30 295 878)"/>
<ellipse cx="310" cy="886" rx="3.5" ry="4.2" fill="none" stroke="#111" stroke-width="1.2" transform="rotate(-30 310 886)"/>
<path d="M222.4,874 L227,871.7 L283.2,903.6 L283.2,944.2 L279,945 L222.4,915 Z" fill="#bdbdbd" stroke="#111" stroke-width="1.6"/>
<path d="M279,905 L279,945" stroke="#111" stroke-width="1.2" fill="none"/>
<ellipse cx="241" cy="898" rx="5" ry="8" fill="#fff" stroke="#111" stroke-width="1.2" transform="rotate(-25 241 898)"/>
<ellipse cx="262" cy="916" rx="5" ry="8" fill="#fff" stroke="#111" stroke-width="1.2" transform="rotate(-60 262 916)"/>
<path d="M130.6,882.4 L133.5,875.6 L139.3,872.7 L146.1,873.7 L153.8,877.5 L166.3,881.4 L186.6,870.8 L197.2,865.9 L205.9,866.9 L217.5,873.7 L220.4,875.6 L220.4,888.2 L207.9,893.9 L177.9,909 L172.1,908.4 L154.8,899.7 L152.8,901.7 L147,900.7 L131.6,889.1 Z" fill="#b8b8b8" stroke="#111" stroke-width="1.6"/>
<ellipse cx="140.3" cy="879.5" rx="5.4" ry="3.6" fill="#e0e0e0" stroke="#111" stroke-width="1.2" transform="rotate(-25 140.3 879.5)"/>
<path d="M186.6,870.8 L207.9,882.4 L207.9,893.9" stroke="#111" stroke-width="1.1" fill="none"/>
<path d="M166.3,881.4 L192.4,895.9 L192.4,903" stroke="#111" stroke-width="1.1" fill="none"/>
<path d="M205.2,904 L222,895.1 L219.6,890.5 L202.8,899.4 Z" fill="#555" stroke="#111" stroke-width="1.1"/>
<path d="M209.8,901 L209.1,896.6" stroke="#bbb" stroke-width="0.7" fill="none"/>
<path d="M211.8,899.9 L211.1,895.6" stroke="#bbb" stroke-width="0.7" fill="none"/>
<path d="M213.7,898.9 L213,894.6" stroke="#bbb" stroke-width="0.7" fill="none"/>
<path d="M215.7,897.9 L214.9,893.5" stroke="#bbb" stroke-width="0.7" fill="none"/>
<path d="M217.6,896.8 L216.9,892.5" stroke="#bbb" stroke-width="0.7" fill="none"/>
<path d="M219.5,895.8 L218.8,891.5" stroke="#bbb" stroke-width="0.7" fill="none"/>
<circle cx="204" cy="901.7" r="5.2" fill="#f2f2f2" stroke="#111" stroke-width="1.7"/>
<circle cx="204" cy="901.7" r="2" fill="#444" stroke="#111" stroke-width="1.1"/>
<path d="M236.1,922.3 L252.9,913.4 L250.5,908.8 L233.7,917.7 Z" fill="#555" stroke="#111" stroke-width="1.1"/>
<path d="M240.7,919.3 L240,914.9" stroke="#bbb" stroke-width="0.7" fill="none"/>
<path d="M242.7,918.2 L242,913.9" stroke="#bbb" stroke-width="0.7" fill="none"/>
<path d="M244.6,917.2 L243.9,912.9" stroke="#bbb" stroke-width="0.7" fill="none"/>
<path d="M246.6,916.2 L245.8,911.8" stroke="#bbb" stroke-width="0.7" fill="none"/>
<path d="M248.5,915.1 L247.8,910.8" stroke="#bbb" stroke-width="0.7" fill="none"/>
<path d="M250.4,914.1 L249.7,909.8" stroke="#bbb" stroke-width="0.7" fill="none"/>
<circle cx="234.9" cy="920" r="5.2" fill="#f2f2f2" stroke="#111" stroke-width="1.7"/>
<circle cx="234.9" cy="920" r="2" fill="#444" stroke="#111" stroke-width="1.1"/>
<path d="M242.1,876.2 L255.4,869.6 L257.4,873.6 L265,862 L251.1,861.1 L253.1,865.1 L239.9,871.8 Z" fill="#262626" stroke="none" stroke-width="0"/>
<path d="M272.1,894.2 L285.4,887.6 L287.4,891.6 L295,880 L281.1,879.1 L283.1,883.1 L269.9,889.8 Z" fill="#262626" stroke="none" stroke-width="0"/>
<path d="M486,1236.6 L486,1398.2" stroke="#111" stroke-width="2.2" fill="none"/>
<path d="M444.4,1275.4 L444.4,1399.2" stroke="#111" stroke-width="1" fill="none"/>
<path d="M450,1236.6 L450,1272.6 L444,1275" stroke="#111" stroke-width="1" fill="none"/>
<path d="M287.4,1281.9 L450,1269" stroke="#111" stroke-width="1.2" fill="none"/>
<path d="M292,1280 L448,1267.5" stroke="#111" stroke-width="0.8" fill="none"/>
<path d="M305.9,1282.8 L305.9,1343.8" stroke="#111" stroke-width="1.2" fill="none"/>
<path d="M310,1283 L310,1342" stroke="#111" stroke-width="0.9" fill="none"/>
<path d="M304.9,1341.9 L444.4,1329" stroke="#111" stroke-width="1.2" fill="none"/>
<path d="M280,1347.4 L444.4,1331.7" stroke="#111" stroke-width="2" fill="none"/>
<ellipse cx="334.5" cy="1307.7" rx="4.6" ry="5.3" fill="none" stroke="#111" stroke-width="1.8" transform="rotate(0 334.5 1307.7)"/>
<ellipse cx="335.1" cy="1308.1" rx="2.8" ry="3.4" fill="none" stroke="#111" stroke-width="0.9" transform="rotate(0 335.1 1308.1)"/>
<ellipse cx="355.7" cy="1305.9" rx="4.6" ry="5.3" fill="none" stroke="#111" stroke-width="1.8" transform="rotate(0 355.7 1305.9)"/>
<ellipse cx="356.3" cy="1306.3" rx="2.8" ry="3.4" fill="none" stroke="#111" stroke-width="0.9" transform="rotate(0 356.3 1306.3)"/>
<ellipse cx="398.2" cy="1302.2" rx="4.6" ry="5.3" fill="none" stroke="#111" stroke-width="1.8" transform="rotate(0 398.2 1302.2)"/>
<ellipse cx="398.8" cy="1302.6" rx="2.8" ry="3.4" fill="none" stroke="#111" stroke-width="0.9" transform="rotate(0 398.8 1302.6)"/>
<ellipse cx="377" cy="1284.6" rx="4.6" ry="5.3" fill="none" stroke="#111" stroke-width="1.8" transform="rotate(0 377 1284.6)"/>
<ellipse cx="377.6" cy="1285" rx="2.8" ry="3.4" fill="none" stroke="#111" stroke-width="0.9" transform="rotate(0 377.6 1285)"/>
<ellipse cx="378.8" cy="1304" rx="8.3" ry="9" fill="none" stroke="#111" stroke-width="1.5" transform="rotate(0 378.8 1304)"/>
<ellipse cx="378.8" cy="1304" rx="4.5" ry="5" fill="none" stroke="#111" stroke-width="1.5" transform="rotate(0 378.8 1304)"/>
<ellipse cx="419.5" cy="1300.3" rx="6.5" ry="10" fill="none" stroke="#111" stroke-width="1.8" transform="rotate(0 419.5 1300.3)"/>
<ellipse cx="420" cy="1300.8" rx="4" ry="7.5" fill="none" stroke="#111" stroke-width="1" transform="rotate(0 420 1300.8)"/>
<path d="M307.7,1283.7 L318,1283.7 L321.5,1287 L321.5,1292 L313.2,1294 L313.2,1323.4 L320.6,1327.1 L320.6,1338.2 L307.7,1340" stroke="#111" stroke-width="1.2" fill="none"/>
<path d="M318.8,1345.6 L427.8,1335.4 L427.8,1365 L425,1370 L396,1374 L393,1372 L390,1375 L355,1379 L352,1376 L349,1380 L330,1382 L322,1382 L318,1381 L296,1375 L296,1370 L316,1366 L318.8,1360 Z" fill="#c0c0c0" stroke="#111" stroke-width="1.6"/>
<ellipse cx="332.6" cy="1356.7" rx="4" ry="4.5" fill="#c0c0c0" stroke="#111" stroke-width="1.6" transform="rotate(0 332.6 1356.7)"/>
<ellipse cx="353.9" cy="1353.9" rx="4" ry="4.5" fill="#c0c0c0" stroke="#111" stroke-width="1.6" transform="rotate(0 353.9 1353.9)"/>
<ellipse cx="396.4" cy="1350.2" rx="4" ry="4.5" fill="#c0c0c0" stroke="#111" stroke-width="1.6" transform="rotate(0 396.4 1350.2)"/>
<ellipse cx="416.7" cy="1347.4" rx="4" ry="4.5" fill="#c0c0c0" stroke="#111" stroke-width="1.6" transform="rotate(0 416.7 1347.4)"/>
<path d="M343,1345 L343,1371" stroke="#111" stroke-width="1.4" fill="none"/>
<path d="M407,1340 L407,1365" stroke="#111" stroke-width="1.4" fill="none"/>
<path d="M366.2,1377 L366.2,1400 L357.5,1400 L370.5,1415 L383.5,1400 L374.8,1400 L374.8,1377 Z" fill="#262626" stroke="none" stroke-width="0"/>
<path d="M607.4,1219.8 L679.4,1178.2" stroke="#111" stroke-width="2.2" fill="none"/>
<path d="M696,1172.7 L727.4,1191.5 L729.3,1204 L735.8,1207.8 L735.8,1224.4" stroke="#111" stroke-width="2.2" fill="none"/>
<path d="M705.3,1176.4 L705.3,1150.5 L710.8,1145 L772.7,1111.7" stroke="#111" stroke-width="2.2" fill="none"/>
<path d="M707,1155 L803,1209" stroke="#111" stroke-width="1" fill="none"/>
<path d="M708,1170 L803,1221" stroke="#111" stroke-width="1" fill="none"/>
<path d="M609,1254 L722,1190" stroke="#111" stroke-width="1" fill="none"/>
<path d="M611,1259.5 L725,1196" stroke="#111" stroke-width="1" fill="none"/>
<path d="M617.5,1268.7 L735,1203.5" stroke="#111" stroke-width="1" fill="none"/>
<path d="M627,1283.5 L735,1222.5" stroke="#111" stroke-width="1" fill="none"/>
<ellipse cx="686.8" cy="1191.1" rx="7.4" ry="4.2" fill="none" stroke="#111" stroke-width="1.2" transform="rotate(0 686.8 1191.1)"/>
<path d="M709,1238 L754,1211 L785.6,1229 L785.6,1244 L749,1264 L740,1266 L730,1264 L709,1250 Z" fill="#fff" stroke="#111" stroke-width="1.8"/>
<path d="M743,1255 L765,1242 L769,1240 L769,1258" stroke="#111" stroke-width="1.3" fill="none"/>
<path d="M709,1242 L735.8,1256.7 L742.2,1255.8 L785.6,1231.8" stroke="#111" stroke-width="1.1" fill="none"/>
<path d="M736.7,1218.8 L771.8,1202.2 L803.2,1220.7" stroke="#111" stroke-width="1.1" fill="none"/>
<path d="M747.8,1193 L747.8,1209.6" stroke="#111" stroke-width="1" fill="none"/>
<path d="M753.3,1193 L753.3,1207" stroke="#111" stroke-width="1" fill="none"/>
<path d="M740,1224 L760,1213" stroke="#111" stroke-width="1" fill="none"/>
<ellipse cx="738" cy="1259" rx="4" ry="4" fill="none" stroke="#111" stroke-width="1.3" transform="rotate(0 738 1259)"/>
<ellipse cx="799" cy="1241" rx="4.5" ry="4.5" fill="none" stroke="#111" stroke-width="1.4" transform="rotate(0 799 1241)"/>
<ellipse cx="799" cy="1241" rx="1.8" ry="1.8" fill="none" stroke="#111" stroke-width="1" transform="rotate(0 799 1241)"/>
<path d="M662.8,1263 L662.8,1313" stroke="#111" stroke-width="1.8" fill="none"/>
<path d="M662.8,1263 L657,1260 L690,1240" stroke="#111" stroke-width="1.3" fill="none"/>
<path d="M664,1282 L700,1260 L700,1250 L705,1248" stroke="#111" stroke-width="1" fill="none"/>
<path d="M736.7,1265 L736.7,1305.5 L721.9,1312" stroke="#111" stroke-width="1.8" fill="none"/>
<path d="M747.8,1264 L747.8,1313" stroke="#111" stroke-width="1" fill="none"/>
<path d="M749,1264 L803,1294" stroke="#111" stroke-width="1" fill="none"/>
<path d="M760,1260 L803,1284" stroke="#111" stroke-width="1" fill="none"/>
<path d="M777,1248 L803,1263" stroke="#111" stroke-width="1.8" fill="none"/>
<ellipse cx="705" cy="1272.5" rx="7" ry="9" fill="none" stroke="#111" stroke-width="1.2" transform="rotate(15 705 1272.5)"/>
<rect x="680.3" y="1100" width="13.9" height="52" fill="#e4e4e4" stroke="#111" stroke-width="1.6"/>
<ellipse cx="687.7" cy="1098.8" rx="9.2" ry="5.5" fill="#e4e4e4" stroke="#111" stroke-width="1.8" transform="rotate(0 687.7 1098.8)"/>
<ellipse cx="687.7" cy="1152" rx="6.5" ry="4" fill="#ccc" stroke="#111" stroke-width="1.6" transform="rotate(0 687.7 1152)"/>
<rect x="785" y="1073" width="14" height="55" fill="#b8b8b8" stroke="#111" stroke-width="1.6"/>
<rect x="782" y="1072" width="19.3" height="3.5" rx="1.5" fill="#b8b8b8" stroke="#111" stroke-width="1.4"/>
<rect x="788" y="1128" width="10" height="12" fill="#b8b8b8" stroke="#111" stroke-width="1.4"/>
<path d="M784.7,1133 L716.4,1131.1 L709,1136" stroke="#111" stroke-width="2" fill="none"/>
<path d="M711.5,1133.6 L705.8,1137 L702.7,1131.9 L696,1144 L709.9,1143.9 L706.8,1138.7 L712.5,1135.4 Z" fill="#262626" stroke="none" stroke-width="0"/>
<path d="M684.5,1156 L684.5,1175 L679.8,1175 L686.8,1188 L693.8,1175 L689,1175 L689,1156 Z" fill="#262626" stroke="none" stroke-width="0"/>
<path d="M647.4,1406.4 L640.3,1402.4 L780.4,1322.6 L787.4,1326.6 Z" fill="#fff" stroke="#111" stroke-width="1.4"/>
<path d="M647.4,1406.4 L640.3,1402.4 L640.3,1603.1 L647.4,1607.1 Z" fill="#fff" stroke="#111" stroke-width="1.4"/>
<path d="M644.1,1404.5 L644.1,1605.2" stroke="#111" stroke-width="0.8" fill="none"/>
<path d="M647.4,1406.4 L787.4,1326.6 L787.4,1507.7 L782.4,1510.6 L782.4,1530.1 L647.4,1607.1 L647.4,1406.4" stroke="#111" stroke-width="1.7" fill="none"/>
<path d="M649.9,1409.1 L784.9,1332.2" stroke="#111" stroke-width="1" fill="none"/>
<path d="M649.9,1411.6 L784.9,1334.7" stroke="#111" stroke-width="0.8" fill="none"/>
<path d="M649.5,1421 L649.5,1589.7" stroke="#111" stroke-width="2.2" fill="none"/>
<path d="M784.9,1330.5 L784.9,1506.7" stroke="#111" stroke-width="0.8" fill="none"/>
<path d="M650.7,1420.3 L784.1,1344.3 L784.1,1509.6 L650.7,1585.7 L650.7,1420.3" stroke="#111" stroke-width="1.3" fill="none"/>
<path d="M653.2,1421.4 L781.6,1348.2 L781.6,1508.6 L653.2,1581.7 L653.2,1421.4" stroke="#111" stroke-width="0.8" fill="none"/>
<path d="M655.7,1422.4 L779.1,1352.1 L779.1,1507.5 L655.7,1577.8 L655.7,1422.4" stroke="#111" stroke-width="0.8" fill="none"/>
<path d="M658.2,1423.5 L776.6,1356 L776.6,1506.4 L658.2,1573.9 L658.2,1423.5" stroke="#111" stroke-width="1.3" fill="none"/>
<path d="M650.7,1420.3 L658.2,1423.5" stroke="#111" stroke-width="0.8" fill="none"/>
<path d="M784.1,1509.6 L776.6,1506.4" stroke="#111" stroke-width="0.8" fill="none"/>
<path d="M784.1,1344.3 L776.6,1356" stroke="#111" stroke-width="0.8" fill="none"/>
<path d="M650.7,1585.7 L658.2,1573.9" stroke="#111" stroke-width="0.8" fill="none"/>
<path d="M653.2,1580.1 L781.6,1506.9" stroke="#555" stroke-width="1.1" fill="none"/>
<path d="M653.2,1578.4 L781.6,1505.2" stroke="#555" stroke-width="0.7" fill="none"/>
<path d="M647.4,1587.6 L782.4,1510.6" stroke="#111" stroke-width="1" fill="none"/>
<path d="M647.4,1590.9 L782.4,1513.9" stroke="#111" stroke-width="0.8" fill="none"/>
<ellipse cx="717.4" cy="1376.5" rx="2.3" ry="3" fill="none" stroke="#111" stroke-width="1.1" transform="rotate(15 717.4 1376.5)"/>
<ellipse cx="719.9" cy="1556.2" rx="2.2" ry="2.2" fill="none" stroke="#111" stroke-width="1.3" transform="rotate(0 719.9 1556.2)"/>
<ellipse cx="722.4" cy="1557" rx="1.7" ry="2" fill="none" stroke="#111" stroke-width="1.1" transform="rotate(0 722.4 1557)"/>
<ellipse cx="784.1" cy="1331" rx="1.3" ry="1.3" fill="none" stroke="#111" stroke-width="0.9" transform="rotate(0 784.1 1331)"/>
<path d="M635.4,1414.6 L635.4,1587.5 L629.9,1584.4 L629.9,1411.5 Z" fill="#fff" stroke="#111" stroke-width="1.4"/>
<path d="M639.5,1419.5 L639.5,1587.3 L635.4,1587.5 L635.4,1414.6 Z" fill="#fff" stroke="#111" stroke-width="1.3"/>
<path d="M632.4,1417.1 L632.4,1581.6" stroke="#777" stroke-width="0.8" fill="none"/>
<path d="M646.2,1437.4 L629.9,1428.1 L629.9,1439.8 L646.2,1449 Z" fill="#fff" stroke="#111" stroke-width="1.3"/>
<path d="M646.2,1575.3 L629.9,1566.1 L629.9,1577.7 L646.2,1587 Z" fill="#fff" stroke="#111" stroke-width="1.3"/>
<path d="M1036,207 C1010,214 1000,230 993,240 L935,322" stroke="#262626" stroke-width="3.6" fill="none"/>
<path d="M939.3,314.3 L929.7,324.3 L923.9,318.8 L918,338 L936.9,331.2 L931.2,325.7 L940.7,315.7 Z" fill="#262626" stroke="none" stroke-width="0"/>
<path d="M471.5,1119 L389,848" stroke="#262626" stroke-width="3.8" fill="none"/>
<path d="M391,851.8 L391.2,852.7 L399.4,850.5 L385.5,834.5 L381,855.3 L389.3,853.2 L389,852.2 Z" fill="#262626" stroke="none" stroke-width="0"/>
<path d="M377.7,826.3 L335,843" stroke="#262626" stroke-width="3.8" fill="none"/>
<path d="M337.6,841.1 L327.5,846.1 L323.5,838 L310,855.8 L332.4,855.9 L328.4,847.9 L338.4,842.9 Z" fill="#262626" stroke="none" stroke-width="0"/>
<path d="M250,1498 L318,1405" stroke="#262626" stroke-width="3.2" fill="none"/>
<path d="M312.7,1413.7 L316.4,1409.6 L322.4,1414.9 L329,1394 L309,1402.9 L314.9,1408.2 L311.3,1412.3 Z" fill="#262626" stroke="none" stroke-width="0"/>
<path d="M244.1,1524 L244.1,1536 C244,1548 238,1554 230,1558 L125.2,1618 C119,1620 115.3,1619 115.3,1612 L115.3,1598" stroke="#262626" stroke-width="2.8" fill="none"/>
<path d="M116.3,1602 L116.3,1599 L122.3,1599 L115.3,1587 L108.3,1599 L114.3,1599 L114.3,1602 Z" fill="#262626" stroke="none" stroke-width="0"/>
<path d="M780.6,1302.7 L770.7,1287 L777,1283 L759.5,1274 L760.1,1293.7 L766.5,1289.7 L776.4,1305.3 Z" fill="#fff" stroke="#fff" stroke-width="3" stroke-linejoin="miter"/>
<path d="M780.6,1302.7 L770.7,1287 L777,1283 L759.5,1274 L760.1,1293.7 L766.5,1289.7 L776.4,1305.3 Z" fill="#262626" stroke="none" stroke-width="0"/>
<circle cx="790" cy="1327" r="26" fill="#fff" stroke="none"/>
<path d="M770,1318 L784,1311" stroke="#111" stroke-width="1.6" fill="none"/>
<path d="M776,1328 L794,1318 L810,1327" stroke="#111" stroke-width="1.3" fill="none"/>
<path d="M772,1331 L790,1321 L808,1331" stroke="#111" stroke-width="1.3" fill="none"/>
<path d="M773,1334 L789,1325" stroke="#333" stroke-width="2.2" fill="none"/>
<path d="M779,1335 L779,1345" stroke="#111" stroke-width="1.3" fill="none"/>
<path d="M790,1330 L790,1347" stroke="#111" stroke-width="2.4" fill="none"/>
<path d="M785,1333 L785,1345" stroke="#111" stroke-width="1" fill="none"/>
<path d="M794,1322 L806,1329 L806,1332" stroke="#111" stroke-width="1.3" fill="none"/>
<path d="M794,1335 L808,1343" stroke="#111" stroke-width="1.5" fill="none"/>
<path d="M783,1344 L792,1339 L797,1344" stroke="#111" stroke-width="1.3" fill="none"/>
<circle cx="790" cy="1327" r="23.7" fill="none" stroke="#111" stroke-width="3.6"/>
</svg></body></html>
